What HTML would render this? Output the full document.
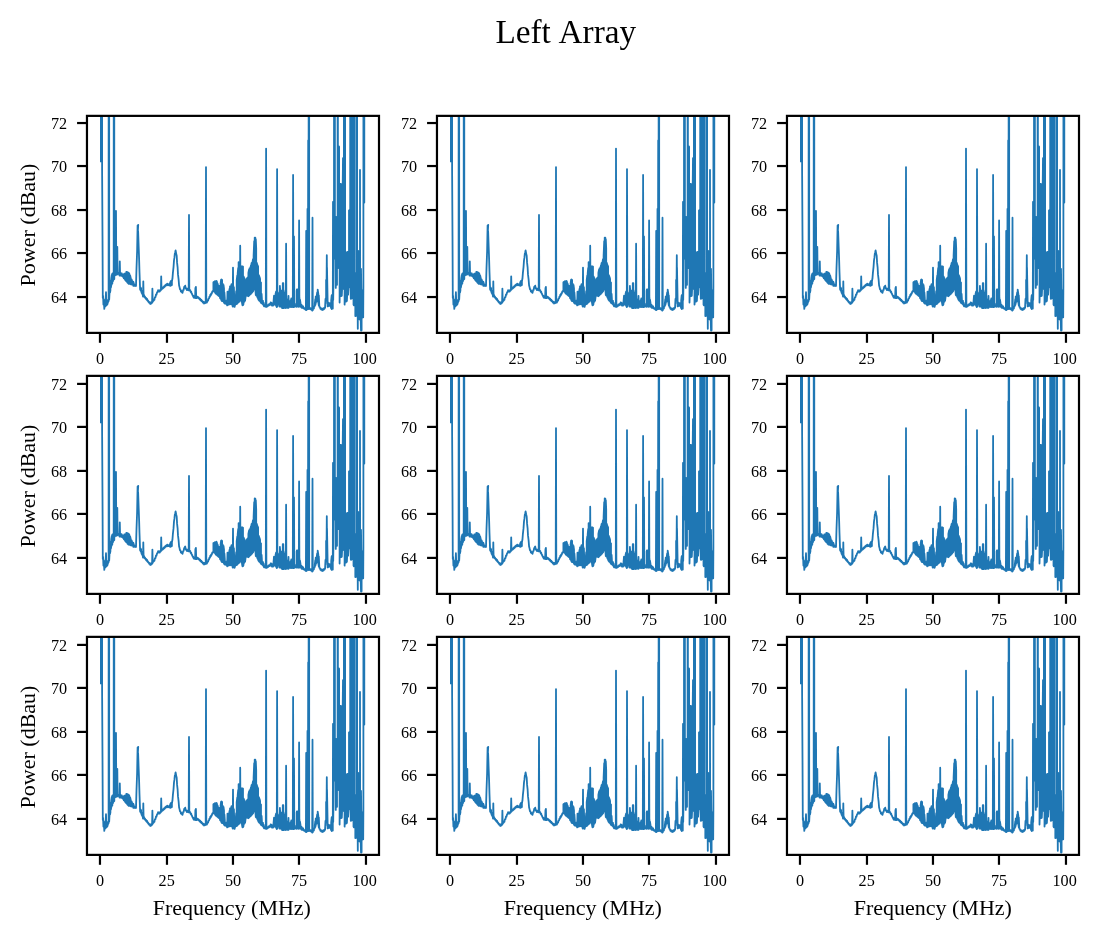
<!DOCTYPE html>
<html lang="en">
<head>
<meta charset="utf-8">
<title>Left Array</title>
<style>
html,body{margin:0;padding:0;background:#fff;}
body{width:1098px;height:940px;overflow:hidden;font-family:'Liberation Serif',serif;}
svg{display:block;}
</style>
</head>
<body>
<svg width="1098" height="940" viewBox="0 0 1098 940">
<rect x="0" y="0" width="1098" height="940" fill="#ffffff"/>
<text x="565.8" y="42.8" font-family="'Liberation Serif', serif" font-size="33.3" text-anchor="middle" word-spacing="1.2" fill="#000">Left Array</text>
<clipPath id="c00"><rect x="86.97" y="115.87" width="292.03" height="217.02"/></clipPath>
<path clip-path="url(#c00)" d="M100.9 162.3L101.0 -1500.0L101.9 -1500.0L102.1 170.0L102.5 236.0L102.8 298.0L103.1 296.0L103.4 304.5L103.8 299.5L104.3 308.9L104.8 302.5L105.3 306.5L106.0 292.2L106.4 305.5L106.9 300.0L107.3 304.6L107.9 302.2L108.6 301.0L109.0 -1500.0L109.2 299.5L109.5 293.2L109.5 284.9L110.0 284.9L110.0 292.5L110.4 290.5L110.4 283.0L110.8 280.4L110.8 287.9L111.3 285.4L111.3 278.3L111.8 274.9L111.8 284.0L112.3 283.6L112.3 273.6L112.8 273.2L112.8 281.6L113.4 279.6L113.4 273.2L113.7 279.6L114.0 -1500.0L114.3 279.1L113.9 273.7L113.9 277.8L114.4 276.5L114.4 273.8L114.8 274.1L114.8 275.3L115.3 274.7L115.3 273.9L115.7 275.0L116.0 210.9L116.3 274.5L115.8 273.7L115.8 274.4L116.3 274.7L116.3 273.5L116.7 273.4L116.7 274.3L117.0 274.6L117.3 246.8L117.6 274.1L117.3 274.0L117.3 273.2L117.9 273.0L117.9 273.7L118.4 273.9L118.4 272.9L118.9 272.9L118.9 273.7L119.5 275.6L119.8 261.3L120.1 275.1L119.4 274.5L119.4 273.0L120.0 272.7L120.0 275.1L120.5 275.6L120.5 273.3L120.9 273.1L120.9 275.2L121.3 275.5L121.3 273.8L121.8 273.4L121.8 275.9L122.4 276.4L122.4 274.5L122.9 274.8L122.9 276.7L123.3 277.1L123.3 274.9L123.8 274.3L123.8 278.2L124.3 278.6L124.3 273.6L124.8 273.6L124.8 278.9L125.2 280.0L125.2 273.9L125.8 273.3L125.8 280.6L126.3 281.2L126.3 271.9L126.8 272.0L126.8 281.7L127.2 282.0L127.2 272.8L127.6 272.4L127.6 282.7L128.0 283.0L128.0 273.2L128.6 272.6L128.6 283.8L129.1 283.4L129.1 273.4L129.6 274.6L129.6 283.8L130.2 283.8L130.2 275.6L130.7 278.0L130.7 284.3L131.3 284.3L131.3 279.3L131.7 279.5L131.7 284.5L132.3 283.8L132.3 280.9L132.8 282.0L132.8 284.3L133.4 285.8L133.4 281.9L133.8 283.5L133.8 285.9L134.4 285.5L134.4 284.5L135.0 284.9L135.0 285.9L135.4 284.6L136.0 286.0L136.5 268.4L137.1 251.5L137.6 225.4L137.9 226.2L138.2 224.9L137.5 237.5L138.1 230.9L138.6 244.7L139.1 258.6L139.5 272.5L140.1 289.3L140.6 290.2L140.6 287.5L141.1 288.5L141.1 290.8L141.7 293.0L141.7 290.9L142.3 292.2L142.3 293.9L142.7 294.9L142.7 292.9L143.0 296.7L143.3 281.3L143.6 296.2L143.2 293.8L143.2 295.9L143.8 296.6L143.8 294.7L144.2 295.5L144.2 296.6L144.7 297.2L144.7 296.3L145.2 297.0L145.2 297.9L145.8 298.6L145.8 297.8L146.3 298.2L146.3 299.2L146.7 299.8L146.7 298.4L147.3 299.3L147.3 300.4L147.8 301.0L147.8 300.4L148.2 300.9L148.2 301.5L148.7 302.0L148.7 301.5L149.3 302.9L149.8 302.3L150.3 304.0L150.8 302.4L151.4 303.5L152.1 302.3L152.4 288.6L152.7 301.8L152.0 301.7L152.4 302.5L153.0 300.6L153.4 300.9L153.9 299.4L154.4 299.9L154.9 297.4L155.5 297.2L156.0 294.4L156.5 294.6L157.1 292.2L157.6 292.2L158.1 290.1L158.7 291.3L159.2 290.4L159.7 291.6L160.1 290.1L160.5 290.6L160.9 289.7L161.2 276.3L161.5 289.2L161.0 288.9L161.5 289.5L162.0 287.9L162.6 288.6L163.2 287.2L163.6 287.7L164.2 286.1L164.6 287.0L165.2 285.3L165.6 285.9L166.2 284.3L166.8 284.4L166.8 284.9L167.2 285.2L167.2 283.7L167.7 283.8L167.7 284.9L168.3 285.2L168.3 284.4L168.8 284.4L168.8 285.2L169.2 285.2L169.2 284.2L169.6 284.4L169.6 285.5L170.1 285.6L170.1 282.9L170.6 281.5L170.6 285.8L171.0 284.9L171.0 281.0L171.5 281.5L171.5 285.0L171.9 285.1L171.9 281.5L172.4 278.5L172.4 279.1L172.9 272.9L173.5 267.4L174.0 260.4L174.4 257.9L174.8 253.8L175.2 252.5L175.6 250.3L176.2 253.6L176.7 255.7L177.1 262.9L177.6 267.3L178.0 274.4L178.6 279.4L179.1 285.6L179.5 286.9L179.9 289.1L180.4 289.3L180.9 291.5L181.3 290.7L181.7 292.0L182.1 291.4L182.5 292.9L183.1 290.2L183.6 290.0L184.2 287.0L184.6 286.6L185.2 285.6L185.8 288.5L186.2 288.2L186.8 290.0L187.3 288.7L187.7 290.1L188.2 288.8L188.7 290.1L189.0 215.0L189.3 289.6L188.8 290.4L189.3 289.2L189.9 290.5L190.3 290.1L190.7 292.2L191.2 291.6L191.7 293.9L192.2 293.9L192.7 295.9L193.2 295.7L193.7 297.7L194.3 296.8L194.8 297.9L195.1 297.7L195.4 287.8L195.8 297.2L195.2 296.9L195.6 297.7L195.9 286.8L196.2 297.2L195.8 298.1L196.3 296.8L196.8 298.0L197.3 296.7L197.9 297.8L198.4 297.2L198.8 298.6L199.4 298.2L199.9 299.6L200.3 298.8L200.8 300.5L201.4 299.9L201.9 301.4L202.4 300.9L203.0 302.7L203.6 301.9L204.0 303.5L204.5 302.1L205.0 303.2L205.5 301.7L205.7 302.6L206.0 167.1L206.3 302.1L205.9 302.8L206.3 301.7L206.9 302.6L207.5 300.3L208.1 300.6L208.5 298.6L209.0 298.6L209.4 296.7L209.9 296.8L210.3 294.7L210.8 295.4L211.2 293.5L211.7 293.7L212.3 291.5L212.9 291.6L213.4 290.8L213.4 282.2L214.0 281.9L214.0 290.6L214.4 291.6L214.4 282.3L214.9 281.2L214.9 291.8L215.3 292.8L215.3 281.3L215.9 281.1L215.9 293.7L216.5 293.5L216.5 280.8L217.0 282.1L217.0 294.5L217.5 294.8L217.5 283.3L218.1 285.6L218.1 295.4L218.6 295.6L218.6 285.9L219.1 286.0L219.1 296.3L219.6 296.6L219.6 287.6L220.0 287.8L220.0 298.0L220.6 298.8L220.6 283.3L221.1 279.6L221.1 299.2L221.5 300.4L221.5 279.5L222.1 279.9L222.1 301.2L222.6 300.4L222.6 283.6L223.0 284.8L223.0 301.1L223.5 301.7L223.5 284.8L224.0 288.6L224.0 302.8L224.4 302.8L224.4 292.5L224.8 298.1L224.8 303.5L225.3 303.0L225.3 300.5L225.8 300.8L225.8 303.8L226.3 303.2L226.3 300.9L226.8 300.2L226.8 303.9L227.2 305.4L227.5 291.6L227.8 304.9L227.3 304.2L227.3 298.6L227.7 295.8L227.7 304.3L228.3 304.7L228.3 294.4L228.7 294.4L228.7 304.3L229.1 304.1L229.1 291.3L229.6 288.7L229.6 304.3L230.0 304.4L230.0 286.4L230.6 286.9L230.6 303.9L231.1 304.1L231.1 286.2L231.5 284.2L231.5 303.6L232.0 304.5L232.0 284.0L232.4 285.7L232.4 305.0L232.7 306.5L233.0 267.6L233.3 306.0L232.9 305.3L232.9 285.5L233.4 286.2L233.4 306.3L233.9 306.4L233.9 287.4L234.3 300.0L234.3 306.8L234.7 306.8L234.7 300.7L235.3 298.5L235.3 304.8L235.8 303.6L235.8 296.3L236.2 291.2L236.2 303.0L236.7 304.0L236.7 280.1L237.3 275.4L237.3 303.5L237.7 303.1L237.7 273.2L238.2 268.0L238.2 302.4L238.6 302.1L238.6 262.2L239.2 262.7L239.2 301.8L239.8 299.4L239.8 264.6L239.9 299.8L240.2 245.7L240.5 299.3L240.2 265.7L240.2 299.7L240.7 299.1L240.7 266.7L241.1 266.5L241.1 300.3L241.5 301.8L241.5 266.5L242.1 266.4L242.1 303.6L242.5 305.4L242.5 266.5L243.0 266.7L243.0 305.1L243.5 304.1L243.5 276.3L244.1 277.9L244.1 302.1L244.6 301.4L244.6 278.5L245.1 280.5L245.1 300.7L245.6 296.6L245.6 280.1L246.1 280.4L246.1 295.5L246.6 295.5L246.6 280.3L247.0 278.2L247.0 295.0L247.4 295.8L247.4 278.4L248.0 277.1L248.0 295.8L248.4 296.2L248.4 272.8L249.0 269.6L249.0 295.7L249.5 294.6L249.5 268.5L250.0 268.4L250.0 294.6L250.5 294.2L250.5 267.4L251.0 265.1L251.0 293.7L251.5 292.5L251.5 263.2L252.0 262.8L252.0 292.6L252.5 291.3L252.5 262.2L253.0 259.1L253.0 291.5L253.6 289.8L253.6 255.9L254.2 241.2L254.2 288.7L254.7 288.9L254.7 237.6L255.3 237.6L255.3 288.8L255.8 295.1L255.8 239.2L256.2 248.3L256.2 295.5L256.7 295.6L256.7 262.7L257.2 264.5L257.2 296.5L257.6 297.8L257.6 265.2L258.1 266.6L258.1 298.6L258.5 299.8L258.5 275.1L259.0 275.3L259.0 300.3L259.5 300.9L259.5 276.8L260.1 279.0L260.1 301.2L260.6 302.2L260.6 282.4L261.0 282.4L261.0 302.9L261.6 303.1L261.6 293.8L262.0 300.5L262.0 303.4L262.5 304.1L262.5 300.9L263.0 301.0L263.0 304.4L263.6 305.2L263.6 302.6L264.0 304.6L264.0 306.3L264.6 306.2L264.6 305.4L265.2 305.8L265.2 306.3L265.8 306.7L266.1 148.6L266.4 306.2L265.6 306.3L265.6 305.8L266.1 306.7L266.5 305.8L267.0 306.8L267.5 305.4L267.9 305.5L267.9 306.0L268.5 305.6L268.5 304.5L269.1 304.4L269.1 305.3L269.6 304.9L269.6 304.2L270.1 303.6L270.1 304.8L270.6 304.2L270.6 302.4L271.1 302.6L271.1 304.4L271.5 304.6L271.5 302.8L271.9 303.4L271.9 305.5L272.4 305.4L272.4 303.4L273.0 303.3L273.0 305.6L273.4 304.7L273.4 303.0L274.0 295.7L274.0 304.0L274.5 304.3L274.5 297.3L275.0 296.9L275.0 304.8L275.6 304.5L275.6 293.7L276.2 291.3L276.2 305.9L276.8 307.0L277.1 169.1L277.4 306.5L276.6 306.5L276.6 292.0L277.1 292.7L277.1 306.2L277.5 304.6L277.5 294.6L277.9 294.1L277.9 304.4L278.5 303.9L278.5 294.2L279.0 292.9L279.0 303.6L279.6 306.7L279.9 285.8L280.2 306.2L279.5 304.3L279.5 293.1L280.1 287.9L280.1 305.0L280.5 306.1L280.5 291.7L281.0 292.2L281.0 306.8L281.4 307.0L281.4 292.4L281.9 290.3L281.9 307.9L282.5 308.0L282.8 283.1L283.1 307.5L282.5 307.7L282.5 289.8L283.0 308.1L283.3 283.1L283.6 307.6L283.0 283.3L283.0 308.0L283.6 308.0L283.6 290.2L284.1 292.8L284.1 307.8L284.6 307.8L284.6 292.9L285.1 294.4L285.1 306.7L285.6 306.1L285.6 296.0L285.8 308.1L286.1 243.7L286.4 307.6L286.0 297.0L286.0 306.6L286.6 307.2L286.6 299.3L287.0 300.6L287.0 307.1L287.4 307.5L287.4 300.6L287.9 299.4L287.9 307.4L288.2 308.0L288.5 295.8L288.8 307.5L288.4 307.1L288.4 297.7L288.8 300.9L288.8 307.5L289.2 306.7L289.2 301.8L289.7 301.8L289.7 306.0L290.2 306.6L290.2 302.2L290.8 300.0L290.8 307.0L291.3 307.0L291.3 298.3L291.8 299.1L291.8 306.6L292.2 306.2L292.2 300.6L292.8 307.2L293.1 175.0L293.4 306.7L292.7 302.6L292.7 306.1L293.2 305.6L293.2 303.6L293.7 307.0L294.0 236.4L294.3 306.5L293.7 304.5L293.7 307.0L294.1 306.5L294.1 305.2L294.6 305.3L294.6 306.8L295.1 306.3L295.1 305.5L295.6 305.5L295.6 306.3L296.2 306.0L296.2 303.7L296.6 306.8L296.9 289.5L297.2 306.3L296.7 290.4L296.7 306.3L297.1 306.7L297.4 289.5L297.7 306.2L297.2 306.5L297.2 290.9L297.7 291.2L297.7 305.9L298.1 306.3L298.1 291.9L298.5 293.8L298.5 306.3L298.8 306.9L299.1 220.4L299.4 306.4L299.1 306.7L299.1 295.5L299.5 298.0L299.5 305.0L300.0 305.6L300.0 299.6L300.6 303.6L300.6 306.5L301.1 307.0L301.1 304.8L301.6 304.9L301.6 307.7L302.0 307.9L302.0 305.7L302.6 306.0L302.6 307.9L303.0 308.0L303.0 306.2L303.5 307.3L303.5 308.2L304.0 308.6L304.0 308.0L304.5 308.1L304.5 308.9L305.0 308.7L305.6 309.9L305.9 310.0L306.2 230.8L306.5 309.5L306.2 309.0L306.6 310.0L307.2 308.2L307.5 208.8L307.8 307.7L307.1 308.1L307.5 309.1L307.9 308.4L308.2 140.4L308.5 307.9L308.0 307.7L308.6 308.7L308.9 -1500.0L309.2 308.2L308.5 309.0L308.9 307.5L309.4 308.8L309.9 309.1L309.9 308.0L310.4 308.1L310.4 308.7L310.9 309.4L310.9 308.4L311.5 308.5L311.5 309.8L312.0 309.4L312.0 308.6L312.2 310.7L312.5 217.7L312.8 310.2L312.4 308.6L312.4 309.7L312.9 309.4L312.9 308.5L313.3 308.1L313.3 308.8L313.9 308.4L313.9 306.8L314.3 306.3L314.3 307.0L314.8 305.6L314.8 303.6L315.3 299.2L315.3 304.9L315.7 303.5L315.7 296.7L316.3 296.5L316.3 302.1L316.7 301.4L316.7 295.9L317.2 292.5L317.2 300.6L317.7 300.5L317.7 289.6L318.3 293.6L318.3 301.9L318.8 305.4L318.8 295.4L319.3 305.8L319.3 306.7L319.9 307.0L320.4 308.8L320.8 307.9L321.3 309.6L321.9 308.9L322.4 310.0L322.9 308.5L323.4 309.6L324.0 307.9L324.5 308.7L325.1 307.5L325.1 306.8L325.5 298.8L325.5 303.8L326.1 297.1L326.1 279.9L326.5 291.2L326.8 255.2L327.1 290.7L326.6 278.6L326.6 291.4L327.0 295.6L327.0 267.4L327.6 299.2L327.6 306.4L328.2 306.1L328.2 302.4L328.6 303.5L328.6 305.7L329.1 305.6L329.1 303.8L329.6 303.2L329.6 305.8L330.2 305.7L330.2 303.7L330.6 303.3L330.6 306.0L331.2 308.2L331.2 300.0L331.7 295.4L331.7 309.0L332.2 308.1L332.2 294.7L332.8 308.5L333.0 201.8L333.2 300.0L333.4 285.7L333.4 203.0L333.7 202.1L333.7 258.7L334.0 258.8L334.0 203.0L334.3 -1500.0L334.3 258.5L334.6 258.5L334.6 -1500.0L334.9 -1500.0L334.9 258.4L335.2 258.6L335.2 217.7L335.5 217.3L335.5 258.5L335.8 287.9L335.8 217.0L336.1 217.1L336.1 284.1L336.4 284.2L336.4 217.6L336.7 217.6L336.7 284.1L337.0 284.8L337.0 216.7L337.3 216.6L337.3 267.9L337.6 268.1L337.6 -1500.0L337.9 -1500.0L337.9 267.8L338.2 268.0L338.2 145.9L338.5 146.0L338.5 267.9L338.8 267.8L338.8 146.4L339.1 146.8L339.1 267.9L339.4 267.3L339.4 185.0L339.6 183.8L339.6 302.6L339.7 294.9L339.7 185.0L340.0 185.0L340.0 295.3L340.3 295.0L340.3 183.8L340.6 184.8L340.6 295.7L340.9 296.1L340.9 184.0L341.2 184.2L341.2 296.1L341.5 295.8L341.5 184.3L341.8 185.0L341.8 295.7L342.1 289.3L342.1 185.1L342.4 185.0L342.4 289.1L342.7 289.0L342.7 185.1L343.0 158.1L343.0 288.2L343.3 288.3L343.3 158.6L343.6 158.5L343.6 288.3L343.9 288.2L343.9 158.6L344.2 -1500.0L344.2 289.2L344.5 289.2L344.5 -1500.0L344.6 -1500.0L344.6 304.6L344.8 301.3L344.8 -1500.0L345.1 252.5L345.1 301.5L345.4 301.3L345.4 252.5L345.7 253.1L345.7 301.3L346.0 301.6L346.0 253.1L346.3 252.6L346.3 301.3L346.6 300.6L346.6 252.4L346.9 253.2L346.9 300.9L347.2 294.7L347.2 252.8L347.5 251.8L347.5 294.5L347.8 294.5L347.8 253.2L348.1 253.3L348.1 294.7L348.4 287.4L348.4 252.5L348.7 251.9L348.7 287.2L349.0 287.2L349.0 210.3L349.3 210.3L349.3 287.1L349.6 287.2L349.6 210.6L349.9 210.1L349.9 287.1L350.2 287.7L350.2 -1500.0L350.5 -1500.0L350.5 287.6L350.8 298.7L350.8 -1500.0L351.1 -1500.0L351.1 298.9L351.4 298.3L351.4 -1500.0L351.7 -1500.0L351.7 298.2L352.0 298.3L352.0 -1500.0L352.3 -1500.0L352.3 298.2L352.6 297.8L352.6 -1500.0L352.9 -1500.0L352.9 297.8L353.2 298.0L353.2 -1500.0L353.5 -1500.0L353.5 304.4L353.8 305.3L353.8 -1500.0L354.1 -1500.0L354.1 305.3L354.4 305.2L354.4 272.9L354.7 274.1L354.7 305.2L355.0 305.3L355.0 273.3L355.3 273.1L355.3 316.1L355.6 315.7L355.6 273.7L355.9 274.0L355.9 315.8L356.2 315.2L356.2 273.7L356.5 -1500.0L356.5 315.2L356.8 315.2L356.8 -1500.0L357.1 251.8L357.1 315.2L357.4 316.1L357.4 251.5L357.7 251.0L357.7 316.1L357.8 328.8L357.8 250.8L358.0 250.9L358.0 319.6L358.3 319.3L358.3 252.2L358.6 252.0L358.6 319.0L358.9 318.8L358.9 251.6L359.2 251.3L359.2 319.1L359.5 319.0L359.5 251.3L359.8 252.2L359.8 319.2L360.0 319.7L360.0 170.0L360.1 269.7L360.1 319.5L360.4 319.5L360.4 269.0L360.7 269.7L360.7 319.1L361.0 330.6L361.0 268.8L361.3 291.2L361.3 330.6L361.6 330.3L361.6 291.8L361.9 290.9L361.9 316.2L362.2 317.2L362.2 290.6L362.5 290.3L362.5 317.4L362.8 317.5L362.8 291.3L363.2 317.2L363.4 285.0L363.6 -1500.0L364.3 202.5L364.7 -1500.0" fill="none" stroke="#1f77b4" stroke-width="1.8" stroke-linejoin="round" stroke-linecap="butt"/>
<line x1="99.97" y1="332.89" x2="99.97" y2="342.79" stroke="#000" stroke-width="2.2"/>
<text x="99.97" y="364.19" font-family="'Liberation Serif', serif" font-size="16.2" text-anchor="middle" fill="#000">0</text>
<line x1="166.97" y1="332.89" x2="166.97" y2="342.79" stroke="#000" stroke-width="2.2"/>
<text x="166.67" y="364.19" font-family="'Liberation Serif', serif" font-size="16.2" text-anchor="middle" fill="#000">25</text>
<line x1="232.97" y1="332.89" x2="232.97" y2="342.79" stroke="#000" stroke-width="2.2"/>
<text x="232.97" y="364.19" font-family="'Liberation Serif', serif" font-size="16.2" text-anchor="middle" fill="#000">50</text>
<line x1="298.97" y1="332.89" x2="298.97" y2="342.79" stroke="#000" stroke-width="2.2"/>
<text x="298.97" y="364.19" font-family="'Liberation Serif', serif" font-size="16.2" text-anchor="middle" fill="#000">75</text>
<line x1="365.97" y1="332.89" x2="365.97" y2="342.79" stroke="#000" stroke-width="2.2"/>
<text x="364.67" y="364.19" font-family="'Liberation Serif', serif" font-size="16.2" text-anchor="middle" fill="#000">100</text>
<line x1="77.07" y1="297.03" x2="86.97" y2="297.03" stroke="#000" stroke-width="2.2"/>
<text x="67.17" y="302.93" font-family="'Liberation Serif', serif" font-size="16.2" text-anchor="end" fill="#000">64</text>
<line x1="77.07" y1="253.03" x2="86.97" y2="253.03" stroke="#000" stroke-width="2.2"/>
<text x="67.17" y="258.93" font-family="'Liberation Serif', serif" font-size="16.2" text-anchor="end" fill="#000">66</text>
<line x1="77.07" y1="210.03" x2="86.97" y2="210.03" stroke="#000" stroke-width="2.2"/>
<text x="67.17" y="215.93" font-family="'Liberation Serif', serif" font-size="16.2" text-anchor="end" fill="#000">68</text>
<line x1="77.07" y1="166.03" x2="86.97" y2="166.03" stroke="#000" stroke-width="2.2"/>
<text x="67.17" y="171.93" font-family="'Liberation Serif', serif" font-size="16.2" text-anchor="end" fill="#000">70</text>
<line x1="77.07" y1="123.03" x2="86.97" y2="123.03" stroke="#000" stroke-width="2.2"/>
<text x="67.17" y="128.93" font-family="'Liberation Serif', serif" font-size="16.2" text-anchor="end" fill="#000">72</text>
<rect x="86.97" y="115.87" width="292.03" height="217.02" fill="none" stroke="#000" stroke-width="2.2" stroke-linejoin="miter"/>
<text transform="translate(35.4 225.00) rotate(-90)" font-family="'Liberation Serif', serif" font-size="22.0" text-anchor="middle" fill="#000">Power (dBau)</text>
<clipPath id="c01"><rect x="436.97" y="115.87" width="292.03" height="217.02"/></clipPath>
<path clip-path="url(#c01)" d="M450.9 162.3L450.9 -1500.0L451.9 -1500.0L452.1 170.0L452.5 236.0L452.8 298.0L453.1 296.0L453.4 304.5L453.8 299.5L454.3 308.9L454.8 302.5L455.3 306.5L455.9 292.2L456.4 305.5L456.9 300.0L457.3 304.6L457.9 302.2L458.6 301.0L458.9 -1500.0L459.2 299.5L459.5 293.2L459.5 284.9L460.0 284.9L460.0 292.5L460.4 290.5L460.4 283.0L460.8 280.4L460.8 287.9L461.3 285.4L461.3 278.3L461.8 274.9L461.8 284.0L462.3 283.6L462.3 273.6L462.8 273.2L462.8 281.6L463.4 279.6L463.4 273.2L463.7 279.6L464.0 -1500.0L464.3 279.1L463.9 273.7L463.9 277.8L464.4 276.5L464.4 273.8L464.8 274.1L464.8 275.3L465.3 274.7L465.3 273.9L465.7 275.0L466.0 210.9L466.3 274.5L465.8 273.7L465.8 274.4L466.3 274.7L466.3 273.5L466.7 273.4L466.7 274.3L467.0 274.6L467.3 246.8L467.6 274.1L467.3 274.0L467.3 273.2L467.9 273.0L467.9 273.7L468.4 273.9L468.4 272.9L468.9 272.9L468.9 273.7L469.5 275.6L469.8 261.3L470.1 275.1L469.4 274.5L469.4 273.0L470.0 272.7L470.0 275.1L470.5 275.6L470.5 273.3L470.9 273.1L470.9 275.2L471.3 275.5L471.3 273.8L471.8 273.4L471.8 275.9L472.4 276.4L472.4 274.5L472.9 274.8L472.9 276.7L473.3 277.1L473.3 274.9L473.8 274.3L473.8 278.2L474.3 278.6L474.3 273.6L474.8 273.6L474.8 278.9L475.2 280.0L475.2 273.9L475.8 273.3L475.8 280.6L476.3 281.2L476.3 271.9L476.8 272.0L476.8 281.7L477.2 282.0L477.2 272.8L477.6 272.4L477.6 282.7L478.0 283.0L478.0 273.2L478.6 272.6L478.6 283.8L479.1 283.4L479.1 273.4L479.6 274.6L479.6 283.8L480.2 283.8L480.2 275.6L480.7 278.0L480.7 284.3L481.3 284.3L481.3 279.3L481.7 279.5L481.7 284.5L482.3 283.8L482.3 280.9L482.8 282.0L482.8 284.3L483.4 285.8L483.4 281.9L483.8 283.5L483.8 285.9L484.4 285.5L484.4 284.5L485.0 284.9L485.0 285.9L485.4 284.6L486.0 286.0L486.5 268.4L487.1 251.5L487.6 225.4L487.9 226.2L488.2 224.9L487.5 237.5L488.1 230.9L488.6 244.7L489.1 258.6L489.5 272.5L490.1 289.3L490.6 290.2L490.6 287.5L491.1 288.5L491.1 290.8L491.7 293.0L491.7 290.9L492.3 292.2L492.3 293.9L492.7 294.9L492.7 292.9L493.0 296.7L493.3 281.3L493.6 296.2L493.2 293.8L493.2 295.9L493.8 296.6L493.8 294.7L494.2 295.5L494.2 296.6L494.7 297.2L494.7 296.3L495.2 297.0L495.2 297.9L495.8 298.6L495.8 297.8L496.3 298.2L496.3 299.2L496.7 299.8L496.7 298.4L497.3 299.3L497.3 300.4L497.8 301.0L497.8 300.4L498.2 300.9L498.2 301.5L498.7 302.0L498.7 301.5L499.3 302.9L499.8 302.3L500.3 304.0L500.8 302.4L501.4 303.5L502.1 302.3L502.4 288.6L502.7 301.8L502.0 301.7L502.4 302.5L503.0 300.6L503.4 300.9L503.9 299.4L504.4 299.9L504.9 297.4L505.5 297.2L506.0 294.4L506.5 294.6L507.1 292.2L507.6 292.2L508.1 290.1L508.7 291.3L509.2 290.4L509.7 291.6L510.1 290.1L510.5 290.6L510.9 289.7L511.2 276.3L511.5 289.2L511.0 288.9L511.5 289.5L512.0 287.9L512.6 288.6L513.2 287.2L513.6 287.7L514.2 286.1L514.6 287.0L515.2 285.3L515.6 285.9L516.2 284.3L516.8 284.4L516.8 284.9L517.2 285.2L517.2 283.7L517.7 283.8L517.7 284.9L518.3 285.2L518.3 284.4L518.8 284.4L518.8 285.2L519.2 285.2L519.2 284.2L519.6 284.4L519.6 285.5L520.1 285.6L520.1 282.9L520.6 281.5L520.6 285.8L521.0 284.9L521.0 281.0L521.5 281.5L521.5 285.0L521.9 285.1L521.9 281.5L522.4 278.5L522.4 279.1L522.9 272.9L523.5 267.4L524.0 260.4L524.4 257.9L524.8 253.8L525.2 252.5L525.6 250.3L526.2 253.6L526.7 255.7L527.1 262.9L527.6 267.3L528.0 274.4L528.6 279.4L529.1 285.6L529.5 286.9L529.9 289.1L530.4 289.3L530.9 291.5L531.3 290.7L531.7 292.0L532.1 291.4L532.5 292.9L533.1 290.2L533.6 290.0L534.2 287.0L534.6 286.6L535.2 285.6L535.8 288.5L536.2 288.2L536.8 290.0L537.3 288.7L537.7 290.1L538.2 288.8L538.7 290.1L539.0 215.0L539.3 289.6L538.8 290.4L539.3 289.2L539.9 290.5L540.3 290.1L540.7 292.2L541.2 291.6L541.7 293.9L542.2 293.9L542.7 295.9L543.2 295.7L543.7 297.7L544.3 296.8L544.8 297.9L545.1 297.7L545.5 287.8L545.8 297.2L545.2 296.9L545.6 297.7L545.9 286.8L546.2 297.2L545.8 298.1L546.3 296.8L546.8 298.0L547.3 296.7L547.9 297.8L548.4 297.2L548.8 298.6L549.4 298.2L549.9 299.6L550.3 298.8L550.8 300.5L551.4 299.9L551.9 301.4L552.4 300.9L553.0 302.7L553.6 301.9L554.0 303.5L554.5 302.1L555.0 303.2L555.5 301.7L555.7 302.6L556.0 167.1L556.3 302.1L555.9 302.8L556.3 301.7L556.9 302.6L557.5 300.3L558.1 300.6L558.5 298.6L559.0 298.6L559.4 296.7L559.9 296.8L560.3 294.7L560.8 295.4L561.2 293.5L561.7 293.7L562.3 291.5L562.9 291.6L563.4 290.8L563.4 282.2L564.0 281.9L564.0 290.6L564.4 291.6L564.4 282.3L564.9 281.2L564.9 291.8L565.3 292.8L565.3 281.3L565.9 281.1L565.9 293.7L566.5 293.5L566.5 280.8L567.0 282.1L567.0 294.5L567.5 294.8L567.5 283.3L568.1 285.6L568.1 295.4L568.6 295.6L568.6 285.9L569.1 286.0L569.1 296.3L569.6 296.6L569.6 287.6L570.0 287.8L570.0 298.0L570.6 298.8L570.6 283.3L571.1 279.6L571.1 299.2L571.5 300.4L571.5 279.5L572.1 279.9L572.1 301.2L572.6 300.4L572.6 283.6L573.0 284.8L573.0 301.1L573.5 301.7L573.5 284.8L574.0 288.6L574.0 302.8L574.4 302.8L574.4 292.5L574.8 298.1L574.8 303.5L575.3 303.0L575.3 300.5L575.8 300.8L575.8 303.8L576.3 303.2L576.3 300.9L576.8 300.2L576.8 303.9L577.2 305.4L577.5 291.6L577.8 304.9L577.3 304.2L577.3 298.6L577.7 295.8L577.7 304.3L578.3 304.7L578.3 294.4L578.7 294.4L578.7 304.3L579.1 304.1L579.1 291.3L579.6 288.7L579.6 304.3L580.0 304.4L580.0 286.4L580.6 286.9L580.6 303.9L581.1 304.1L581.1 286.2L581.5 284.2L581.5 303.6L582.0 304.5L582.0 284.0L582.4 285.7L582.4 305.0L582.7 306.5L583.0 267.6L583.3 306.0L582.9 305.3L582.9 285.5L583.4 286.2L583.4 306.3L583.9 306.4L583.9 287.4L584.3 300.0L584.3 306.8L584.7 306.8L584.7 300.7L585.3 298.5L585.3 304.8L585.8 303.6L585.8 296.3L586.2 291.2L586.2 303.0L586.7 304.0L586.7 280.1L587.3 275.4L587.3 303.5L587.7 303.1L587.7 273.2L588.2 268.0L588.2 302.4L588.6 302.1L588.6 262.2L589.2 262.7L589.2 301.8L589.8 299.4L589.8 264.6L589.9 299.8L590.2 245.7L590.5 299.3L590.2 265.7L590.2 299.7L590.7 299.1L590.7 266.7L591.1 266.5L591.1 300.3L591.5 301.8L591.5 266.5L592.1 266.4L592.1 303.6L592.5 305.4L592.5 266.5L593.0 266.7L593.0 305.1L593.5 304.1L593.5 276.3L594.1 277.9L594.1 302.1L594.6 301.4L594.6 278.5L595.1 280.5L595.1 300.7L595.6 296.6L595.6 280.1L596.1 280.4L596.1 295.5L596.6 295.5L596.6 280.3L597.0 278.2L597.0 295.0L597.4 295.8L597.4 278.4L598.0 277.1L598.0 295.8L598.4 296.2L598.4 272.8L599.0 269.6L599.0 295.7L599.5 294.6L599.5 268.5L600.0 268.4L600.0 294.6L600.5 294.2L600.5 267.4L601.0 265.1L601.0 293.7L601.5 292.5L601.5 263.2L602.0 262.8L602.0 292.6L602.5 291.3L602.5 262.2L603.0 259.1L603.0 291.5L603.6 289.8L603.6 255.9L604.2 241.2L604.2 288.7L604.7 288.9L604.7 237.6L605.3 237.6L605.3 288.8L605.8 295.1L605.8 239.2L606.2 248.3L606.2 295.5L606.7 295.6L606.7 262.7L607.2 264.5L607.2 296.5L607.6 297.8L607.6 265.2L608.1 266.6L608.1 298.6L608.5 299.8L608.5 275.1L609.0 275.3L609.0 300.3L609.5 300.9L609.5 276.8L610.1 279.0L610.1 301.2L610.6 302.2L610.6 282.4L611.0 282.4L611.0 302.9L611.6 303.1L611.6 293.8L612.0 300.5L612.0 303.4L612.5 304.1L612.5 300.9L613.0 301.0L613.0 304.4L613.6 305.2L613.6 302.6L614.0 304.6L614.0 306.3L614.6 306.2L614.6 305.4L615.2 305.8L615.2 306.3L615.8 306.7L616.0 148.6L616.4 306.2L615.6 306.3L615.6 305.8L616.1 306.7L616.5 305.8L617.0 306.8L617.5 305.4L617.9 305.5L617.9 306.0L618.5 305.6L618.5 304.5L619.1 304.4L619.1 305.3L619.6 304.9L619.6 304.2L620.1 303.6L620.1 304.8L620.6 304.2L620.6 302.4L621.1 302.6L621.1 304.4L621.5 304.6L621.5 302.8L621.9 303.4L621.9 305.5L622.4 305.4L622.4 303.4L623.0 303.3L623.0 305.6L623.4 304.7L623.4 303.0L624.0 295.7L624.0 304.0L624.5 304.3L624.5 297.3L625.0 296.9L625.0 304.8L625.6 304.5L625.6 293.7L626.2 291.3L626.2 305.9L626.8 307.0L627.0 169.1L627.4 306.5L626.6 306.5L626.6 292.0L627.1 292.7L627.1 306.2L627.5 304.6L627.5 294.6L627.9 294.1L627.9 304.4L628.5 303.9L628.5 294.2L629.0 292.9L629.0 303.6L629.6 306.7L629.9 285.8L630.2 306.2L629.5 304.3L629.5 293.1L630.1 287.9L630.1 305.0L630.5 306.1L630.5 291.7L631.0 292.2L631.0 306.8L631.4 307.0L631.4 292.4L631.9 290.3L631.9 307.9L632.5 308.0L632.8 283.1L633.1 307.5L632.5 307.7L632.5 289.8L633.0 308.1L633.3 283.1L633.6 307.6L633.0 283.3L633.0 308.0L633.6 308.0L633.6 290.2L634.1 292.8L634.1 307.8L634.6 307.8L634.6 292.9L635.1 294.4L635.1 306.7L635.6 306.1L635.6 296.0L635.8 308.1L636.1 243.7L636.4 307.6L636.0 297.0L636.0 306.6L636.6 307.2L636.6 299.3L637.0 300.6L637.0 307.1L637.4 307.5L637.4 300.6L637.9 299.4L637.9 307.4L638.2 308.0L638.5 295.8L638.8 307.5L638.4 307.1L638.4 297.7L638.8 300.9L638.8 307.5L639.2 306.7L639.2 301.8L639.7 301.8L639.7 306.0L640.2 306.6L640.2 302.2L640.8 300.0L640.8 307.0L641.3 307.0L641.3 298.3L641.8 299.1L641.8 306.6L642.2 306.2L642.2 300.6L642.8 307.2L643.1 175.0L643.4 306.7L642.7 302.6L642.7 306.1L643.2 305.6L643.2 303.6L643.7 307.0L644.0 236.4L644.3 306.5L643.7 304.5L643.7 307.0L644.1 306.5L644.1 305.2L644.6 305.3L644.6 306.8L645.1 306.3L645.1 305.5L645.6 305.5L645.6 306.3L646.2 306.0L646.2 303.7L646.6 306.8L646.9 289.5L647.2 306.3L646.7 290.4L646.7 306.3L647.1 306.7L647.4 289.5L647.7 306.2L647.2 306.5L647.2 290.9L647.7 291.2L647.7 305.9L648.1 306.3L648.1 291.9L648.5 293.8L648.5 306.3L648.8 306.9L649.1 220.4L649.4 306.4L649.1 306.7L649.1 295.5L649.5 298.0L649.5 305.0L650.0 305.6L650.0 299.6L650.6 303.6L650.6 306.5L651.1 307.0L651.1 304.8L651.6 304.9L651.6 307.7L652.0 307.9L652.0 305.7L652.6 306.0L652.6 307.9L653.0 308.0L653.0 306.2L653.5 307.3L653.5 308.2L654.0 308.6L654.0 308.0L654.5 308.1L654.5 308.9L655.0 308.7L655.6 309.9L655.9 310.0L656.2 230.8L656.5 309.5L656.2 309.0L656.6 310.0L657.2 308.2L657.5 208.8L657.8 307.7L657.1 308.1L657.5 309.1L657.9 308.4L658.2 140.4L658.5 307.9L658.0 307.7L658.6 308.7L658.9 -1500.0L659.2 308.2L658.5 309.0L658.9 307.5L659.4 308.8L659.9 309.1L659.9 308.0L660.4 308.1L660.4 308.7L660.9 309.4L660.9 308.4L661.5 308.5L661.5 309.8L662.0 309.4L662.0 308.6L662.2 310.7L662.5 217.7L662.8 310.2L662.4 308.6L662.4 309.7L662.9 309.4L662.9 308.5L663.3 308.1L663.3 308.8L663.9 308.4L663.9 306.8L664.3 306.3L664.3 307.0L664.8 305.6L664.8 303.6L665.3 299.2L665.3 304.9L665.7 303.5L665.7 296.7L666.3 296.5L666.3 302.1L666.7 301.4L666.7 295.9L667.2 292.5L667.2 300.6L667.7 300.5L667.7 289.6L668.3 293.6L668.3 301.9L668.8 305.4L668.8 295.4L669.3 305.8L669.3 306.7L669.9 307.0L670.4 308.8L670.8 307.9L671.3 309.6L671.9 308.9L672.4 310.0L672.9 308.5L673.4 309.6L674.0 307.9L674.5 308.7L675.1 307.5L675.1 306.8L675.5 298.8L675.5 303.8L676.1 297.1L676.1 279.9L676.5 291.2L676.8 255.2L677.1 290.7L676.6 278.6L676.6 291.4L677.0 295.6L677.0 267.4L677.6 299.2L677.6 306.4L678.2 306.1L678.2 302.4L678.6 303.5L678.6 305.7L679.1 305.6L679.1 303.8L679.6 303.2L679.6 305.8L680.2 305.7L680.2 303.7L680.6 303.3L680.6 306.0L681.2 308.2L681.2 300.0L681.7 295.4L681.7 309.0L682.2 308.1L682.2 294.7L682.8 308.5L683.0 201.8L683.2 300.0L683.4 285.7L683.4 203.0L683.7 202.1L683.7 258.7L684.0 258.8L684.0 203.0L684.3 -1500.0L684.3 258.5L684.6 258.5L684.6 -1500.0L684.9 -1500.0L684.9 258.4L685.2 258.6L685.2 217.7L685.5 217.3L685.5 258.5L685.8 287.9L685.8 217.0L686.1 217.1L686.1 284.1L686.4 284.2L686.4 217.6L686.7 217.6L686.7 284.1L687.0 284.8L687.0 216.7L687.3 216.6L687.3 267.9L687.6 268.1L687.6 -1500.0L687.9 -1500.0L687.9 267.8L688.2 268.0L688.2 145.9L688.5 146.0L688.5 267.9L688.8 267.8L688.8 146.4L689.1 146.8L689.1 267.9L689.4 267.3L689.4 185.0L689.5 183.8L689.5 302.6L689.7 294.9L689.7 185.0L690.0 185.0L690.0 295.3L690.3 295.0L690.3 183.8L690.6 184.8L690.6 295.7L690.9 296.1L690.9 184.0L691.2 184.2L691.2 296.1L691.5 295.8L691.5 184.3L691.8 185.0L691.8 295.7L692.1 289.3L692.1 185.1L692.4 185.0L692.4 289.1L692.7 289.0L692.7 185.1L693.0 158.1L693.0 288.2L693.3 288.3L693.3 158.6L693.6 158.5L693.6 288.3L693.9 288.2L693.9 158.6L694.2 -1500.0L694.2 289.2L694.5 289.2L694.5 -1500.0L694.5 -1500.0L694.5 304.6L694.8 301.3L694.8 -1500.0L695.1 252.5L695.1 301.5L695.4 301.3L695.4 252.5L695.7 253.1L695.7 301.3L696.0 301.6L696.0 253.1L696.3 252.6L696.3 301.3L696.6 300.6L696.6 252.4L696.9 253.2L696.9 300.9L697.2 294.7L697.2 252.8L697.5 251.8L697.5 294.5L697.8 294.5L697.8 253.2L698.1 253.3L698.1 294.7L698.4 287.4L698.4 252.5L698.7 251.9L698.7 287.2L699.0 287.2L699.0 210.3L699.3 210.3L699.3 287.1L699.6 287.2L699.6 210.6L699.9 210.1L699.9 287.1L700.2 287.7L700.2 -1500.0L700.5 -1500.0L700.5 287.6L700.8 298.7L700.8 -1500.0L701.1 -1500.0L701.1 298.9L701.4 298.3L701.4 -1500.0L701.7 -1500.0L701.7 298.2L702.0 298.3L702.0 -1500.0L702.3 -1500.0L702.3 298.2L702.6 297.8L702.6 -1500.0L702.9 -1500.0L702.9 297.8L703.2 298.0L703.2 -1500.0L703.5 -1500.0L703.5 304.4L703.8 305.3L703.8 -1500.0L704.1 -1500.0L704.1 305.3L704.4 305.2L704.4 272.9L704.7 274.1L704.7 305.2L705.0 305.3L705.0 273.3L705.3 273.1L705.3 316.1L705.6 315.7L705.6 273.7L705.9 274.0L705.9 315.8L706.2 315.2L706.2 273.7L706.5 -1500.0L706.5 315.2L706.8 315.2L706.8 -1500.0L707.1 251.8L707.1 315.2L707.4 316.1L707.4 251.5L707.7 251.0L707.7 316.1L707.8 328.8L707.8 250.8L708.0 250.9L708.0 319.6L708.3 319.3L708.3 252.2L708.6 252.0L708.6 319.0L708.9 318.8L708.9 251.6L709.2 251.3L709.2 319.1L709.5 319.0L709.5 251.3L709.8 252.2L709.8 319.2L710.0 319.7L710.0 170.0L710.1 269.7L710.1 319.5L710.4 319.5L710.4 269.0L710.7 269.7L710.7 319.1L711.0 330.6L711.0 268.8L711.3 291.2L711.3 330.6L711.6 330.3L711.6 291.8L711.9 290.9L711.9 316.2L712.2 317.2L712.2 290.6L712.5 290.3L712.5 317.4L712.8 317.5L712.8 291.3L713.2 317.2L713.4 285.0L713.6 -1500.0L714.3 202.5L714.7 -1500.0" fill="none" stroke="#1f77b4" stroke-width="1.8" stroke-linejoin="round" stroke-linecap="butt"/>
<line x1="449.97" y1="332.89" x2="449.97" y2="342.79" stroke="#000" stroke-width="2.2"/>
<text x="449.97" y="364.19" font-family="'Liberation Serif', serif" font-size="16.2" text-anchor="middle" fill="#000">0</text>
<line x1="516.97" y1="332.89" x2="516.97" y2="342.79" stroke="#000" stroke-width="2.2"/>
<text x="516.67" y="364.19" font-family="'Liberation Serif', serif" font-size="16.2" text-anchor="middle" fill="#000">25</text>
<line x1="582.97" y1="332.89" x2="582.97" y2="342.79" stroke="#000" stroke-width="2.2"/>
<text x="582.97" y="364.19" font-family="'Liberation Serif', serif" font-size="16.2" text-anchor="middle" fill="#000">50</text>
<line x1="648.97" y1="332.89" x2="648.97" y2="342.79" stroke="#000" stroke-width="2.2"/>
<text x="648.97" y="364.19" font-family="'Liberation Serif', serif" font-size="16.2" text-anchor="middle" fill="#000">75</text>
<line x1="715.97" y1="332.89" x2="715.97" y2="342.79" stroke="#000" stroke-width="2.2"/>
<text x="714.67" y="364.19" font-family="'Liberation Serif', serif" font-size="16.2" text-anchor="middle" fill="#000">100</text>
<line x1="427.07" y1="297.03" x2="436.97" y2="297.03" stroke="#000" stroke-width="2.2"/>
<text x="417.17" y="302.93" font-family="'Liberation Serif', serif" font-size="16.2" text-anchor="end" fill="#000">64</text>
<line x1="427.07" y1="253.03" x2="436.97" y2="253.03" stroke="#000" stroke-width="2.2"/>
<text x="417.17" y="258.93" font-family="'Liberation Serif', serif" font-size="16.2" text-anchor="end" fill="#000">66</text>
<line x1="427.07" y1="210.03" x2="436.97" y2="210.03" stroke="#000" stroke-width="2.2"/>
<text x="417.17" y="215.93" font-family="'Liberation Serif', serif" font-size="16.2" text-anchor="end" fill="#000">68</text>
<line x1="427.07" y1="166.03" x2="436.97" y2="166.03" stroke="#000" stroke-width="2.2"/>
<text x="417.17" y="171.93" font-family="'Liberation Serif', serif" font-size="16.2" text-anchor="end" fill="#000">70</text>
<line x1="427.07" y1="123.03" x2="436.97" y2="123.03" stroke="#000" stroke-width="2.2"/>
<text x="417.17" y="128.93" font-family="'Liberation Serif', serif" font-size="16.2" text-anchor="end" fill="#000">72</text>
<rect x="436.97" y="115.87" width="292.03" height="217.02" fill="none" stroke="#000" stroke-width="2.2" stroke-linejoin="miter"/>
<clipPath id="c02"><rect x="786.97" y="115.87" width="292.03" height="217.02"/></clipPath>
<path clip-path="url(#c02)" d="M800.9 162.3L801.0 -1500.0L801.9 -1500.0L802.1 170.0L802.5 236.0L802.8 298.0L803.1 296.0L803.4 304.5L803.8 299.5L804.3 308.9L804.8 302.5L805.3 306.5L806.0 292.2L806.4 305.5L806.9 300.0L807.3 304.6L807.9 302.2L808.6 301.0L809.0 -1500.0L809.2 299.5L809.5 293.2L809.5 284.9L810.0 284.9L810.0 292.5L810.4 290.5L810.4 283.0L810.8 280.4L810.8 287.9L811.3 285.4L811.3 278.3L811.8 274.9L811.8 284.0L812.3 283.6L812.3 273.6L812.8 273.2L812.8 281.6L813.4 279.6L813.4 273.2L813.7 279.6L814.0 -1500.0L814.3 279.1L813.9 273.7L813.9 277.8L814.4 276.5L814.4 273.8L814.8 274.1L814.8 275.3L815.3 274.7L815.3 273.9L815.7 275.0L816.0 210.9L816.3 274.5L815.8 273.7L815.8 274.4L816.3 274.7L816.3 273.5L816.7 273.4L816.7 274.3L817.0 274.6L817.3 246.8L817.6 274.1L817.3 274.0L817.3 273.2L817.9 273.0L817.9 273.7L818.4 273.9L818.4 272.9L818.9 272.9L818.9 273.7L819.5 275.6L819.8 261.3L820.1 275.1L819.4 274.5L819.4 273.0L820.0 272.7L820.0 275.1L820.5 275.6L820.5 273.3L820.9 273.1L820.9 275.2L821.3 275.5L821.3 273.8L821.8 273.4L821.8 275.9L822.4 276.4L822.4 274.5L822.9 274.8L822.9 276.7L823.3 277.1L823.3 274.9L823.8 274.3L823.8 278.2L824.3 278.6L824.3 273.6L824.8 273.6L824.8 278.9L825.2 280.0L825.2 273.9L825.8 273.3L825.8 280.6L826.3 281.2L826.3 271.9L826.8 272.0L826.8 281.7L827.2 282.0L827.2 272.8L827.6 272.4L827.6 282.7L828.0 283.0L828.0 273.2L828.6 272.6L828.6 283.8L829.1 283.4L829.1 273.4L829.6 274.6L829.6 283.8L830.2 283.8L830.2 275.6L830.7 278.0L830.7 284.3L831.3 284.3L831.3 279.3L831.7 279.5L831.7 284.5L832.3 283.8L832.3 280.9L832.8 282.0L832.8 284.3L833.4 285.8L833.4 281.9L833.8 283.5L833.8 285.9L834.4 285.5L834.4 284.5L835.0 284.9L835.0 285.9L835.4 284.6L836.0 286.0L836.5 268.4L837.1 251.5L837.6 225.4L837.9 226.2L838.2 224.9L837.5 237.5L838.1 230.9L838.6 244.7L839.1 258.6L839.5 272.5L840.1 289.3L840.6 290.2L840.6 287.5L841.1 288.5L841.1 290.8L841.7 293.0L841.7 290.9L842.3 292.2L842.3 293.9L842.7 294.9L842.7 292.9L843.0 296.7L843.3 281.3L843.6 296.2L843.2 293.8L843.2 295.9L843.8 296.6L843.8 294.7L844.2 295.5L844.2 296.6L844.7 297.2L844.7 296.3L845.2 297.0L845.2 297.9L845.8 298.6L845.8 297.8L846.3 298.2L846.3 299.2L846.7 299.8L846.7 298.4L847.3 299.3L847.3 300.4L847.8 301.0L847.8 300.4L848.2 300.9L848.2 301.5L848.7 302.0L848.7 301.5L849.3 302.9L849.8 302.3L850.3 304.0L850.8 302.4L851.4 303.5L852.1 302.3L852.4 288.6L852.7 301.8L852.0 301.7L852.4 302.5L853.0 300.6L853.4 300.9L853.9 299.4L854.4 299.9L854.9 297.4L855.5 297.2L856.0 294.4L856.5 294.6L857.1 292.2L857.6 292.2L858.1 290.1L858.7 291.3L859.2 290.4L859.7 291.6L860.1 290.1L860.5 290.6L860.9 289.7L861.2 276.3L861.5 289.2L861.0 288.9L861.5 289.5L862.0 287.9L862.6 288.6L863.2 287.2L863.6 287.7L864.2 286.1L864.6 287.0L865.2 285.3L865.6 285.9L866.2 284.3L866.8 284.4L866.8 284.9L867.2 285.2L867.2 283.7L867.7 283.8L867.7 284.9L868.3 285.2L868.3 284.4L868.8 284.4L868.8 285.2L869.2 285.2L869.2 284.2L869.6 284.4L869.6 285.5L870.1 285.6L870.1 282.9L870.6 281.5L870.6 285.8L871.0 284.9L871.0 281.0L871.5 281.5L871.5 285.0L871.9 285.1L871.9 281.5L872.4 278.5L872.4 279.1L872.9 272.9L873.5 267.4L874.0 260.4L874.4 257.9L874.8 253.8L875.2 252.5L875.6 250.3L876.2 253.6L876.7 255.7L877.1 262.9L877.6 267.3L878.0 274.4L878.6 279.4L879.1 285.6L879.5 286.9L879.9 289.1L880.4 289.3L880.9 291.5L881.3 290.7L881.7 292.0L882.1 291.4L882.5 292.9L883.1 290.2L883.6 290.0L884.2 287.0L884.6 286.6L885.2 285.6L885.8 288.5L886.2 288.2L886.8 290.0L887.3 288.7L887.7 290.1L888.2 288.8L888.7 290.1L889.0 215.0L889.3 289.6L888.8 290.4L889.3 289.2L889.9 290.5L890.3 290.1L890.7 292.2L891.2 291.6L891.7 293.9L892.2 293.9L892.7 295.9L893.2 295.7L893.7 297.7L894.3 296.8L894.8 297.9L895.1 297.7L895.5 287.8L895.8 297.2L895.2 296.9L895.6 297.7L895.9 286.8L896.2 297.2L895.8 298.1L896.3 296.8L896.8 298.0L897.3 296.7L897.9 297.8L898.4 297.2L898.8 298.6L899.4 298.2L899.9 299.6L900.3 298.8L900.8 300.5L901.4 299.9L901.9 301.4L902.4 300.9L903.0 302.7L903.6 301.9L904.0 303.5L904.5 302.1L905.0 303.2L905.5 301.7L905.7 302.6L906.0 167.1L906.3 302.1L905.9 302.8L906.3 301.7L906.9 302.6L907.5 300.3L908.1 300.6L908.5 298.6L909.0 298.6L909.4 296.7L909.9 296.8L910.3 294.7L910.8 295.4L911.2 293.5L911.7 293.7L912.3 291.5L912.9 291.6L913.4 290.8L913.4 282.2L914.0 281.9L914.0 290.6L914.4 291.6L914.4 282.3L914.9 281.2L914.9 291.8L915.3 292.8L915.3 281.3L915.9 281.1L915.9 293.7L916.5 293.5L916.5 280.8L917.0 282.1L917.0 294.5L917.5 294.8L917.5 283.3L918.1 285.6L918.1 295.4L918.6 295.6L918.6 285.9L919.1 286.0L919.1 296.3L919.6 296.6L919.6 287.6L920.0 287.8L920.0 298.0L920.6 298.8L920.6 283.3L921.1 279.6L921.1 299.2L921.5 300.4L921.5 279.5L922.1 279.9L922.1 301.2L922.6 300.4L922.6 283.6L923.0 284.8L923.0 301.1L923.5 301.7L923.5 284.8L924.0 288.6L924.0 302.8L924.4 302.8L924.4 292.5L924.8 298.1L924.8 303.5L925.3 303.0L925.3 300.5L925.8 300.8L925.8 303.8L926.3 303.2L926.3 300.9L926.8 300.2L926.8 303.9L927.2 305.4L927.5 291.6L927.8 304.9L927.3 304.2L927.3 298.6L927.7 295.8L927.7 304.3L928.3 304.7L928.3 294.4L928.7 294.4L928.7 304.3L929.1 304.1L929.1 291.3L929.6 288.7L929.6 304.3L930.0 304.4L930.0 286.4L930.6 286.9L930.6 303.9L931.1 304.1L931.1 286.2L931.5 284.2L931.5 303.6L932.0 304.5L932.0 284.0L932.4 285.7L932.4 305.0L932.7 306.5L933.0 267.6L933.3 306.0L932.9 305.3L932.9 285.5L933.4 286.2L933.4 306.3L933.9 306.4L933.9 287.4L934.3 300.0L934.3 306.8L934.7 306.8L934.7 300.7L935.3 298.5L935.3 304.8L935.8 303.6L935.8 296.3L936.2 291.2L936.2 303.0L936.7 304.0L936.7 280.1L937.3 275.4L937.3 303.5L937.7 303.1L937.7 273.2L938.2 268.0L938.2 302.4L938.6 302.1L938.6 262.2L939.2 262.7L939.2 301.8L939.8 299.4L939.8 264.6L939.9 299.8L940.2 245.7L940.5 299.3L940.2 265.7L940.2 299.7L940.7 299.1L940.7 266.7L941.1 266.5L941.1 300.3L941.5 301.8L941.5 266.5L942.1 266.4L942.1 303.6L942.5 305.4L942.5 266.5L943.0 266.7L943.0 305.1L943.5 304.1L943.5 276.3L944.1 277.9L944.1 302.1L944.6 301.4L944.6 278.5L945.1 280.5L945.1 300.7L945.6 296.6L945.6 280.1L946.1 280.4L946.1 295.5L946.6 295.5L946.6 280.3L947.0 278.2L947.0 295.0L947.4 295.8L947.4 278.4L948.0 277.1L948.0 295.8L948.4 296.2L948.4 272.8L949.0 269.6L949.0 295.7L949.5 294.6L949.5 268.5L950.0 268.4L950.0 294.6L950.5 294.2L950.5 267.4L951.0 265.1L951.0 293.7L951.5 292.5L951.5 263.2L952.0 262.8L952.0 292.6L952.5 291.3L952.5 262.2L953.0 259.1L953.0 291.5L953.6 289.8L953.6 255.9L954.2 241.2L954.2 288.7L954.7 288.9L954.7 237.6L955.3 237.6L955.3 288.8L955.8 295.1L955.8 239.2L956.2 248.3L956.2 295.5L956.7 295.6L956.7 262.7L957.2 264.5L957.2 296.5L957.6 297.8L957.6 265.2L958.1 266.6L958.1 298.6L958.5 299.8L958.5 275.1L959.0 275.3L959.0 300.3L959.5 300.9L959.5 276.8L960.1 279.0L960.1 301.2L960.6 302.2L960.6 282.4L961.0 282.4L961.0 302.9L961.6 303.1L961.6 293.8L962.0 300.5L962.0 303.4L962.5 304.1L962.5 300.9L963.0 301.0L963.0 304.4L963.6 305.2L963.6 302.6L964.0 304.6L964.0 306.3L964.6 306.2L964.6 305.4L965.2 305.8L965.2 306.3L965.8 306.7L966.0 148.6L966.4 306.2L965.6 306.3L965.6 305.8L966.1 306.7L966.5 305.8L967.0 306.8L967.5 305.4L967.9 305.5L967.9 306.0L968.5 305.6L968.5 304.5L969.1 304.4L969.1 305.3L969.6 304.9L969.6 304.2L970.1 303.6L970.1 304.8L970.6 304.2L970.6 302.4L971.1 302.6L971.1 304.4L971.5 304.6L971.5 302.8L971.9 303.4L971.9 305.5L972.4 305.4L972.4 303.4L973.0 303.3L973.0 305.6L973.4 304.7L973.4 303.0L974.0 295.7L974.0 304.0L974.5 304.3L974.5 297.3L975.0 296.9L975.0 304.8L975.6 304.5L975.6 293.7L976.2 291.3L976.2 305.9L976.8 307.0L977.0 169.1L977.4 306.5L976.6 306.5L976.6 292.0L977.1 292.7L977.1 306.2L977.5 304.6L977.5 294.6L977.9 294.1L977.9 304.4L978.5 303.9L978.5 294.2L979.0 292.9L979.0 303.6L979.6 306.7L979.9 285.8L980.2 306.2L979.5 304.3L979.5 293.1L980.1 287.9L980.1 305.0L980.5 306.1L980.5 291.7L981.0 292.2L981.0 306.8L981.4 307.0L981.4 292.4L981.9 290.3L981.9 307.9L982.5 308.0L982.8 283.1L983.1 307.5L982.5 307.7L982.5 289.8L983.0 308.1L983.3 283.1L983.6 307.6L983.0 283.3L983.0 308.0L983.6 308.0L983.6 290.2L984.1 292.8L984.1 307.8L984.6 307.8L984.6 292.9L985.1 294.4L985.1 306.7L985.6 306.1L985.6 296.0L985.8 308.1L986.1 243.7L986.4 307.6L986.0 297.0L986.0 306.6L986.6 307.2L986.6 299.3L987.0 300.6L987.0 307.1L987.4 307.5L987.4 300.6L987.9 299.4L987.9 307.4L988.2 308.0L988.5 295.8L988.8 307.5L988.4 307.1L988.4 297.7L988.8 300.9L988.8 307.5L989.2 306.7L989.2 301.8L989.7 301.8L989.7 306.0L990.2 306.6L990.2 302.2L990.8 300.0L990.8 307.0L991.3 307.0L991.3 298.3L991.8 299.1L991.8 306.6L992.2 306.2L992.2 300.6L992.8 307.2L993.1 175.0L993.4 306.7L992.7 302.6L992.7 306.1L993.2 305.6L993.2 303.6L993.7 307.0L994.0 236.4L994.3 306.5L993.7 304.5L993.7 307.0L994.1 306.5L994.1 305.2L994.6 305.3L994.6 306.8L995.1 306.3L995.1 305.5L995.6 305.5L995.6 306.3L996.2 306.0L996.2 303.7L996.6 306.8L996.9 289.5L997.2 306.3L996.7 290.4L996.7 306.3L997.1 306.7L997.4 289.5L997.7 306.2L997.2 306.5L997.2 290.9L997.7 291.2L997.7 305.9L998.1 306.3L998.1 291.9L998.5 293.8L998.5 306.3L998.8 306.9L999.1 220.4L999.4 306.4L999.1 306.7L999.1 295.5L999.5 298.0L999.5 305.0L1000.0 305.6L1000.0 299.6L1000.6 303.6L1000.6 306.5L1001.1 307.0L1001.1 304.8L1001.6 304.9L1001.6 307.7L1002.0 307.9L1002.0 305.7L1002.6 306.0L1002.6 307.9L1003.0 308.0L1003.0 306.2L1003.5 307.3L1003.5 308.2L1004.0 308.6L1004.0 308.0L1004.5 308.1L1004.5 308.9L1005.0 308.7L1005.6 309.9L1005.9 310.0L1006.2 230.8L1006.5 309.5L1006.2 309.0L1006.6 310.0L1007.2 308.2L1007.5 208.8L1007.8 307.7L1007.1 308.1L1007.5 309.1L1007.9 308.4L1008.2 140.4L1008.5 307.9L1008.0 307.7L1008.6 308.7L1008.9 -1500.0L1009.2 308.2L1008.5 309.0L1008.9 307.5L1009.4 308.8L1009.9 309.1L1009.9 308.0L1010.4 308.1L1010.4 308.7L1010.9 309.4L1010.9 308.4L1011.5 308.5L1011.5 309.8L1012.0 309.4L1012.0 308.6L1012.2 310.7L1012.5 217.7L1012.8 310.2L1012.4 308.6L1012.4 309.7L1012.9 309.4L1012.9 308.5L1013.3 308.1L1013.3 308.8L1013.9 308.4L1013.9 306.8L1014.3 306.3L1014.3 307.0L1014.8 305.6L1014.8 303.6L1015.3 299.2L1015.3 304.9L1015.7 303.5L1015.7 296.7L1016.3 296.5L1016.3 302.1L1016.7 301.4L1016.7 295.9L1017.2 292.5L1017.2 300.6L1017.7 300.5L1017.7 289.6L1018.3 293.6L1018.3 301.9L1018.8 305.4L1018.8 295.4L1019.3 305.8L1019.3 306.7L1019.9 307.0L1020.4 308.8L1020.8 307.9L1021.3 309.6L1021.9 308.9L1022.4 310.0L1022.9 308.5L1023.4 309.6L1024.0 307.9L1024.5 308.7L1025.1 307.5L1025.1 306.8L1025.5 298.8L1025.5 303.8L1026.1 297.1L1026.1 279.9L1026.5 291.2L1026.8 255.2L1027.1 290.7L1026.6 278.6L1026.6 291.4L1027.0 295.6L1027.0 267.4L1027.6 299.2L1027.6 306.4L1028.2 306.1L1028.2 302.4L1028.6 303.5L1028.6 305.7L1029.1 305.6L1029.1 303.8L1029.6 303.2L1029.6 305.8L1030.2 305.7L1030.2 303.7L1030.6 303.3L1030.6 306.0L1031.2 308.2L1031.2 300.0L1031.7 295.4L1031.7 309.0L1032.2 308.1L1032.2 294.7L1032.8 308.5L1033.0 201.8L1033.2 300.0L1033.4 285.7L1033.4 203.0L1033.7 202.1L1033.7 258.7L1034.0 258.8L1034.0 203.0L1034.3 -1500.0L1034.3 258.5L1034.6 258.5L1034.6 -1500.0L1034.9 -1500.0L1034.9 258.4L1035.2 258.6L1035.2 217.7L1035.5 217.3L1035.5 258.5L1035.8 287.9L1035.8 217.0L1036.1 217.1L1036.1 284.1L1036.4 284.2L1036.4 217.6L1036.7 217.6L1036.7 284.1L1037.0 284.8L1037.0 216.7L1037.3 216.6L1037.3 267.9L1037.6 268.1L1037.6 -1500.0L1037.9 -1500.0L1037.9 267.8L1038.2 268.0L1038.2 145.9L1038.5 146.0L1038.5 267.9L1038.8 267.8L1038.8 146.4L1039.1 146.8L1039.1 267.9L1039.4 267.3L1039.4 185.0L1039.5 183.8L1039.5 302.6L1039.7 294.9L1039.7 185.0L1040.0 185.0L1040.0 295.3L1040.3 295.0L1040.3 183.8L1040.6 184.8L1040.6 295.7L1040.9 296.1L1040.9 184.0L1041.2 184.2L1041.2 296.1L1041.5 295.8L1041.5 184.3L1041.8 185.0L1041.8 295.7L1042.1 289.3L1042.1 185.1L1042.4 185.0L1042.4 289.1L1042.7 289.0L1042.7 185.1L1043.0 158.1L1043.0 288.2L1043.3 288.3L1043.3 158.6L1043.6 158.5L1043.6 288.3L1043.9 288.2L1043.9 158.6L1044.2 -1500.0L1044.2 289.2L1044.5 289.2L1044.5 -1500.0L1044.5 -1500.0L1044.5 304.6L1044.8 301.3L1044.8 -1500.0L1045.1 252.5L1045.1 301.5L1045.4 301.3L1045.4 252.5L1045.7 253.1L1045.7 301.3L1046.0 301.6L1046.0 253.1L1046.3 252.6L1046.3 301.3L1046.6 300.6L1046.6 252.4L1046.9 253.2L1046.9 300.9L1047.2 294.7L1047.2 252.8L1047.5 251.8L1047.5 294.5L1047.8 294.5L1047.8 253.2L1048.1 253.3L1048.1 294.7L1048.4 287.4L1048.4 252.5L1048.7 251.9L1048.7 287.2L1049.0 287.2L1049.0 210.3L1049.3 210.3L1049.3 287.1L1049.6 287.2L1049.6 210.6L1049.9 210.1L1049.9 287.1L1050.2 287.7L1050.2 -1500.0L1050.5 -1500.0L1050.5 287.6L1050.8 298.7L1050.8 -1500.0L1051.1 -1500.0L1051.1 298.9L1051.4 298.3L1051.4 -1500.0L1051.7 -1500.0L1051.7 298.2L1052.0 298.3L1052.0 -1500.0L1052.3 -1500.0L1052.3 298.2L1052.6 297.8L1052.6 -1500.0L1052.9 -1500.0L1052.9 297.8L1053.2 298.0L1053.2 -1500.0L1053.5 -1500.0L1053.5 304.4L1053.8 305.3L1053.8 -1500.0L1054.1 -1500.0L1054.1 305.3L1054.4 305.2L1054.4 272.9L1054.7 274.1L1054.7 305.2L1055.0 305.3L1055.0 273.3L1055.3 273.1L1055.3 316.1L1055.6 315.7L1055.6 273.7L1055.9 274.0L1055.9 315.8L1056.2 315.2L1056.2 273.7L1056.5 -1500.0L1056.5 315.2L1056.8 315.2L1056.8 -1500.0L1057.1 251.8L1057.1 315.2L1057.4 316.1L1057.4 251.5L1057.7 251.0L1057.7 316.1L1057.8 328.8L1057.8 250.8L1058.0 250.9L1058.0 319.6L1058.3 319.3L1058.3 252.2L1058.6 252.0L1058.6 319.0L1058.9 318.8L1058.9 251.6L1059.2 251.3L1059.2 319.1L1059.5 319.0L1059.5 251.3L1059.8 252.2L1059.8 319.2L1060.0 319.7L1060.0 170.0L1060.1 269.7L1060.1 319.5L1060.4 319.5L1060.4 269.0L1060.7 269.7L1060.7 319.1L1061.0 330.6L1061.0 268.8L1061.3 291.2L1061.3 330.6L1061.6 330.3L1061.6 291.8L1061.9 290.9L1061.9 316.2L1062.2 317.2L1062.2 290.6L1062.5 290.3L1062.5 317.4L1062.8 317.5L1062.8 291.3L1063.2 317.2L1063.4 285.0L1063.7 -1500.0L1064.3 202.5L1064.7 -1500.0" fill="none" stroke="#1f77b4" stroke-width="1.8" stroke-linejoin="round" stroke-linecap="butt"/>
<line x1="799.97" y1="332.89" x2="799.97" y2="342.79" stroke="#000" stroke-width="2.2"/>
<text x="799.97" y="364.19" font-family="'Liberation Serif', serif" font-size="16.2" text-anchor="middle" fill="#000">0</text>
<line x1="866.97" y1="332.89" x2="866.97" y2="342.79" stroke="#000" stroke-width="2.2"/>
<text x="866.67" y="364.19" font-family="'Liberation Serif', serif" font-size="16.2" text-anchor="middle" fill="#000">25</text>
<line x1="932.97" y1="332.89" x2="932.97" y2="342.79" stroke="#000" stroke-width="2.2"/>
<text x="932.97" y="364.19" font-family="'Liberation Serif', serif" font-size="16.2" text-anchor="middle" fill="#000">50</text>
<line x1="998.97" y1="332.89" x2="998.97" y2="342.79" stroke="#000" stroke-width="2.2"/>
<text x="998.97" y="364.19" font-family="'Liberation Serif', serif" font-size="16.2" text-anchor="middle" fill="#000">75</text>
<line x1="1065.97" y1="332.89" x2="1065.97" y2="342.79" stroke="#000" stroke-width="2.2"/>
<text x="1064.67" y="364.19" font-family="'Liberation Serif', serif" font-size="16.2" text-anchor="middle" fill="#000">100</text>
<line x1="777.07" y1="297.03" x2="786.97" y2="297.03" stroke="#000" stroke-width="2.2"/>
<text x="767.17" y="302.93" font-family="'Liberation Serif', serif" font-size="16.2" text-anchor="end" fill="#000">64</text>
<line x1="777.07" y1="253.03" x2="786.97" y2="253.03" stroke="#000" stroke-width="2.2"/>
<text x="767.17" y="258.93" font-family="'Liberation Serif', serif" font-size="16.2" text-anchor="end" fill="#000">66</text>
<line x1="777.07" y1="210.03" x2="786.97" y2="210.03" stroke="#000" stroke-width="2.2"/>
<text x="767.17" y="215.93" font-family="'Liberation Serif', serif" font-size="16.2" text-anchor="end" fill="#000">68</text>
<line x1="777.07" y1="166.03" x2="786.97" y2="166.03" stroke="#000" stroke-width="2.2"/>
<text x="767.17" y="171.93" font-family="'Liberation Serif', serif" font-size="16.2" text-anchor="end" fill="#000">70</text>
<line x1="777.07" y1="123.03" x2="786.97" y2="123.03" stroke="#000" stroke-width="2.2"/>
<text x="767.17" y="128.93" font-family="'Liberation Serif', serif" font-size="16.2" text-anchor="end" fill="#000">72</text>
<rect x="786.97" y="115.87" width="292.03" height="217.02" fill="none" stroke="#000" stroke-width="2.2" stroke-linejoin="miter"/>
<clipPath id="c10"><rect x="86.97" y="375.87" width="292.03" height="218.02"/></clipPath>
<path clip-path="url(#c10)" d="M100.9 423.3L101.0 -1239.0L101.9 -1239.0L102.1 431.0L102.5 497.0L102.8 559.0L103.1 557.0L103.4 565.5L103.8 560.5L104.3 569.9L104.8 563.5L105.3 567.5L106.0 553.2L106.4 566.5L106.9 561.0L107.3 565.6L107.9 563.2L108.6 562.0L109.0 -1239.0L109.2 560.5L109.5 554.2L109.5 545.8L110.0 545.8L110.0 553.4L110.4 551.4L110.4 544.0L110.8 541.4L110.8 548.8L111.3 546.4L111.3 539.2L111.8 535.9L111.8 545.0L112.3 544.5L112.3 534.6L112.8 534.1L112.8 542.6L113.4 540.6L113.4 534.1L113.7 540.6L114.0 -1239.0L114.3 540.1L113.9 534.7L113.9 538.7L114.4 537.5L114.4 534.8L114.8 535.1L114.8 536.3L115.3 535.7L115.3 534.8L115.7 535.9L116.0 471.9L116.3 535.4L115.8 534.7L115.8 535.3L116.3 535.7L116.3 534.5L116.7 534.4L116.7 535.3L117.0 535.5L117.3 507.8L117.6 535.0L117.3 535.0L117.3 534.2L117.9 534.0L117.9 534.7L118.4 534.8L118.4 533.9L118.9 533.9L118.9 534.6L119.5 536.6L119.8 522.3L120.1 536.1L119.4 535.5L119.4 534.0L120.0 533.7L120.0 536.0L120.5 536.5L120.5 534.2L120.9 534.0L120.9 536.1L121.3 536.5L121.3 534.8L121.8 534.4L121.8 536.9L122.4 537.3L122.4 535.5L122.9 535.7L122.9 537.7L123.3 538.1L123.3 535.8L123.8 535.3L123.8 539.1L124.3 539.5L124.3 534.5L124.8 534.5L124.8 539.8L125.2 540.9L125.2 534.8L125.8 534.3L125.8 541.5L126.3 542.2L126.3 532.9L126.8 533.0L126.8 542.6L127.2 542.9L127.2 533.7L127.6 533.4L127.6 543.7L128.0 544.0L128.0 534.2L128.6 533.6L128.6 544.7L129.1 544.3L129.1 534.4L129.6 535.6L129.6 544.8L130.2 544.7L130.2 536.6L130.7 539.0L130.7 545.3L131.3 545.2L131.3 540.2L131.7 540.5L131.7 545.5L132.3 544.7L132.3 541.8L132.8 543.0L132.8 545.3L133.4 546.8L133.4 542.9L133.8 544.5L133.8 546.8L134.4 546.5L134.4 545.5L135.0 545.9L135.0 546.9L135.4 545.6L136.0 547.0L136.5 529.4L137.1 512.5L137.6 486.4L137.9 487.2L138.2 485.9L137.5 498.5L138.1 491.9L138.6 505.7L139.1 519.6L139.5 533.5L140.1 550.2L140.6 551.2L140.6 548.5L141.1 549.4L141.1 551.7L141.7 554.0L141.7 551.8L142.3 553.2L142.3 554.8L142.7 555.8L142.7 553.9L143.0 557.7L143.3 542.3L143.6 557.2L143.2 554.8L143.2 556.8L143.8 557.6L143.8 555.7L144.2 556.4L144.2 557.5L144.7 558.2L144.7 557.2L145.2 558.0L145.2 558.8L145.8 559.6L145.8 558.8L146.3 559.2L146.3 560.2L146.7 560.8L146.7 559.4L147.3 560.3L147.3 561.4L147.8 562.0L147.8 561.3L148.2 561.9L148.2 562.4L148.7 562.9L148.7 562.4L149.3 563.9L149.8 563.2L150.3 565.0L150.8 563.4L151.4 564.5L152.1 563.3L152.4 549.6L152.7 562.8L152.0 562.7L152.4 563.5L153.0 561.5L153.4 561.8L153.9 560.3L154.4 560.9L154.9 558.4L155.5 558.1L156.0 555.4L156.5 555.6L157.1 553.2L157.6 553.1L158.1 551.1L158.7 552.3L159.2 551.3L159.7 552.6L160.1 551.1L160.5 551.6L160.9 550.7L161.2 537.3L161.5 550.2L161.0 549.9L161.5 550.5L162.0 548.9L162.6 549.5L163.2 548.2L163.6 548.7L164.2 547.1L164.6 548.0L165.2 546.3L165.6 546.9L166.2 545.3L166.8 545.4L166.8 545.9L167.2 546.2L167.2 544.6L167.7 544.8L167.7 545.9L168.3 546.1L168.3 545.4L168.8 545.4L168.8 546.1L169.2 546.2L169.2 545.2L169.6 545.4L169.6 546.5L170.1 546.6L170.1 543.8L170.6 542.5L170.6 546.8L171.0 545.9L171.0 542.0L171.5 542.4L171.5 546.0L171.9 546.0L171.9 542.4L172.4 539.5L172.4 540.1L172.9 533.8L173.5 528.4L174.0 521.4L174.4 518.9L174.8 514.8L175.2 513.5L175.6 511.3L176.2 514.5L176.7 516.6L177.1 523.9L177.6 528.3L178.0 535.4L178.6 540.4L179.1 546.6L179.5 547.8L179.9 550.1L180.4 550.3L180.9 552.5L181.3 551.7L181.7 553.0L182.1 552.4L182.5 553.8L183.1 551.2L183.6 550.9L184.2 548.0L184.6 547.5L185.2 546.5L185.8 549.5L186.2 549.2L186.8 550.9L187.3 549.7L187.7 551.1L188.2 549.7L188.7 551.0L189.0 476.0L189.3 550.5L188.8 551.4L189.3 550.2L189.9 551.4L190.3 551.1L190.7 553.2L191.2 552.6L191.7 554.9L192.2 554.8L192.7 556.9L193.2 556.6L193.7 558.6L194.3 557.8L194.8 558.8L195.1 558.7L195.4 548.8L195.8 558.2L195.2 557.8L195.6 558.7L195.9 547.8L196.2 558.2L195.8 559.1L196.3 557.8L196.8 559.0L197.3 557.7L197.9 558.8L198.4 558.2L198.8 559.6L199.4 559.2L199.9 560.6L200.3 559.8L200.8 561.5L201.4 560.9L201.9 562.4L202.4 561.9L203.0 563.7L203.6 562.9L204.0 564.5L204.5 563.0L205.0 564.2L205.5 562.7L205.7 563.5L206.0 428.1L206.3 563.0L205.9 563.8L206.3 562.6L206.9 563.5L207.5 561.3L208.1 561.6L208.5 559.5L209.0 559.6L209.4 557.6L209.9 557.7L210.3 555.7L210.8 556.3L211.2 554.5L211.7 554.7L212.3 552.4L212.9 552.5L213.4 551.8L213.4 543.1L214.0 542.9L214.0 551.5L214.4 552.6L214.4 543.3L214.9 542.2L214.9 552.7L215.3 553.8L215.3 542.3L215.9 542.1L215.9 554.7L216.5 554.5L216.5 541.7L217.0 543.0L217.0 555.4L217.5 555.7L217.5 544.3L218.1 546.6L218.1 556.4L218.6 556.6L218.6 546.9L219.1 547.0L219.1 557.3L219.6 557.6L219.6 548.6L220.0 548.7L220.0 558.9L220.6 559.8L220.6 544.3L221.1 540.6L221.1 560.2L221.5 561.4L221.5 540.4L222.1 540.9L222.1 562.2L222.6 561.4L222.6 544.5L223.0 545.8L223.0 562.1L223.5 562.7L223.5 545.8L224.0 549.6L224.0 563.8L224.4 563.8L224.4 553.5L224.8 559.1L224.8 564.5L225.3 563.9L225.3 561.4L225.8 561.8L225.8 564.8L226.3 564.2L226.3 561.9L226.8 561.2L226.8 564.9L227.2 566.3L227.5 552.6L227.8 565.8L227.3 565.2L227.3 559.5L227.7 556.7L227.7 565.3L228.3 565.6L228.3 555.3L228.7 555.3L228.7 565.3L229.1 565.1L229.1 552.3L229.6 549.7L229.6 565.2L230.0 565.4L230.0 547.4L230.6 547.8L230.6 564.9L231.1 565.1L231.1 547.1L231.5 545.2L231.5 564.5L232.0 565.4L232.0 545.0L232.4 546.7L232.4 566.0L232.7 567.5L233.0 528.6L233.3 567.0L232.9 566.3L232.9 546.4L233.4 547.1L233.4 567.3L233.9 567.4L233.9 548.3L234.3 561.0L234.3 567.8L234.7 567.7L234.7 561.7L235.3 559.4L235.3 565.8L235.8 564.6L235.8 557.3L236.2 552.2L236.2 564.0L236.7 565.0L236.7 541.0L237.3 536.3L237.3 564.5L237.7 564.1L237.7 534.2L238.2 529.0L238.2 563.4L238.6 563.1L238.6 523.2L239.2 523.7L239.2 562.8L239.8 560.4L239.8 525.6L239.9 560.8L240.2 506.7L240.5 560.3L240.2 526.6L240.2 560.6L240.7 560.1L240.7 527.7L241.1 527.5L241.1 561.3L241.5 562.7L241.5 527.4L242.1 527.4L242.1 564.5L242.5 566.4L242.5 527.4L243.0 527.7L243.0 566.1L243.5 565.1L243.5 537.3L244.1 538.9L244.1 563.1L244.6 562.3L244.6 539.5L245.1 541.5L245.1 561.6L245.6 557.6L245.6 541.1L246.1 541.3L246.1 556.5L246.6 556.4L246.6 541.3L247.0 539.1L247.0 555.9L247.4 556.8L247.4 539.4L248.0 538.0L248.0 556.8L248.4 557.2L248.4 533.8L249.0 530.6L249.0 556.6L249.5 555.6L249.5 529.4L250.0 529.4L250.0 555.5L250.5 555.1L250.5 528.4L251.0 526.1L251.0 554.6L251.5 553.5L251.5 524.2L252.0 523.7L252.0 553.6L252.5 552.3L252.5 523.1L253.0 520.1L253.0 552.4L253.6 550.7L253.6 516.9L254.2 502.1L254.2 549.7L254.7 549.8L254.7 498.5L255.3 498.6L255.3 549.8L255.8 556.1L255.8 500.1L256.2 509.3L256.2 556.4L256.7 556.5L256.7 523.7L257.2 525.5L257.2 557.5L257.6 558.8L257.6 526.2L258.1 527.6L258.1 559.6L258.5 560.7L258.5 536.1L259.0 536.2L259.0 561.3L259.5 561.9L259.5 537.8L260.1 540.0L260.1 562.1L260.6 563.2L260.6 543.4L261.0 543.3L261.0 563.9L261.6 564.1L261.6 554.8L262.0 561.5L262.0 564.4L262.5 565.1L262.5 561.8L263.0 562.0L263.0 565.4L263.6 566.2L263.6 563.5L264.0 565.6L264.0 567.3L264.6 567.1L264.6 566.4L265.2 566.7L265.2 567.3L265.8 567.7L266.1 409.6L266.4 567.2L265.6 567.3L265.6 566.7L266.1 567.7L266.5 566.8L267.0 567.8L267.5 566.4L267.9 566.5L267.9 567.0L268.5 566.5L268.5 565.5L269.1 565.4L269.1 566.2L269.6 565.9L269.6 565.2L270.1 564.5L270.1 565.8L270.6 565.2L270.6 563.4L271.1 563.6L271.1 565.4L271.5 565.5L271.5 563.7L271.9 564.4L271.9 566.5L272.4 566.4L272.4 564.4L273.0 564.2L273.0 566.6L273.4 565.7L273.4 563.9L274.0 556.6L274.0 565.0L274.5 565.3L274.5 558.2L275.0 557.9L275.0 565.8L275.6 565.4L275.6 554.7L276.2 552.3L276.2 566.9L276.8 568.0L277.1 430.1L277.4 567.5L276.6 567.5L276.6 552.9L277.1 553.7L277.1 567.1L277.5 565.6L277.5 555.6L277.9 555.1L277.9 565.4L278.5 564.8L278.5 555.2L279.0 553.9L279.0 564.6L279.6 567.7L279.9 546.8L280.2 567.2L279.5 565.3L279.5 554.0L280.1 548.8L280.1 565.9L280.5 567.0L280.5 552.6L281.0 553.1L281.0 567.8L281.4 567.9L281.4 553.4L281.9 551.3L281.9 568.9L282.5 569.0L282.8 544.1L283.1 568.5L282.5 568.7L282.5 550.8L283.0 569.0L283.3 544.1L283.6 568.5L283.0 544.3L283.0 568.9L283.6 569.0L283.6 551.2L284.1 553.8L284.1 568.8L284.6 568.8L284.6 553.9L285.1 555.3L285.1 567.7L285.6 567.1L285.6 557.0L285.8 569.1L286.1 504.7L286.4 568.6L286.0 557.9L286.0 567.6L286.6 568.2L286.6 560.3L287.0 561.5L287.0 568.1L287.4 568.5L287.4 561.6L287.9 560.4L287.9 568.4L288.2 568.9L288.5 556.8L288.8 568.4L288.4 568.1L288.4 558.6L288.8 561.9L288.8 568.5L289.2 567.7L289.2 562.7L289.7 562.7L289.7 567.0L290.2 567.6L290.2 563.1L290.8 561.0L290.8 568.0L291.3 568.0L291.3 559.3L291.8 560.0L291.8 567.5L292.2 567.2L292.2 561.6L292.8 568.2L293.1 436.0L293.4 567.7L292.7 563.5L292.7 567.1L293.2 566.5L293.2 564.5L293.7 568.0L294.0 497.4L294.3 567.5L293.7 565.5L293.7 567.9L294.1 567.5L294.1 566.1L294.6 566.3L294.6 567.8L295.1 567.3L295.1 566.5L295.6 566.4L295.6 567.2L296.2 567.0L296.2 564.7L296.6 567.7L296.9 550.5L297.2 567.2L296.7 551.3L296.7 567.3L297.1 567.7L297.4 550.5L297.7 567.2L297.2 567.5L297.2 551.8L297.7 552.2L297.7 566.8L298.1 567.3L298.1 552.9L298.5 554.8L298.5 567.3L298.8 567.8L299.1 481.4L299.4 567.3L299.1 567.7L299.1 556.4L299.5 559.0L299.5 565.9L300.0 566.6L300.0 560.6L300.6 564.6L300.6 567.4L301.1 568.0L301.1 565.8L301.6 565.9L301.6 568.7L302.0 568.9L302.0 566.7L302.6 566.9L302.6 568.9L303.0 568.9L303.0 567.2L303.5 568.2L303.5 569.2L304.0 569.6L304.0 568.9L304.5 569.1L304.5 569.8L305.0 569.6L305.6 570.9L305.9 570.9L306.2 491.8L306.5 570.4L306.2 570.0L306.6 571.0L307.2 569.2L307.5 469.8L307.8 568.7L307.1 569.1L307.5 570.0L307.9 569.4L308.2 401.4L308.5 568.9L308.0 568.7L308.6 569.6L308.9 -1239.0L309.2 569.1L308.5 570.0L308.9 568.5L309.4 569.7L309.9 570.1L309.9 569.0L310.4 569.1L310.4 569.7L310.9 570.3L310.9 569.3L311.5 569.5L311.5 570.8L312.0 570.4L312.0 569.5L312.2 571.6L312.5 478.7L312.8 571.1L312.4 569.6L312.4 570.7L312.9 570.4L312.9 569.4L313.3 569.1L313.3 569.8L313.9 569.3L313.9 567.7L314.3 567.3L314.3 568.0L314.8 566.6L314.8 564.5L315.3 560.2L315.3 565.8L315.7 564.5L315.7 557.7L316.3 557.4L316.3 563.1L316.7 562.3L316.7 556.8L317.2 553.5L317.2 561.5L317.7 561.4L317.7 550.6L318.3 554.5L318.3 562.9L318.8 566.3L318.8 556.4L319.3 566.8L319.3 567.7L319.9 568.0L320.4 569.8L320.8 568.9L321.3 570.6L321.9 569.9L322.4 571.0L322.9 569.5L323.4 570.6L324.0 568.9L324.5 569.6L325.1 568.4L325.1 567.8L325.5 559.8L325.5 564.8L326.1 558.1L326.1 540.8L326.5 552.2L326.8 516.2L327.1 551.7L326.6 539.6L326.6 552.3L327.0 556.5L327.0 528.3L327.6 560.2L327.6 567.4L328.2 567.1L328.2 563.4L328.6 564.5L328.6 566.7L329.1 566.6L329.1 564.7L329.6 564.2L329.6 566.7L330.2 566.7L330.2 564.6L330.6 564.3L330.6 567.0L331.2 569.2L331.2 560.9L331.7 556.4L331.7 569.9L332.2 569.1L332.2 555.6L332.8 569.5L333.0 462.8L333.2 561.0L333.4 546.6L333.4 464.0L333.7 463.1L333.7 519.6L334.0 519.8L334.0 463.9L334.3 -1239.0L334.3 519.4L334.6 519.5L334.6 -1239.0L334.9 -1239.0L334.9 519.4L335.2 519.6L335.2 478.7L335.5 478.2L335.5 519.5L335.8 548.9L335.8 478.0L336.1 478.1L336.1 545.1L336.4 545.2L336.4 478.5L336.7 478.5L336.7 545.1L337.0 545.8L337.0 477.7L337.3 477.5L337.3 528.9L337.6 529.1L337.6 -1239.0L337.9 -1239.0L337.9 528.7L338.2 529.0L338.2 406.8L338.5 407.0L338.5 528.8L338.8 528.8L338.8 407.4L339.1 407.8L339.1 528.9L339.4 528.3L339.4 446.0L339.6 444.8L339.6 563.6L339.7 555.8L339.7 445.9L340.0 446.0L340.0 556.2L340.3 556.0L340.3 444.8L340.6 445.8L340.6 556.7L340.9 557.0L340.9 444.9L341.2 445.1L341.2 557.1L341.5 556.8L341.5 445.3L341.8 446.0L341.8 556.7L342.1 550.3L342.1 446.1L342.4 445.9L342.4 550.0L342.7 550.0L342.7 446.1L343.0 419.1L343.0 549.2L343.3 549.3L343.3 419.6L343.6 419.4L343.6 549.3L343.9 549.2L343.9 419.6L344.2 -1239.0L344.2 550.2L344.5 550.2L344.5 -1239.0L344.6 -1239.0L344.6 565.6L344.8 562.2L344.8 -1239.0L345.1 513.5L345.1 562.5L345.4 562.3L345.4 513.5L345.7 514.1L345.7 562.3L346.0 562.5L346.0 514.0L346.3 513.6L346.3 562.3L346.6 561.6L346.6 513.3L346.9 514.2L346.9 561.8L347.2 555.7L347.2 513.7L347.5 512.8L347.5 555.4L347.8 555.5L347.8 514.2L348.1 514.2L348.1 555.7L348.4 548.4L348.4 513.5L348.7 512.8L348.7 548.2L349.0 548.1L349.0 471.3L349.3 471.3L349.3 548.0L349.6 548.2L349.6 471.6L349.9 471.1L349.9 548.1L350.2 548.6L350.2 -1239.0L350.5 -1239.0L350.5 548.6L350.8 559.6L350.8 -1239.0L351.1 -1239.0L351.1 559.9L351.4 559.2L351.4 -1239.0L351.7 -1239.0L351.7 559.2L352.0 559.3L352.0 -1239.0L352.3 -1239.0L352.3 559.2L352.6 558.8L352.6 -1239.0L352.9 -1239.0L352.9 558.7L353.2 559.0L353.2 -1239.0L353.5 -1239.0L353.5 565.4L353.8 566.3L353.8 -1239.0L354.1 -1239.0L354.1 566.2L354.4 566.2L354.4 533.8L354.7 535.1L354.7 566.2L355.0 566.3L355.0 534.2L355.3 534.1L355.3 577.1L355.6 576.7L355.6 534.7L355.9 535.0L355.9 576.8L356.2 576.2L356.2 534.7L356.5 -1239.0L356.5 576.2L356.8 576.1L356.8 -1239.0L357.1 512.8L357.1 576.2L357.4 577.1L357.4 512.5L357.7 511.9L357.7 577.0L357.8 589.8L357.8 511.8L358.0 511.8L358.0 580.5L358.3 580.2L358.3 513.1L358.6 513.0L358.6 580.0L358.9 579.8L358.9 512.6L359.2 512.2L359.2 580.0L359.5 579.9L359.5 512.2L359.8 513.2L359.8 580.1L360.0 580.7L360.0 431.0L360.1 530.6L360.1 580.4L360.4 580.4L360.4 529.9L360.7 530.6L360.7 580.0L361.0 591.5L361.0 529.8L361.3 552.2L361.3 591.6L361.6 591.3L361.6 552.7L361.9 551.9L361.9 577.2L362.2 578.1L362.2 551.6L362.5 551.3L362.5 578.4L362.8 578.5L362.8 552.3L363.2 578.2L363.4 546.0L363.6 -1239.0L364.3 463.5L364.7 -1239.0" fill="none" stroke="#1f77b4" stroke-width="1.8" stroke-linejoin="round" stroke-linecap="butt"/>
<line x1="99.97" y1="593.89" x2="99.97" y2="603.79" stroke="#000" stroke-width="2.2"/>
<text x="99.97" y="625.19" font-family="'Liberation Serif', serif" font-size="16.2" text-anchor="middle" fill="#000">0</text>
<line x1="166.97" y1="593.89" x2="166.97" y2="603.79" stroke="#000" stroke-width="2.2"/>
<text x="166.67" y="625.19" font-family="'Liberation Serif', serif" font-size="16.2" text-anchor="middle" fill="#000">25</text>
<line x1="232.97" y1="593.89" x2="232.97" y2="603.79" stroke="#000" stroke-width="2.2"/>
<text x="232.97" y="625.19" font-family="'Liberation Serif', serif" font-size="16.2" text-anchor="middle" fill="#000">50</text>
<line x1="298.97" y1="593.89" x2="298.97" y2="603.79" stroke="#000" stroke-width="2.2"/>
<text x="298.97" y="625.19" font-family="'Liberation Serif', serif" font-size="16.2" text-anchor="middle" fill="#000">75</text>
<line x1="365.97" y1="593.89" x2="365.97" y2="603.79" stroke="#000" stroke-width="2.2"/>
<text x="364.67" y="625.19" font-family="'Liberation Serif', serif" font-size="16.2" text-anchor="middle" fill="#000">100</text>
<line x1="77.07" y1="557.90" x2="86.97" y2="557.90" stroke="#000" stroke-width="2.2"/>
<text x="67.17" y="563.80" font-family="'Liberation Serif', serif" font-size="16.2" text-anchor="end" fill="#000">64</text>
<line x1="77.07" y1="513.90" x2="86.97" y2="513.90" stroke="#000" stroke-width="2.2"/>
<text x="67.17" y="519.80" font-family="'Liberation Serif', serif" font-size="16.2" text-anchor="end" fill="#000">66</text>
<line x1="77.07" y1="470.90" x2="86.97" y2="470.90" stroke="#000" stroke-width="2.2"/>
<text x="67.17" y="476.80" font-family="'Liberation Serif', serif" font-size="16.2" text-anchor="end" fill="#000">68</text>
<line x1="77.07" y1="426.90" x2="86.97" y2="426.90" stroke="#000" stroke-width="2.2"/>
<text x="67.17" y="432.80" font-family="'Liberation Serif', serif" font-size="16.2" text-anchor="end" fill="#000">70</text>
<line x1="77.07" y1="383.90" x2="86.97" y2="383.90" stroke="#000" stroke-width="2.2"/>
<text x="67.17" y="389.80" font-family="'Liberation Serif', serif" font-size="16.2" text-anchor="end" fill="#000">72</text>
<rect x="86.97" y="375.87" width="292.03" height="218.02" fill="none" stroke="#000" stroke-width="2.2" stroke-linejoin="miter"/>
<text transform="translate(35.4 486.00) rotate(-90)" font-family="'Liberation Serif', serif" font-size="22.0" text-anchor="middle" fill="#000">Power (dBau)</text>
<clipPath id="c11"><rect x="436.97" y="375.87" width="292.03" height="218.02"/></clipPath>
<path clip-path="url(#c11)" d="M450.9 423.3L450.9 -1239.0L451.9 -1239.0L452.1 431.0L452.5 497.0L452.8 559.0L453.1 557.0L453.4 565.5L453.8 560.5L454.3 569.9L454.8 563.5L455.3 567.5L455.9 553.2L456.4 566.5L456.9 561.0L457.3 565.6L457.9 563.2L458.6 562.0L458.9 -1239.0L459.2 560.5L459.5 554.2L459.5 545.8L460.0 545.8L460.0 553.4L460.4 551.4L460.4 544.0L460.8 541.4L460.8 548.8L461.3 546.4L461.3 539.2L461.8 535.9L461.8 545.0L462.3 544.5L462.3 534.6L462.8 534.1L462.8 542.6L463.4 540.6L463.4 534.1L463.7 540.6L464.0 -1239.0L464.3 540.1L463.9 534.7L463.9 538.7L464.4 537.5L464.4 534.8L464.8 535.1L464.8 536.3L465.3 535.7L465.3 534.8L465.7 535.9L466.0 471.9L466.3 535.4L465.8 534.7L465.8 535.3L466.3 535.7L466.3 534.5L466.7 534.4L466.7 535.3L467.0 535.5L467.3 507.8L467.6 535.0L467.3 535.0L467.3 534.2L467.9 534.0L467.9 534.7L468.4 534.8L468.4 533.9L468.9 533.9L468.9 534.6L469.5 536.6L469.8 522.3L470.1 536.1L469.4 535.5L469.4 534.0L470.0 533.7L470.0 536.0L470.5 536.5L470.5 534.2L470.9 534.0L470.9 536.1L471.3 536.5L471.3 534.8L471.8 534.4L471.8 536.9L472.4 537.3L472.4 535.5L472.9 535.7L472.9 537.7L473.3 538.1L473.3 535.8L473.8 535.3L473.8 539.1L474.3 539.5L474.3 534.5L474.8 534.5L474.8 539.8L475.2 540.9L475.2 534.8L475.8 534.3L475.8 541.5L476.3 542.2L476.3 532.9L476.8 533.0L476.8 542.6L477.2 542.9L477.2 533.7L477.6 533.4L477.6 543.7L478.0 544.0L478.0 534.2L478.6 533.6L478.6 544.7L479.1 544.3L479.1 534.4L479.6 535.6L479.6 544.8L480.2 544.7L480.2 536.6L480.7 539.0L480.7 545.3L481.3 545.2L481.3 540.2L481.7 540.5L481.7 545.5L482.3 544.7L482.3 541.8L482.8 543.0L482.8 545.3L483.4 546.8L483.4 542.9L483.8 544.5L483.8 546.8L484.4 546.5L484.4 545.5L485.0 545.9L485.0 546.9L485.4 545.6L486.0 547.0L486.5 529.4L487.1 512.5L487.6 486.4L487.9 487.2L488.2 485.9L487.5 498.5L488.1 491.9L488.6 505.7L489.1 519.6L489.5 533.5L490.1 550.2L490.6 551.2L490.6 548.5L491.1 549.4L491.1 551.7L491.7 554.0L491.7 551.8L492.3 553.2L492.3 554.8L492.7 555.8L492.7 553.9L493.0 557.7L493.3 542.3L493.6 557.2L493.2 554.8L493.2 556.8L493.8 557.6L493.8 555.7L494.2 556.4L494.2 557.5L494.7 558.2L494.7 557.2L495.2 558.0L495.2 558.8L495.8 559.6L495.8 558.8L496.3 559.2L496.3 560.2L496.7 560.8L496.7 559.4L497.3 560.3L497.3 561.4L497.8 562.0L497.8 561.3L498.2 561.9L498.2 562.4L498.7 562.9L498.7 562.4L499.3 563.9L499.8 563.2L500.3 565.0L500.8 563.4L501.4 564.5L502.1 563.3L502.4 549.6L502.7 562.8L502.0 562.7L502.4 563.5L503.0 561.5L503.4 561.8L503.9 560.3L504.4 560.9L504.9 558.4L505.5 558.1L506.0 555.4L506.5 555.6L507.1 553.2L507.6 553.1L508.1 551.1L508.7 552.3L509.2 551.3L509.7 552.6L510.1 551.1L510.5 551.6L510.9 550.7L511.2 537.3L511.5 550.2L511.0 549.9L511.5 550.5L512.0 548.9L512.6 549.5L513.2 548.2L513.6 548.7L514.2 547.1L514.6 548.0L515.2 546.3L515.6 546.9L516.2 545.3L516.8 545.4L516.8 545.9L517.2 546.2L517.2 544.6L517.7 544.8L517.7 545.9L518.3 546.1L518.3 545.4L518.8 545.4L518.8 546.1L519.2 546.2L519.2 545.2L519.6 545.4L519.6 546.5L520.1 546.6L520.1 543.8L520.6 542.5L520.6 546.8L521.0 545.9L521.0 542.0L521.5 542.4L521.5 546.0L521.9 546.0L521.9 542.4L522.4 539.5L522.4 540.1L522.9 533.8L523.5 528.4L524.0 521.4L524.4 518.9L524.8 514.8L525.2 513.5L525.6 511.3L526.2 514.5L526.7 516.6L527.1 523.9L527.6 528.3L528.0 535.4L528.6 540.4L529.1 546.6L529.5 547.8L529.9 550.1L530.4 550.3L530.9 552.5L531.3 551.7L531.7 553.0L532.1 552.4L532.5 553.8L533.1 551.2L533.6 550.9L534.2 548.0L534.6 547.5L535.2 546.5L535.8 549.5L536.2 549.2L536.8 550.9L537.3 549.7L537.7 551.1L538.2 549.7L538.7 551.0L539.0 476.0L539.3 550.5L538.8 551.4L539.3 550.2L539.9 551.4L540.3 551.1L540.7 553.2L541.2 552.6L541.7 554.9L542.2 554.8L542.7 556.9L543.2 556.6L543.7 558.6L544.3 557.8L544.8 558.8L545.1 558.7L545.5 548.8L545.8 558.2L545.2 557.8L545.6 558.7L545.9 547.8L546.2 558.2L545.8 559.1L546.3 557.8L546.8 559.0L547.3 557.7L547.9 558.8L548.4 558.2L548.8 559.6L549.4 559.2L549.9 560.6L550.3 559.8L550.8 561.5L551.4 560.9L551.9 562.4L552.4 561.9L553.0 563.7L553.6 562.9L554.0 564.5L554.5 563.0L555.0 564.2L555.5 562.7L555.7 563.5L556.0 428.1L556.3 563.0L555.9 563.8L556.3 562.6L556.9 563.5L557.5 561.3L558.1 561.6L558.5 559.5L559.0 559.6L559.4 557.6L559.9 557.7L560.3 555.7L560.8 556.3L561.2 554.5L561.7 554.7L562.3 552.4L562.9 552.5L563.4 551.8L563.4 543.1L564.0 542.9L564.0 551.5L564.4 552.6L564.4 543.3L564.9 542.2L564.9 552.7L565.3 553.8L565.3 542.3L565.9 542.1L565.9 554.7L566.5 554.5L566.5 541.7L567.0 543.0L567.0 555.4L567.5 555.7L567.5 544.3L568.1 546.6L568.1 556.4L568.6 556.6L568.6 546.9L569.1 547.0L569.1 557.3L569.6 557.6L569.6 548.6L570.0 548.7L570.0 558.9L570.6 559.8L570.6 544.3L571.1 540.6L571.1 560.2L571.5 561.4L571.5 540.4L572.1 540.9L572.1 562.2L572.6 561.4L572.6 544.5L573.0 545.8L573.0 562.1L573.5 562.7L573.5 545.8L574.0 549.6L574.0 563.8L574.4 563.8L574.4 553.5L574.8 559.1L574.8 564.5L575.3 563.9L575.3 561.4L575.8 561.8L575.8 564.8L576.3 564.2L576.3 561.9L576.8 561.2L576.8 564.9L577.2 566.3L577.5 552.6L577.8 565.8L577.3 565.2L577.3 559.5L577.7 556.7L577.7 565.3L578.3 565.6L578.3 555.3L578.7 555.3L578.7 565.3L579.1 565.1L579.1 552.3L579.6 549.7L579.6 565.2L580.0 565.4L580.0 547.4L580.6 547.8L580.6 564.9L581.1 565.1L581.1 547.1L581.5 545.2L581.5 564.5L582.0 565.4L582.0 545.0L582.4 546.7L582.4 566.0L582.7 567.5L583.0 528.6L583.3 567.0L582.9 566.3L582.9 546.4L583.4 547.1L583.4 567.3L583.9 567.4L583.9 548.3L584.3 561.0L584.3 567.8L584.7 567.7L584.7 561.7L585.3 559.4L585.3 565.8L585.8 564.6L585.8 557.3L586.2 552.2L586.2 564.0L586.7 565.0L586.7 541.0L587.3 536.3L587.3 564.5L587.7 564.1L587.7 534.2L588.2 529.0L588.2 563.4L588.6 563.1L588.6 523.2L589.2 523.7L589.2 562.8L589.8 560.4L589.8 525.6L589.9 560.8L590.2 506.7L590.5 560.3L590.2 526.6L590.2 560.6L590.7 560.1L590.7 527.7L591.1 527.5L591.1 561.3L591.5 562.7L591.5 527.4L592.1 527.4L592.1 564.5L592.5 566.4L592.5 527.4L593.0 527.7L593.0 566.1L593.5 565.1L593.5 537.3L594.1 538.9L594.1 563.1L594.6 562.3L594.6 539.5L595.1 541.5L595.1 561.6L595.6 557.6L595.6 541.1L596.1 541.3L596.1 556.5L596.6 556.4L596.6 541.3L597.0 539.1L597.0 555.9L597.4 556.8L597.4 539.4L598.0 538.0L598.0 556.8L598.4 557.2L598.4 533.8L599.0 530.6L599.0 556.6L599.5 555.6L599.5 529.4L600.0 529.4L600.0 555.5L600.5 555.1L600.5 528.4L601.0 526.1L601.0 554.6L601.5 553.5L601.5 524.2L602.0 523.7L602.0 553.6L602.5 552.3L602.5 523.1L603.0 520.1L603.0 552.4L603.6 550.7L603.6 516.9L604.2 502.1L604.2 549.7L604.7 549.8L604.7 498.5L605.3 498.6L605.3 549.8L605.8 556.1L605.8 500.1L606.2 509.3L606.2 556.4L606.7 556.5L606.7 523.7L607.2 525.5L607.2 557.5L607.6 558.8L607.6 526.2L608.1 527.6L608.1 559.6L608.5 560.7L608.5 536.1L609.0 536.2L609.0 561.3L609.5 561.9L609.5 537.8L610.1 540.0L610.1 562.1L610.6 563.2L610.6 543.4L611.0 543.3L611.0 563.9L611.6 564.1L611.6 554.8L612.0 561.5L612.0 564.4L612.5 565.1L612.5 561.8L613.0 562.0L613.0 565.4L613.6 566.2L613.6 563.5L614.0 565.6L614.0 567.3L614.6 567.1L614.6 566.4L615.2 566.7L615.2 567.3L615.8 567.7L616.0 409.6L616.4 567.2L615.6 567.3L615.6 566.7L616.1 567.7L616.5 566.8L617.0 567.8L617.5 566.4L617.9 566.5L617.9 567.0L618.5 566.5L618.5 565.5L619.1 565.4L619.1 566.2L619.6 565.9L619.6 565.2L620.1 564.5L620.1 565.8L620.6 565.2L620.6 563.4L621.1 563.6L621.1 565.4L621.5 565.5L621.5 563.7L621.9 564.4L621.9 566.5L622.4 566.4L622.4 564.4L623.0 564.2L623.0 566.6L623.4 565.7L623.4 563.9L624.0 556.6L624.0 565.0L624.5 565.3L624.5 558.2L625.0 557.9L625.0 565.8L625.6 565.4L625.6 554.7L626.2 552.3L626.2 566.9L626.8 568.0L627.0 430.1L627.4 567.5L626.6 567.5L626.6 552.9L627.1 553.7L627.1 567.1L627.5 565.6L627.5 555.6L627.9 555.1L627.9 565.4L628.5 564.8L628.5 555.2L629.0 553.9L629.0 564.6L629.6 567.7L629.9 546.8L630.2 567.2L629.5 565.3L629.5 554.0L630.1 548.8L630.1 565.9L630.5 567.0L630.5 552.6L631.0 553.1L631.0 567.8L631.4 567.9L631.4 553.4L631.9 551.3L631.9 568.9L632.5 569.0L632.8 544.1L633.1 568.5L632.5 568.7L632.5 550.8L633.0 569.0L633.3 544.1L633.6 568.5L633.0 544.3L633.0 568.9L633.6 569.0L633.6 551.2L634.1 553.8L634.1 568.8L634.6 568.8L634.6 553.9L635.1 555.3L635.1 567.7L635.6 567.1L635.6 557.0L635.8 569.1L636.1 504.7L636.4 568.6L636.0 557.9L636.0 567.6L636.6 568.2L636.6 560.3L637.0 561.5L637.0 568.1L637.4 568.5L637.4 561.6L637.9 560.4L637.9 568.4L638.2 568.9L638.5 556.8L638.8 568.4L638.4 568.1L638.4 558.6L638.8 561.9L638.8 568.5L639.2 567.7L639.2 562.7L639.7 562.7L639.7 567.0L640.2 567.6L640.2 563.1L640.8 561.0L640.8 568.0L641.3 568.0L641.3 559.3L641.8 560.0L641.8 567.5L642.2 567.2L642.2 561.6L642.8 568.2L643.1 436.0L643.4 567.7L642.7 563.5L642.7 567.1L643.2 566.5L643.2 564.5L643.7 568.0L644.0 497.4L644.3 567.5L643.7 565.5L643.7 567.9L644.1 567.5L644.1 566.1L644.6 566.3L644.6 567.8L645.1 567.3L645.1 566.5L645.6 566.4L645.6 567.2L646.2 567.0L646.2 564.7L646.6 567.7L646.9 550.5L647.2 567.2L646.7 551.3L646.7 567.3L647.1 567.7L647.4 550.5L647.7 567.2L647.2 567.5L647.2 551.8L647.7 552.2L647.7 566.8L648.1 567.3L648.1 552.9L648.5 554.8L648.5 567.3L648.8 567.8L649.1 481.4L649.4 567.3L649.1 567.7L649.1 556.4L649.5 559.0L649.5 565.9L650.0 566.6L650.0 560.6L650.6 564.6L650.6 567.4L651.1 568.0L651.1 565.8L651.6 565.9L651.6 568.7L652.0 568.9L652.0 566.7L652.6 566.9L652.6 568.9L653.0 568.9L653.0 567.2L653.5 568.2L653.5 569.2L654.0 569.6L654.0 568.9L654.5 569.1L654.5 569.8L655.0 569.6L655.6 570.9L655.9 570.9L656.2 491.8L656.5 570.4L656.2 570.0L656.6 571.0L657.2 569.2L657.5 469.8L657.8 568.7L657.1 569.1L657.5 570.0L657.9 569.4L658.2 401.4L658.5 568.9L658.0 568.7L658.6 569.6L658.9 -1239.0L659.2 569.1L658.5 570.0L658.9 568.5L659.4 569.7L659.9 570.1L659.9 569.0L660.4 569.1L660.4 569.7L660.9 570.3L660.9 569.3L661.5 569.5L661.5 570.8L662.0 570.4L662.0 569.5L662.2 571.6L662.5 478.7L662.8 571.1L662.4 569.6L662.4 570.7L662.9 570.4L662.9 569.4L663.3 569.1L663.3 569.8L663.9 569.3L663.9 567.7L664.3 567.3L664.3 568.0L664.8 566.6L664.8 564.5L665.3 560.2L665.3 565.8L665.7 564.5L665.7 557.7L666.3 557.4L666.3 563.1L666.7 562.3L666.7 556.8L667.2 553.5L667.2 561.5L667.7 561.4L667.7 550.6L668.3 554.5L668.3 562.9L668.8 566.3L668.8 556.4L669.3 566.8L669.3 567.7L669.9 568.0L670.4 569.8L670.8 568.9L671.3 570.6L671.9 569.9L672.4 571.0L672.9 569.5L673.4 570.6L674.0 568.9L674.5 569.6L675.1 568.4L675.1 567.8L675.5 559.8L675.5 564.8L676.1 558.1L676.1 540.8L676.5 552.2L676.8 516.2L677.1 551.7L676.6 539.6L676.6 552.3L677.0 556.5L677.0 528.3L677.6 560.2L677.6 567.4L678.2 567.1L678.2 563.4L678.6 564.5L678.6 566.7L679.1 566.6L679.1 564.7L679.6 564.2L679.6 566.7L680.2 566.7L680.2 564.6L680.6 564.3L680.6 567.0L681.2 569.2L681.2 560.9L681.7 556.4L681.7 569.9L682.2 569.1L682.2 555.6L682.8 569.5L683.0 462.8L683.2 561.0L683.4 546.6L683.4 464.0L683.7 463.1L683.7 519.6L684.0 519.8L684.0 463.9L684.3 -1239.0L684.3 519.4L684.6 519.5L684.6 -1239.0L684.9 -1239.0L684.9 519.4L685.2 519.6L685.2 478.7L685.5 478.2L685.5 519.5L685.8 548.9L685.8 478.0L686.1 478.1L686.1 545.1L686.4 545.2L686.4 478.5L686.7 478.5L686.7 545.1L687.0 545.8L687.0 477.7L687.3 477.5L687.3 528.9L687.6 529.1L687.6 -1239.0L687.9 -1239.0L687.9 528.7L688.2 529.0L688.2 406.8L688.5 407.0L688.5 528.8L688.8 528.8L688.8 407.4L689.1 407.8L689.1 528.9L689.4 528.3L689.4 446.0L689.5 444.8L689.5 563.6L689.7 555.8L689.7 445.9L690.0 446.0L690.0 556.2L690.3 556.0L690.3 444.8L690.6 445.8L690.6 556.7L690.9 557.0L690.9 444.9L691.2 445.1L691.2 557.1L691.5 556.8L691.5 445.3L691.8 446.0L691.8 556.7L692.1 550.3L692.1 446.1L692.4 445.9L692.4 550.0L692.7 550.0L692.7 446.1L693.0 419.1L693.0 549.2L693.3 549.3L693.3 419.6L693.6 419.4L693.6 549.3L693.9 549.2L693.9 419.6L694.2 -1239.0L694.2 550.2L694.5 550.2L694.5 -1239.0L694.5 -1239.0L694.5 565.6L694.8 562.2L694.8 -1239.0L695.1 513.5L695.1 562.5L695.4 562.3L695.4 513.5L695.7 514.1L695.7 562.3L696.0 562.5L696.0 514.0L696.3 513.6L696.3 562.3L696.6 561.6L696.6 513.3L696.9 514.2L696.9 561.8L697.2 555.7L697.2 513.7L697.5 512.8L697.5 555.4L697.8 555.5L697.8 514.2L698.1 514.2L698.1 555.7L698.4 548.4L698.4 513.5L698.7 512.8L698.7 548.2L699.0 548.1L699.0 471.3L699.3 471.3L699.3 548.0L699.6 548.2L699.6 471.6L699.9 471.1L699.9 548.1L700.2 548.6L700.2 -1239.0L700.5 -1239.0L700.5 548.6L700.8 559.6L700.8 -1239.0L701.1 -1239.0L701.1 559.9L701.4 559.2L701.4 -1239.0L701.7 -1239.0L701.7 559.2L702.0 559.3L702.0 -1239.0L702.3 -1239.0L702.3 559.2L702.6 558.8L702.6 -1239.0L702.9 -1239.0L702.9 558.7L703.2 559.0L703.2 -1239.0L703.5 -1239.0L703.5 565.4L703.8 566.3L703.8 -1239.0L704.1 -1239.0L704.1 566.2L704.4 566.2L704.4 533.8L704.7 535.1L704.7 566.2L705.0 566.3L705.0 534.2L705.3 534.1L705.3 577.1L705.6 576.7L705.6 534.7L705.9 535.0L705.9 576.8L706.2 576.2L706.2 534.7L706.5 -1239.0L706.5 576.2L706.8 576.1L706.8 -1239.0L707.1 512.8L707.1 576.2L707.4 577.1L707.4 512.5L707.7 511.9L707.7 577.0L707.8 589.8L707.8 511.8L708.0 511.8L708.0 580.5L708.3 580.2L708.3 513.1L708.6 513.0L708.6 580.0L708.9 579.8L708.9 512.6L709.2 512.2L709.2 580.0L709.5 579.9L709.5 512.2L709.8 513.2L709.8 580.1L710.0 580.7L710.0 431.0L710.1 530.6L710.1 580.4L710.4 580.4L710.4 529.9L710.7 530.6L710.7 580.0L711.0 591.5L711.0 529.8L711.3 552.2L711.3 591.6L711.6 591.3L711.6 552.7L711.9 551.9L711.9 577.2L712.2 578.1L712.2 551.6L712.5 551.3L712.5 578.4L712.8 578.5L712.8 552.3L713.2 578.2L713.4 546.0L713.6 -1239.0L714.3 463.5L714.7 -1239.0" fill="none" stroke="#1f77b4" stroke-width="1.8" stroke-linejoin="round" stroke-linecap="butt"/>
<line x1="449.97" y1="593.89" x2="449.97" y2="603.79" stroke="#000" stroke-width="2.2"/>
<text x="449.97" y="625.19" font-family="'Liberation Serif', serif" font-size="16.2" text-anchor="middle" fill="#000">0</text>
<line x1="516.97" y1="593.89" x2="516.97" y2="603.79" stroke="#000" stroke-width="2.2"/>
<text x="516.67" y="625.19" font-family="'Liberation Serif', serif" font-size="16.2" text-anchor="middle" fill="#000">25</text>
<line x1="582.97" y1="593.89" x2="582.97" y2="603.79" stroke="#000" stroke-width="2.2"/>
<text x="582.97" y="625.19" font-family="'Liberation Serif', serif" font-size="16.2" text-anchor="middle" fill="#000">50</text>
<line x1="648.97" y1="593.89" x2="648.97" y2="603.79" stroke="#000" stroke-width="2.2"/>
<text x="648.97" y="625.19" font-family="'Liberation Serif', serif" font-size="16.2" text-anchor="middle" fill="#000">75</text>
<line x1="715.97" y1="593.89" x2="715.97" y2="603.79" stroke="#000" stroke-width="2.2"/>
<text x="714.67" y="625.19" font-family="'Liberation Serif', serif" font-size="16.2" text-anchor="middle" fill="#000">100</text>
<line x1="427.07" y1="557.90" x2="436.97" y2="557.90" stroke="#000" stroke-width="2.2"/>
<text x="417.17" y="563.80" font-family="'Liberation Serif', serif" font-size="16.2" text-anchor="end" fill="#000">64</text>
<line x1="427.07" y1="513.90" x2="436.97" y2="513.90" stroke="#000" stroke-width="2.2"/>
<text x="417.17" y="519.80" font-family="'Liberation Serif', serif" font-size="16.2" text-anchor="end" fill="#000">66</text>
<line x1="427.07" y1="470.90" x2="436.97" y2="470.90" stroke="#000" stroke-width="2.2"/>
<text x="417.17" y="476.80" font-family="'Liberation Serif', serif" font-size="16.2" text-anchor="end" fill="#000">68</text>
<line x1="427.07" y1="426.90" x2="436.97" y2="426.90" stroke="#000" stroke-width="2.2"/>
<text x="417.17" y="432.80" font-family="'Liberation Serif', serif" font-size="16.2" text-anchor="end" fill="#000">70</text>
<line x1="427.07" y1="383.90" x2="436.97" y2="383.90" stroke="#000" stroke-width="2.2"/>
<text x="417.17" y="389.80" font-family="'Liberation Serif', serif" font-size="16.2" text-anchor="end" fill="#000">72</text>
<rect x="436.97" y="375.87" width="292.03" height="218.02" fill="none" stroke="#000" stroke-width="2.2" stroke-linejoin="miter"/>
<clipPath id="c12"><rect x="786.97" y="375.87" width="292.03" height="218.02"/></clipPath>
<path clip-path="url(#c12)" d="M800.9 423.3L801.0 -1239.0L801.9 -1239.0L802.1 431.0L802.5 497.0L802.8 559.0L803.1 557.0L803.4 565.5L803.8 560.5L804.3 569.9L804.8 563.5L805.3 567.5L806.0 553.2L806.4 566.5L806.9 561.0L807.3 565.6L807.9 563.2L808.6 562.0L809.0 -1239.0L809.2 560.5L809.5 554.2L809.5 545.8L810.0 545.8L810.0 553.4L810.4 551.4L810.4 544.0L810.8 541.4L810.8 548.8L811.3 546.4L811.3 539.2L811.8 535.9L811.8 545.0L812.3 544.5L812.3 534.6L812.8 534.1L812.8 542.6L813.4 540.6L813.4 534.1L813.7 540.6L814.0 -1239.0L814.3 540.1L813.9 534.7L813.9 538.7L814.4 537.5L814.4 534.8L814.8 535.1L814.8 536.3L815.3 535.7L815.3 534.8L815.7 535.9L816.0 471.9L816.3 535.4L815.8 534.7L815.8 535.3L816.3 535.7L816.3 534.5L816.7 534.4L816.7 535.3L817.0 535.5L817.3 507.8L817.6 535.0L817.3 535.0L817.3 534.2L817.9 534.0L817.9 534.7L818.4 534.8L818.4 533.9L818.9 533.9L818.9 534.6L819.5 536.6L819.8 522.3L820.1 536.1L819.4 535.5L819.4 534.0L820.0 533.7L820.0 536.0L820.5 536.5L820.5 534.2L820.9 534.0L820.9 536.1L821.3 536.5L821.3 534.8L821.8 534.4L821.8 536.9L822.4 537.3L822.4 535.5L822.9 535.7L822.9 537.7L823.3 538.1L823.3 535.8L823.8 535.3L823.8 539.1L824.3 539.5L824.3 534.5L824.8 534.5L824.8 539.8L825.2 540.9L825.2 534.8L825.8 534.3L825.8 541.5L826.3 542.2L826.3 532.9L826.8 533.0L826.8 542.6L827.2 542.9L827.2 533.7L827.6 533.4L827.6 543.7L828.0 544.0L828.0 534.2L828.6 533.6L828.6 544.7L829.1 544.3L829.1 534.4L829.6 535.6L829.6 544.8L830.2 544.7L830.2 536.6L830.7 539.0L830.7 545.3L831.3 545.2L831.3 540.2L831.7 540.5L831.7 545.5L832.3 544.7L832.3 541.8L832.8 543.0L832.8 545.3L833.4 546.8L833.4 542.9L833.8 544.5L833.8 546.8L834.4 546.5L834.4 545.5L835.0 545.9L835.0 546.9L835.4 545.6L836.0 547.0L836.5 529.4L837.1 512.5L837.6 486.4L837.9 487.2L838.2 485.9L837.5 498.5L838.1 491.9L838.6 505.7L839.1 519.6L839.5 533.5L840.1 550.2L840.6 551.2L840.6 548.5L841.1 549.4L841.1 551.7L841.7 554.0L841.7 551.8L842.3 553.2L842.3 554.8L842.7 555.8L842.7 553.9L843.0 557.7L843.3 542.3L843.6 557.2L843.2 554.8L843.2 556.8L843.8 557.6L843.8 555.7L844.2 556.4L844.2 557.5L844.7 558.2L844.7 557.2L845.2 558.0L845.2 558.8L845.8 559.6L845.8 558.8L846.3 559.2L846.3 560.2L846.7 560.8L846.7 559.4L847.3 560.3L847.3 561.4L847.8 562.0L847.8 561.3L848.2 561.9L848.2 562.4L848.7 562.9L848.7 562.4L849.3 563.9L849.8 563.2L850.3 565.0L850.8 563.4L851.4 564.5L852.1 563.3L852.4 549.6L852.7 562.8L852.0 562.7L852.4 563.5L853.0 561.5L853.4 561.8L853.9 560.3L854.4 560.9L854.9 558.4L855.5 558.1L856.0 555.4L856.5 555.6L857.1 553.2L857.6 553.1L858.1 551.1L858.7 552.3L859.2 551.3L859.7 552.6L860.1 551.1L860.5 551.6L860.9 550.7L861.2 537.3L861.5 550.2L861.0 549.9L861.5 550.5L862.0 548.9L862.6 549.5L863.2 548.2L863.6 548.7L864.2 547.1L864.6 548.0L865.2 546.3L865.6 546.9L866.2 545.3L866.8 545.4L866.8 545.9L867.2 546.2L867.2 544.6L867.7 544.8L867.7 545.9L868.3 546.1L868.3 545.4L868.8 545.4L868.8 546.1L869.2 546.2L869.2 545.2L869.6 545.4L869.6 546.5L870.1 546.6L870.1 543.8L870.6 542.5L870.6 546.8L871.0 545.9L871.0 542.0L871.5 542.4L871.5 546.0L871.9 546.0L871.9 542.4L872.4 539.5L872.4 540.1L872.9 533.8L873.5 528.4L874.0 521.4L874.4 518.9L874.8 514.8L875.2 513.5L875.6 511.3L876.2 514.5L876.7 516.6L877.1 523.9L877.6 528.3L878.0 535.4L878.6 540.4L879.1 546.6L879.5 547.8L879.9 550.1L880.4 550.3L880.9 552.5L881.3 551.7L881.7 553.0L882.1 552.4L882.5 553.8L883.1 551.2L883.6 550.9L884.2 548.0L884.6 547.5L885.2 546.5L885.8 549.5L886.2 549.2L886.8 550.9L887.3 549.7L887.7 551.1L888.2 549.7L888.7 551.0L889.0 476.0L889.3 550.5L888.8 551.4L889.3 550.2L889.9 551.4L890.3 551.1L890.7 553.2L891.2 552.6L891.7 554.9L892.2 554.8L892.7 556.9L893.2 556.6L893.7 558.6L894.3 557.8L894.8 558.8L895.1 558.7L895.5 548.8L895.8 558.2L895.2 557.8L895.6 558.7L895.9 547.8L896.2 558.2L895.8 559.1L896.3 557.8L896.8 559.0L897.3 557.7L897.9 558.8L898.4 558.2L898.8 559.6L899.4 559.2L899.9 560.6L900.3 559.8L900.8 561.5L901.4 560.9L901.9 562.4L902.4 561.9L903.0 563.7L903.6 562.9L904.0 564.5L904.5 563.0L905.0 564.2L905.5 562.7L905.7 563.5L906.0 428.1L906.3 563.0L905.9 563.8L906.3 562.6L906.9 563.5L907.5 561.3L908.1 561.6L908.5 559.5L909.0 559.6L909.4 557.6L909.9 557.7L910.3 555.7L910.8 556.3L911.2 554.5L911.7 554.7L912.3 552.4L912.9 552.5L913.4 551.8L913.4 543.1L914.0 542.9L914.0 551.5L914.4 552.6L914.4 543.3L914.9 542.2L914.9 552.7L915.3 553.8L915.3 542.3L915.9 542.1L915.9 554.7L916.5 554.5L916.5 541.7L917.0 543.0L917.0 555.4L917.5 555.7L917.5 544.3L918.1 546.6L918.1 556.4L918.6 556.6L918.6 546.9L919.1 547.0L919.1 557.3L919.6 557.6L919.6 548.6L920.0 548.7L920.0 558.9L920.6 559.8L920.6 544.3L921.1 540.6L921.1 560.2L921.5 561.4L921.5 540.4L922.1 540.9L922.1 562.2L922.6 561.4L922.6 544.5L923.0 545.8L923.0 562.1L923.5 562.7L923.5 545.8L924.0 549.6L924.0 563.8L924.4 563.8L924.4 553.5L924.8 559.1L924.8 564.5L925.3 563.9L925.3 561.4L925.8 561.8L925.8 564.8L926.3 564.2L926.3 561.9L926.8 561.2L926.8 564.9L927.2 566.3L927.5 552.6L927.8 565.8L927.3 565.2L927.3 559.5L927.7 556.7L927.7 565.3L928.3 565.6L928.3 555.3L928.7 555.3L928.7 565.3L929.1 565.1L929.1 552.3L929.6 549.7L929.6 565.2L930.0 565.4L930.0 547.4L930.6 547.8L930.6 564.9L931.1 565.1L931.1 547.1L931.5 545.2L931.5 564.5L932.0 565.4L932.0 545.0L932.4 546.7L932.4 566.0L932.7 567.5L933.0 528.6L933.3 567.0L932.9 566.3L932.9 546.4L933.4 547.1L933.4 567.3L933.9 567.4L933.9 548.3L934.3 561.0L934.3 567.8L934.7 567.7L934.7 561.7L935.3 559.4L935.3 565.8L935.8 564.6L935.8 557.3L936.2 552.2L936.2 564.0L936.7 565.0L936.7 541.0L937.3 536.3L937.3 564.5L937.7 564.1L937.7 534.2L938.2 529.0L938.2 563.4L938.6 563.1L938.6 523.2L939.2 523.7L939.2 562.8L939.8 560.4L939.8 525.6L939.9 560.8L940.2 506.7L940.5 560.3L940.2 526.6L940.2 560.6L940.7 560.1L940.7 527.7L941.1 527.5L941.1 561.3L941.5 562.7L941.5 527.4L942.1 527.4L942.1 564.5L942.5 566.4L942.5 527.4L943.0 527.7L943.0 566.1L943.5 565.1L943.5 537.3L944.1 538.9L944.1 563.1L944.6 562.3L944.6 539.5L945.1 541.5L945.1 561.6L945.6 557.6L945.6 541.1L946.1 541.3L946.1 556.5L946.6 556.4L946.6 541.3L947.0 539.1L947.0 555.9L947.4 556.8L947.4 539.4L948.0 538.0L948.0 556.8L948.4 557.2L948.4 533.8L949.0 530.6L949.0 556.6L949.5 555.6L949.5 529.4L950.0 529.4L950.0 555.5L950.5 555.1L950.5 528.4L951.0 526.1L951.0 554.6L951.5 553.5L951.5 524.2L952.0 523.7L952.0 553.6L952.5 552.3L952.5 523.1L953.0 520.1L953.0 552.4L953.6 550.7L953.6 516.9L954.2 502.1L954.2 549.7L954.7 549.8L954.7 498.5L955.3 498.6L955.3 549.8L955.8 556.1L955.8 500.1L956.2 509.3L956.2 556.4L956.7 556.5L956.7 523.7L957.2 525.5L957.2 557.5L957.6 558.8L957.6 526.2L958.1 527.6L958.1 559.6L958.5 560.7L958.5 536.1L959.0 536.2L959.0 561.3L959.5 561.9L959.5 537.8L960.1 540.0L960.1 562.1L960.6 563.2L960.6 543.4L961.0 543.3L961.0 563.9L961.6 564.1L961.6 554.8L962.0 561.5L962.0 564.4L962.5 565.1L962.5 561.8L963.0 562.0L963.0 565.4L963.6 566.2L963.6 563.5L964.0 565.6L964.0 567.3L964.6 567.1L964.6 566.4L965.2 566.7L965.2 567.3L965.8 567.7L966.0 409.6L966.4 567.2L965.6 567.3L965.6 566.7L966.1 567.7L966.5 566.8L967.0 567.8L967.5 566.4L967.9 566.5L967.9 567.0L968.5 566.5L968.5 565.5L969.1 565.4L969.1 566.2L969.6 565.9L969.6 565.2L970.1 564.5L970.1 565.8L970.6 565.2L970.6 563.4L971.1 563.6L971.1 565.4L971.5 565.5L971.5 563.7L971.9 564.4L971.9 566.5L972.4 566.4L972.4 564.4L973.0 564.2L973.0 566.6L973.4 565.7L973.4 563.9L974.0 556.6L974.0 565.0L974.5 565.3L974.5 558.2L975.0 557.9L975.0 565.8L975.6 565.4L975.6 554.7L976.2 552.3L976.2 566.9L976.8 568.0L977.0 430.1L977.4 567.5L976.6 567.5L976.6 552.9L977.1 553.7L977.1 567.1L977.5 565.6L977.5 555.6L977.9 555.1L977.9 565.4L978.5 564.8L978.5 555.2L979.0 553.9L979.0 564.6L979.6 567.7L979.9 546.8L980.2 567.2L979.5 565.3L979.5 554.0L980.1 548.8L980.1 565.9L980.5 567.0L980.5 552.6L981.0 553.1L981.0 567.8L981.4 567.9L981.4 553.4L981.9 551.3L981.9 568.9L982.5 569.0L982.8 544.1L983.1 568.5L982.5 568.7L982.5 550.8L983.0 569.0L983.3 544.1L983.6 568.5L983.0 544.3L983.0 568.9L983.6 569.0L983.6 551.2L984.1 553.8L984.1 568.8L984.6 568.8L984.6 553.9L985.1 555.3L985.1 567.7L985.6 567.1L985.6 557.0L985.8 569.1L986.1 504.7L986.4 568.6L986.0 557.9L986.0 567.6L986.6 568.2L986.6 560.3L987.0 561.5L987.0 568.1L987.4 568.5L987.4 561.6L987.9 560.4L987.9 568.4L988.2 568.9L988.5 556.8L988.8 568.4L988.4 568.1L988.4 558.6L988.8 561.9L988.8 568.5L989.2 567.7L989.2 562.7L989.7 562.7L989.7 567.0L990.2 567.6L990.2 563.1L990.8 561.0L990.8 568.0L991.3 568.0L991.3 559.3L991.8 560.0L991.8 567.5L992.2 567.2L992.2 561.6L992.8 568.2L993.1 436.0L993.4 567.7L992.7 563.5L992.7 567.1L993.2 566.5L993.2 564.5L993.7 568.0L994.0 497.4L994.3 567.5L993.7 565.5L993.7 567.9L994.1 567.5L994.1 566.1L994.6 566.3L994.6 567.8L995.1 567.3L995.1 566.5L995.6 566.4L995.6 567.2L996.2 567.0L996.2 564.7L996.6 567.7L996.9 550.5L997.2 567.2L996.7 551.3L996.7 567.3L997.1 567.7L997.4 550.5L997.7 567.2L997.2 567.5L997.2 551.8L997.7 552.2L997.7 566.8L998.1 567.3L998.1 552.9L998.5 554.8L998.5 567.3L998.8 567.8L999.1 481.4L999.4 567.3L999.1 567.7L999.1 556.4L999.5 559.0L999.5 565.9L1000.0 566.6L1000.0 560.6L1000.6 564.6L1000.6 567.4L1001.1 568.0L1001.1 565.8L1001.6 565.9L1001.6 568.7L1002.0 568.9L1002.0 566.7L1002.6 566.9L1002.6 568.9L1003.0 568.9L1003.0 567.2L1003.5 568.2L1003.5 569.2L1004.0 569.6L1004.0 568.9L1004.5 569.1L1004.5 569.8L1005.0 569.6L1005.6 570.9L1005.9 570.9L1006.2 491.8L1006.5 570.4L1006.2 570.0L1006.6 571.0L1007.2 569.2L1007.5 469.8L1007.8 568.7L1007.1 569.1L1007.5 570.0L1007.9 569.4L1008.2 401.4L1008.5 568.9L1008.0 568.7L1008.6 569.6L1008.9 -1239.0L1009.2 569.1L1008.5 570.0L1008.9 568.5L1009.4 569.7L1009.9 570.1L1009.9 569.0L1010.4 569.1L1010.4 569.7L1010.9 570.3L1010.9 569.3L1011.5 569.5L1011.5 570.8L1012.0 570.4L1012.0 569.5L1012.2 571.6L1012.5 478.7L1012.8 571.1L1012.4 569.6L1012.4 570.7L1012.9 570.4L1012.9 569.4L1013.3 569.1L1013.3 569.8L1013.9 569.3L1013.9 567.7L1014.3 567.3L1014.3 568.0L1014.8 566.6L1014.8 564.5L1015.3 560.2L1015.3 565.8L1015.7 564.5L1015.7 557.7L1016.3 557.4L1016.3 563.1L1016.7 562.3L1016.7 556.8L1017.2 553.5L1017.2 561.5L1017.7 561.4L1017.7 550.6L1018.3 554.5L1018.3 562.9L1018.8 566.3L1018.8 556.4L1019.3 566.8L1019.3 567.7L1019.9 568.0L1020.4 569.8L1020.8 568.9L1021.3 570.6L1021.9 569.9L1022.4 571.0L1022.9 569.5L1023.4 570.6L1024.0 568.9L1024.5 569.6L1025.1 568.4L1025.1 567.8L1025.5 559.8L1025.5 564.8L1026.1 558.1L1026.1 540.8L1026.5 552.2L1026.8 516.2L1027.1 551.7L1026.6 539.6L1026.6 552.3L1027.0 556.5L1027.0 528.3L1027.6 560.2L1027.6 567.4L1028.2 567.1L1028.2 563.4L1028.6 564.5L1028.6 566.7L1029.1 566.6L1029.1 564.7L1029.6 564.2L1029.6 566.7L1030.2 566.7L1030.2 564.6L1030.6 564.3L1030.6 567.0L1031.2 569.2L1031.2 560.9L1031.7 556.4L1031.7 569.9L1032.2 569.1L1032.2 555.6L1032.8 569.5L1033.0 462.8L1033.2 561.0L1033.4 546.6L1033.4 464.0L1033.7 463.1L1033.7 519.6L1034.0 519.8L1034.0 463.9L1034.3 -1239.0L1034.3 519.4L1034.6 519.5L1034.6 -1239.0L1034.9 -1239.0L1034.9 519.4L1035.2 519.6L1035.2 478.7L1035.5 478.2L1035.5 519.5L1035.8 548.9L1035.8 478.0L1036.1 478.1L1036.1 545.1L1036.4 545.2L1036.4 478.5L1036.7 478.5L1036.7 545.1L1037.0 545.8L1037.0 477.7L1037.3 477.5L1037.3 528.9L1037.6 529.1L1037.6 -1239.0L1037.9 -1239.0L1037.9 528.7L1038.2 529.0L1038.2 406.8L1038.5 407.0L1038.5 528.8L1038.8 528.8L1038.8 407.4L1039.1 407.8L1039.1 528.9L1039.4 528.3L1039.4 446.0L1039.5 444.8L1039.5 563.6L1039.7 555.8L1039.7 445.9L1040.0 446.0L1040.0 556.2L1040.3 556.0L1040.3 444.8L1040.6 445.8L1040.6 556.7L1040.9 557.0L1040.9 444.9L1041.2 445.1L1041.2 557.1L1041.5 556.8L1041.5 445.3L1041.8 446.0L1041.8 556.7L1042.1 550.3L1042.1 446.1L1042.4 445.9L1042.4 550.0L1042.7 550.0L1042.7 446.1L1043.0 419.1L1043.0 549.2L1043.3 549.3L1043.3 419.6L1043.6 419.4L1043.6 549.3L1043.9 549.2L1043.9 419.6L1044.2 -1239.0L1044.2 550.2L1044.5 550.2L1044.5 -1239.0L1044.5 -1239.0L1044.5 565.6L1044.8 562.2L1044.8 -1239.0L1045.1 513.5L1045.1 562.5L1045.4 562.3L1045.4 513.5L1045.7 514.1L1045.7 562.3L1046.0 562.5L1046.0 514.0L1046.3 513.6L1046.3 562.3L1046.6 561.6L1046.6 513.3L1046.9 514.2L1046.9 561.8L1047.2 555.7L1047.2 513.7L1047.5 512.8L1047.5 555.4L1047.8 555.5L1047.8 514.2L1048.1 514.2L1048.1 555.7L1048.4 548.4L1048.4 513.5L1048.7 512.8L1048.7 548.2L1049.0 548.1L1049.0 471.3L1049.3 471.3L1049.3 548.0L1049.6 548.2L1049.6 471.6L1049.9 471.1L1049.9 548.1L1050.2 548.6L1050.2 -1239.0L1050.5 -1239.0L1050.5 548.6L1050.8 559.6L1050.8 -1239.0L1051.1 -1239.0L1051.1 559.9L1051.4 559.2L1051.4 -1239.0L1051.7 -1239.0L1051.7 559.2L1052.0 559.3L1052.0 -1239.0L1052.3 -1239.0L1052.3 559.2L1052.6 558.8L1052.6 -1239.0L1052.9 -1239.0L1052.9 558.7L1053.2 559.0L1053.2 -1239.0L1053.5 -1239.0L1053.5 565.4L1053.8 566.3L1053.8 -1239.0L1054.1 -1239.0L1054.1 566.2L1054.4 566.2L1054.4 533.8L1054.7 535.1L1054.7 566.2L1055.0 566.3L1055.0 534.2L1055.3 534.1L1055.3 577.1L1055.6 576.7L1055.6 534.7L1055.9 535.0L1055.9 576.8L1056.2 576.2L1056.2 534.7L1056.5 -1239.0L1056.5 576.2L1056.8 576.1L1056.8 -1239.0L1057.1 512.8L1057.1 576.2L1057.4 577.1L1057.4 512.5L1057.7 511.9L1057.7 577.0L1057.8 589.8L1057.8 511.8L1058.0 511.8L1058.0 580.5L1058.3 580.2L1058.3 513.1L1058.6 513.0L1058.6 580.0L1058.9 579.8L1058.9 512.6L1059.2 512.2L1059.2 580.0L1059.5 579.9L1059.5 512.2L1059.8 513.2L1059.8 580.1L1060.0 580.7L1060.0 431.0L1060.1 530.6L1060.1 580.4L1060.4 580.4L1060.4 529.9L1060.7 530.6L1060.7 580.0L1061.0 591.5L1061.0 529.8L1061.3 552.2L1061.3 591.6L1061.6 591.3L1061.6 552.7L1061.9 551.9L1061.9 577.2L1062.2 578.1L1062.2 551.6L1062.5 551.3L1062.5 578.4L1062.8 578.5L1062.8 552.3L1063.2 578.2L1063.4 546.0L1063.7 -1239.0L1064.3 463.5L1064.7 -1239.0" fill="none" stroke="#1f77b4" stroke-width="1.8" stroke-linejoin="round" stroke-linecap="butt"/>
<line x1="799.97" y1="593.89" x2="799.97" y2="603.79" stroke="#000" stroke-width="2.2"/>
<text x="799.97" y="625.19" font-family="'Liberation Serif', serif" font-size="16.2" text-anchor="middle" fill="#000">0</text>
<line x1="866.97" y1="593.89" x2="866.97" y2="603.79" stroke="#000" stroke-width="2.2"/>
<text x="866.67" y="625.19" font-family="'Liberation Serif', serif" font-size="16.2" text-anchor="middle" fill="#000">25</text>
<line x1="932.97" y1="593.89" x2="932.97" y2="603.79" stroke="#000" stroke-width="2.2"/>
<text x="932.97" y="625.19" font-family="'Liberation Serif', serif" font-size="16.2" text-anchor="middle" fill="#000">50</text>
<line x1="998.97" y1="593.89" x2="998.97" y2="603.79" stroke="#000" stroke-width="2.2"/>
<text x="998.97" y="625.19" font-family="'Liberation Serif', serif" font-size="16.2" text-anchor="middle" fill="#000">75</text>
<line x1="1065.97" y1="593.89" x2="1065.97" y2="603.79" stroke="#000" stroke-width="2.2"/>
<text x="1064.67" y="625.19" font-family="'Liberation Serif', serif" font-size="16.2" text-anchor="middle" fill="#000">100</text>
<line x1="777.07" y1="557.90" x2="786.97" y2="557.90" stroke="#000" stroke-width="2.2"/>
<text x="767.17" y="563.80" font-family="'Liberation Serif', serif" font-size="16.2" text-anchor="end" fill="#000">64</text>
<line x1="777.07" y1="513.90" x2="786.97" y2="513.90" stroke="#000" stroke-width="2.2"/>
<text x="767.17" y="519.80" font-family="'Liberation Serif', serif" font-size="16.2" text-anchor="end" fill="#000">66</text>
<line x1="777.07" y1="470.90" x2="786.97" y2="470.90" stroke="#000" stroke-width="2.2"/>
<text x="767.17" y="476.80" font-family="'Liberation Serif', serif" font-size="16.2" text-anchor="end" fill="#000">68</text>
<line x1="777.07" y1="426.90" x2="786.97" y2="426.90" stroke="#000" stroke-width="2.2"/>
<text x="767.17" y="432.80" font-family="'Liberation Serif', serif" font-size="16.2" text-anchor="end" fill="#000">70</text>
<line x1="777.07" y1="383.90" x2="786.97" y2="383.90" stroke="#000" stroke-width="2.2"/>
<text x="767.17" y="389.80" font-family="'Liberation Serif', serif" font-size="16.2" text-anchor="end" fill="#000">72</text>
<rect x="786.97" y="375.87" width="292.03" height="218.02" fill="none" stroke="#000" stroke-width="2.2" stroke-linejoin="miter"/>
<clipPath id="c20"><rect x="86.97" y="636.87" width="292.03" height="218.02"/></clipPath>
<path clip-path="url(#c20)" d="M100.9 684.3L101.0 -978.0L101.9 -978.0L102.1 692.0L102.5 758.0L102.8 820.0L103.1 818.0L103.4 826.5L103.8 821.5L104.3 830.9L104.8 824.5L105.3 828.5L106.0 814.2L106.4 827.5L106.9 822.0L107.3 826.6L107.9 824.2L108.6 823.0L109.0 -978.0L109.2 821.5L109.5 815.2L109.5 806.9L110.0 806.9L110.0 814.5L110.4 812.5L110.4 805.0L110.8 802.4L110.8 809.9L111.3 807.4L111.3 800.3L111.8 796.9L111.8 806.0L112.3 805.6L112.3 795.6L112.8 795.2L112.8 803.6L113.4 801.6L113.4 795.2L113.7 801.6L114.0 -978.0L114.3 801.1L113.9 795.7L113.9 799.8L114.4 798.5L114.4 795.8L114.8 796.1L114.8 797.3L115.3 796.7L115.3 795.9L115.7 797.0L116.0 732.9L116.3 796.5L115.8 795.7L115.8 796.4L116.3 796.7L116.3 795.5L116.7 795.4L116.7 796.3L117.0 796.6L117.3 768.8L117.6 796.1L117.3 796.0L117.3 795.2L117.9 795.0L117.9 795.7L118.4 795.9L118.4 794.9L118.9 794.9L118.9 795.7L119.5 797.6L119.8 783.3L120.1 797.1L119.4 796.5L119.4 795.0L120.0 794.7L120.0 797.1L120.5 797.6L120.5 795.3L120.9 795.1L120.9 797.2L121.3 797.5L121.3 795.8L121.8 795.4L121.8 797.9L122.4 798.4L122.4 796.5L122.9 796.8L122.9 798.7L123.3 799.1L123.3 796.9L123.8 796.3L123.8 800.2L124.3 800.6L124.3 795.6L124.8 795.6L124.8 800.9L125.2 802.0L125.2 795.9L125.8 795.3L125.8 802.6L126.3 803.2L126.3 793.9L126.8 794.0L126.8 803.7L127.2 804.0L127.2 794.8L127.6 794.4L127.6 804.7L128.0 805.0L128.0 795.2L128.6 794.6L128.6 805.8L129.1 805.4L129.1 795.4L129.6 796.6L129.6 805.8L130.2 805.8L130.2 797.6L130.7 800.0L130.7 806.3L131.3 806.3L131.3 801.3L131.7 801.5L131.7 806.5L132.3 805.8L132.3 802.9L132.8 804.0L132.8 806.3L133.4 807.8L133.4 803.9L133.8 805.5L133.8 807.9L134.4 807.5L134.4 806.5L135.0 806.9L135.0 807.9L135.4 806.6L136.0 808.0L136.5 790.4L137.1 773.5L137.6 747.4L137.9 748.2L138.2 746.9L137.5 759.5L138.1 752.9L138.6 766.7L139.1 780.6L139.5 794.5L140.1 811.3L140.6 812.2L140.6 809.5L141.1 810.5L141.1 812.8L141.7 815.0L141.7 812.9L142.3 814.2L142.3 815.9L142.7 816.9L142.7 814.9L143.0 818.7L143.3 803.3L143.6 818.2L143.2 815.8L143.2 817.9L143.8 818.6L143.8 816.7L144.2 817.5L144.2 818.6L144.7 819.2L144.7 818.3L145.2 819.0L145.2 819.9L145.8 820.6L145.8 819.8L146.3 820.2L146.3 821.2L146.7 821.8L146.7 820.4L147.3 821.3L147.3 822.4L147.8 823.0L147.8 822.4L148.2 822.9L148.2 823.5L148.7 824.0L148.7 823.5L149.3 824.9L149.8 824.3L150.3 826.0L150.8 824.4L151.4 825.5L152.1 824.3L152.4 810.6L152.7 823.8L152.0 823.7L152.4 824.5L153.0 822.6L153.4 822.9L153.9 821.4L154.4 821.9L154.9 819.4L155.5 819.2L156.0 816.4L156.5 816.6L157.1 814.2L157.6 814.2L158.1 812.1L158.7 813.3L159.2 812.4L159.7 813.6L160.1 812.1L160.5 812.6L160.9 811.7L161.2 798.3L161.5 811.2L161.0 810.9L161.5 811.5L162.0 809.9L162.6 810.6L163.2 809.2L163.6 809.7L164.2 808.1L164.6 809.0L165.2 807.3L165.6 807.9L166.2 806.3L166.8 806.4L166.8 806.9L167.2 807.2L167.2 805.7L167.7 805.8L167.7 806.9L168.3 807.2L168.3 806.4L168.8 806.4L168.8 807.2L169.2 807.2L169.2 806.2L169.6 806.4L169.6 807.5L170.1 807.6L170.1 804.9L170.6 803.5L170.6 807.8L171.0 806.9L171.0 803.0L171.5 803.5L171.5 807.0L171.9 807.1L171.9 803.5L172.4 800.5L172.4 801.1L172.9 794.9L173.5 789.4L174.0 782.4L174.4 779.9L174.8 775.8L175.2 774.5L175.6 772.3L176.2 775.6L176.7 777.7L177.1 784.9L177.6 789.3L178.0 796.4L178.6 801.4L179.1 807.6L179.5 808.9L179.9 811.1L180.4 811.3L180.9 813.5L181.3 812.7L181.7 814.0L182.1 813.4L182.5 814.9L183.1 812.2L183.6 812.0L184.2 809.0L184.6 808.6L185.2 807.6L185.8 810.5L186.2 810.2L186.8 812.0L187.3 810.7L187.7 812.1L188.2 810.8L188.7 812.0L189.0 737.0L189.3 811.5L188.8 812.4L189.3 811.2L189.9 812.5L190.3 812.1L190.7 814.2L191.2 813.6L191.7 815.9L192.2 815.9L192.7 817.9L193.2 817.7L193.7 819.7L194.3 818.8L194.8 819.9L195.1 819.7L195.4 809.8L195.8 819.2L195.2 818.9L195.6 819.7L195.9 808.8L196.2 819.2L195.8 820.1L196.3 818.8L196.8 820.0L197.3 818.7L197.9 819.8L198.4 819.2L198.8 820.6L199.4 820.2L199.9 821.6L200.3 820.8L200.8 822.5L201.4 821.9L201.9 823.4L202.4 822.9L203.0 824.7L203.6 823.9L204.0 825.5L204.5 824.1L205.0 825.2L205.5 823.7L205.7 824.6L206.0 689.1L206.3 824.1L205.9 824.8L206.3 823.7L206.9 824.6L207.5 822.3L208.1 822.6L208.5 820.6L209.0 820.6L209.4 818.7L209.9 818.8L210.3 816.7L210.8 817.4L211.2 815.5L211.7 815.7L212.3 813.5L212.9 813.6L213.4 812.8L213.4 804.2L214.0 803.9L214.0 812.6L214.4 813.6L214.4 804.3L214.9 803.2L214.9 813.8L215.3 814.8L215.3 803.3L215.9 803.1L215.9 815.7L216.5 815.5L216.5 802.8L217.0 804.1L217.0 816.5L217.5 816.8L217.5 805.3L218.1 807.6L218.1 817.4L218.6 817.6L218.6 807.9L219.1 808.0L219.1 818.3L219.6 818.6L219.6 809.6L220.0 809.8L220.0 820.0L220.6 820.8L220.6 805.3L221.1 801.6L221.1 821.2L221.5 822.4L221.5 801.5L222.1 801.9L222.1 823.2L222.6 822.4L222.6 805.6L223.0 806.8L223.0 823.1L223.5 823.7L223.5 806.8L224.0 810.6L224.0 824.8L224.4 824.8L224.4 814.5L224.8 820.1L224.8 825.5L225.3 825.0L225.3 822.5L225.8 822.8L225.8 825.8L226.3 825.2L226.3 822.9L226.8 822.2L226.8 825.9L227.2 827.4L227.5 813.6L227.8 826.9L227.3 826.2L227.3 820.6L227.7 817.8L227.7 826.3L228.3 826.7L228.3 816.4L228.7 816.4L228.7 826.3L229.1 826.1L229.1 813.3L229.6 810.7L229.6 826.3L230.0 826.4L230.0 808.4L230.6 808.9L230.6 825.9L231.1 826.1L231.1 808.2L231.5 806.2L231.5 825.6L232.0 826.5L232.0 806.0L232.4 807.7L232.4 827.0L232.7 828.5L233.0 789.6L233.3 828.0L232.9 827.3L232.9 807.5L233.4 808.2L233.4 828.3L233.9 828.4L233.9 809.4L234.3 822.0L234.3 828.8L234.7 828.8L234.7 822.7L235.3 820.5L235.3 826.8L235.8 825.6L235.8 818.3L236.2 813.2L236.2 825.0L236.7 826.0L236.7 802.1L237.3 797.4L237.3 825.5L237.7 825.1L237.7 795.2L238.2 790.0L238.2 824.4L238.6 824.1L238.6 784.2L239.2 784.7L239.2 823.8L239.8 821.4L239.8 786.6L239.9 821.8L240.2 767.7L240.5 821.3L240.2 787.7L240.2 821.7L240.7 821.1L240.7 788.7L241.1 788.5L241.1 822.3L241.5 823.8L241.5 788.5L242.1 788.4L242.1 825.6L242.5 827.4L242.5 788.5L243.0 788.7L243.0 827.1L243.5 826.1L243.5 798.3L244.1 799.9L244.1 824.1L244.6 823.4L244.6 800.5L245.1 802.5L245.1 822.7L245.6 818.6L245.6 802.1L246.1 802.4L246.1 817.5L246.6 817.5L246.6 802.3L247.0 800.2L247.0 817.0L247.4 817.8L247.4 800.4L248.0 799.1L248.0 817.8L248.4 818.2L248.4 794.8L249.0 791.6L249.0 817.7L249.5 816.6L249.5 790.5L250.0 790.4L250.0 816.6L250.5 816.2L250.5 789.4L251.0 787.1L251.0 815.7L251.5 814.5L251.5 785.2L252.0 784.8L252.0 814.6L252.5 813.3L252.5 784.2L253.0 781.1L253.0 813.5L253.6 811.8L253.6 777.9L254.2 763.2L254.2 810.7L254.7 810.9L254.7 759.6L255.3 759.6L255.3 810.8L255.8 817.1L255.8 761.2L256.2 770.3L256.2 817.5L256.7 817.6L256.7 784.7L257.2 786.5L257.2 818.5L257.6 819.8L257.6 787.2L258.1 788.6L258.1 820.6L258.5 821.8L258.5 797.1L259.0 797.3L259.0 822.3L259.5 822.9L259.5 798.8L260.1 801.0L260.1 823.2L260.6 824.2L260.6 804.4L261.0 804.4L261.0 824.9L261.6 825.1L261.6 815.8L262.0 822.5L262.0 825.4L262.5 826.1L262.5 822.9L263.0 823.0L263.0 826.4L263.6 827.2L263.6 824.6L264.0 826.6L264.0 828.3L264.6 828.2L264.6 827.4L265.2 827.8L265.2 828.3L265.8 828.7L266.1 670.6L266.4 828.2L265.6 828.3L265.6 827.8L266.1 828.7L266.5 827.8L267.0 828.8L267.5 827.4L267.9 827.5L267.9 828.0L268.5 827.6L268.5 826.5L269.1 826.4L269.1 827.3L269.6 826.9L269.6 826.2L270.1 825.6L270.1 826.8L270.6 826.2L270.6 824.4L271.1 824.6L271.1 826.4L271.5 826.6L271.5 824.8L271.9 825.4L271.9 827.5L272.4 827.4L272.4 825.4L273.0 825.3L273.0 827.6L273.4 826.7L273.4 825.0L274.0 817.7L274.0 826.0L274.5 826.3L274.5 819.3L275.0 818.9L275.0 826.8L275.6 826.5L275.6 815.7L276.2 813.3L276.2 827.9L276.8 829.0L277.1 691.1L277.4 828.5L276.6 828.5L276.6 814.0L277.1 814.7L277.1 828.2L277.5 826.6L277.5 816.6L277.9 816.1L277.9 826.4L278.5 825.9L278.5 816.2L279.0 814.9L279.0 825.6L279.6 828.7L279.9 807.8L280.2 828.2L279.5 826.3L279.5 815.1L280.1 809.9L280.1 827.0L280.5 828.1L280.5 813.7L281.0 814.2L281.0 828.8L281.4 829.0L281.4 814.4L281.9 812.3L281.9 829.9L282.5 830.0L282.8 805.1L283.1 829.5L282.5 829.7L282.5 811.8L283.0 830.1L283.3 805.1L283.6 829.6L283.0 805.3L283.0 830.0L283.6 830.0L283.6 812.2L284.1 814.8L284.1 829.8L284.6 829.8L284.6 814.9L285.1 816.4L285.1 828.7L285.6 828.1L285.6 818.0L285.8 830.1L286.1 765.7L286.4 829.6L286.0 819.0L286.0 828.6L286.6 829.2L286.6 821.3L287.0 822.6L287.0 829.1L287.4 829.5L287.4 822.6L287.9 821.4L287.9 829.4L288.2 830.0L288.5 817.8L288.8 829.5L288.4 829.1L288.4 819.7L288.8 822.9L288.8 829.5L289.2 828.7L289.2 823.8L289.7 823.8L289.7 828.0L290.2 828.6L290.2 824.2L290.8 822.0L290.8 829.0L291.3 829.0L291.3 820.3L291.8 821.1L291.8 828.6L292.2 828.2L292.2 822.6L292.8 829.2L293.1 697.0L293.4 828.7L292.7 824.6L292.7 828.1L293.2 827.6L293.2 825.6L293.7 829.0L294.0 758.4L294.3 828.5L293.7 826.5L293.7 829.0L294.1 828.5L294.1 827.2L294.6 827.3L294.6 828.8L295.1 828.3L295.1 827.5L295.6 827.5L295.6 828.3L296.2 828.0L296.2 825.7L296.6 828.8L296.9 811.5L297.2 828.3L296.7 812.4L296.7 828.3L297.1 828.7L297.4 811.5L297.7 828.2L297.2 828.5L297.2 812.9L297.7 813.2L297.7 827.9L298.1 828.3L298.1 813.9L298.5 815.8L298.5 828.3L298.8 828.9L299.1 742.4L299.4 828.4L299.1 828.7L299.1 817.5L299.5 820.0L299.5 827.0L300.0 827.6L300.0 821.6L300.6 825.6L300.6 828.5L301.1 829.0L301.1 826.8L301.6 826.9L301.6 829.7L302.0 829.9L302.0 827.7L302.6 828.0L302.6 829.9L303.0 830.0L303.0 828.2L303.5 829.3L303.5 830.2L304.0 830.6L304.0 830.0L304.5 830.1L304.5 830.9L305.0 830.7L305.6 831.9L305.9 832.0L306.2 752.8L306.5 831.5L306.2 831.0L306.6 832.0L307.2 830.2L307.5 730.8L307.8 829.7L307.1 830.1L307.5 831.1L307.9 830.4L308.2 662.4L308.5 829.9L308.0 829.7L308.6 830.7L308.9 -978.0L309.2 830.2L308.5 831.0L308.9 829.5L309.4 830.8L309.9 831.1L309.9 830.0L310.4 830.1L310.4 830.7L310.9 831.4L310.9 830.4L311.5 830.5L311.5 831.8L312.0 831.4L312.0 830.6L312.2 832.7L312.5 739.7L312.8 832.2L312.4 830.6L312.4 831.7L312.9 831.4L312.9 830.5L313.3 830.1L313.3 830.8L313.9 830.4L313.9 828.8L314.3 828.3L314.3 829.0L314.8 827.6L314.8 825.6L315.3 821.2L315.3 826.9L315.7 825.5L315.7 818.7L316.3 818.5L316.3 824.1L316.7 823.4L316.7 817.9L317.2 814.5L317.2 822.6L317.7 822.5L317.7 811.6L318.3 815.6L318.3 823.9L318.8 827.4L318.8 817.4L319.3 827.8L319.3 828.7L319.9 829.0L320.4 830.8L320.8 829.9L321.3 831.6L321.9 830.9L322.4 832.0L322.9 830.5L323.4 831.6L324.0 829.9L324.5 830.7L325.1 829.5L325.1 828.8L325.5 820.8L325.5 825.8L326.1 819.1L326.1 801.9L326.5 813.2L326.8 777.2L327.1 812.7L326.6 800.6L326.6 813.4L327.0 817.6L327.0 789.4L327.6 821.2L327.6 828.4L328.2 828.1L328.2 824.4L328.6 825.5L328.6 827.7L329.1 827.6L329.1 825.8L329.6 825.2L329.6 827.8L330.2 827.7L330.2 825.7L330.6 825.3L330.6 828.0L331.2 830.2L331.2 822.0L331.7 817.4L331.7 831.0L332.2 830.1L332.2 816.7L332.8 830.5L333.0 723.8L333.2 822.0L333.4 807.7L333.4 725.0L333.7 724.1L333.7 780.7L334.0 780.8L334.0 725.0L334.3 -978.0L334.3 780.5L334.6 780.5L334.6 -978.0L334.9 -978.0L334.9 780.4L335.2 780.6L335.2 739.7L335.5 739.3L335.5 780.5L335.8 809.9L335.8 739.0L336.1 739.1L336.1 806.1L336.4 806.2L336.4 739.6L336.7 739.6L336.7 806.1L337.0 806.8L337.0 738.7L337.3 738.6L337.3 789.9L337.6 790.1L337.6 -978.0L337.9 -978.0L337.9 789.8L338.2 790.0L338.2 667.9L338.5 668.0L338.5 789.9L338.8 789.8L338.8 668.4L339.1 668.8L339.1 789.9L339.4 789.3L339.4 707.0L339.6 705.8L339.6 824.6L339.7 816.9L339.7 707.0L340.0 707.0L340.0 817.3L340.3 817.0L340.3 705.8L340.6 706.8L340.6 817.7L340.9 818.1L340.9 706.0L341.2 706.2L341.2 818.1L341.5 817.8L341.5 706.3L341.8 707.0L341.8 817.7L342.1 811.3L342.1 707.1L342.4 707.0L342.4 811.1L342.7 811.0L342.7 707.1L343.0 680.1L343.0 810.2L343.3 810.3L343.3 680.6L343.6 680.5L343.6 810.3L343.9 810.2L343.9 680.6L344.2 -978.0L344.2 811.2L344.5 811.2L344.5 -978.0L344.6 -978.0L344.6 826.6L344.8 823.3L344.8 -978.0L345.1 774.5L345.1 823.5L345.4 823.3L345.4 774.5L345.7 775.1L345.7 823.3L346.0 823.6L346.0 775.1L346.3 774.6L346.3 823.3L346.6 822.6L346.6 774.4L346.9 775.2L346.9 822.9L347.2 816.7L347.2 774.8L347.5 773.8L347.5 816.5L347.8 816.5L347.8 775.2L348.1 775.3L348.1 816.7L348.4 809.4L348.4 774.5L348.7 773.9L348.7 809.2L349.0 809.2L349.0 732.3L349.3 732.3L349.3 809.1L349.6 809.2L349.6 732.6L349.9 732.1L349.9 809.1L350.2 809.7L350.2 -978.0L350.5 -978.0L350.5 809.6L350.8 820.7L350.8 -978.0L351.1 -978.0L351.1 820.9L351.4 820.3L351.4 -978.0L351.7 -978.0L351.7 820.2L352.0 820.3L352.0 -978.0L352.3 -978.0L352.3 820.2L352.6 819.8L352.6 -978.0L352.9 -978.0L352.9 819.8L353.2 820.0L353.2 -978.0L353.5 -978.0L353.5 826.4L353.8 827.3L353.8 -978.0L354.1 -978.0L354.1 827.3L354.4 827.2L354.4 794.9L354.7 796.1L354.7 827.2L355.0 827.3L355.0 795.3L355.3 795.1L355.3 838.1L355.6 837.7L355.6 795.7L355.9 796.0L355.9 837.8L356.2 837.2L356.2 795.7L356.5 -978.0L356.5 837.2L356.8 837.2L356.8 -978.0L357.1 773.8L357.1 837.2L357.4 838.1L357.4 773.5L357.7 773.0L357.7 838.1L357.8 850.8L357.8 772.8L358.0 772.9L358.0 841.6L358.3 841.3L358.3 774.2L358.6 774.0L358.6 841.0L358.9 840.8L358.9 773.6L359.2 773.3L359.2 841.1L359.5 841.0L359.5 773.3L359.8 774.2L359.8 841.2L360.0 841.7L360.0 692.0L360.1 791.7L360.1 841.5L360.4 841.5L360.4 791.0L360.7 791.7L360.7 841.1L361.0 852.6L361.0 790.8L361.3 813.2L361.3 852.6L361.6 852.3L361.6 813.8L361.9 812.9L361.9 838.2L362.2 839.2L362.2 812.6L362.5 812.3L362.5 839.4L362.8 839.5L362.8 813.3L363.2 839.2L363.4 807.0L363.6 -978.0L364.3 724.5L364.7 -978.0" fill="none" stroke="#1f77b4" stroke-width="1.8" stroke-linejoin="round" stroke-linecap="butt"/>
<line x1="99.97" y1="854.89" x2="99.97" y2="864.79" stroke="#000" stroke-width="2.2"/>
<text x="99.97" y="886.19" font-family="'Liberation Serif', serif" font-size="16.2" text-anchor="middle" fill="#000">0</text>
<line x1="166.97" y1="854.89" x2="166.97" y2="864.79" stroke="#000" stroke-width="2.2"/>
<text x="166.67" y="886.19" font-family="'Liberation Serif', serif" font-size="16.2" text-anchor="middle" fill="#000">25</text>
<line x1="232.97" y1="854.89" x2="232.97" y2="864.79" stroke="#000" stroke-width="2.2"/>
<text x="232.97" y="886.19" font-family="'Liberation Serif', serif" font-size="16.2" text-anchor="middle" fill="#000">50</text>
<line x1="298.97" y1="854.89" x2="298.97" y2="864.79" stroke="#000" stroke-width="2.2"/>
<text x="298.97" y="886.19" font-family="'Liberation Serif', serif" font-size="16.2" text-anchor="middle" fill="#000">75</text>
<line x1="365.97" y1="854.89" x2="365.97" y2="864.79" stroke="#000" stroke-width="2.2"/>
<text x="364.67" y="886.19" font-family="'Liberation Serif', serif" font-size="16.2" text-anchor="middle" fill="#000">100</text>
<line x1="77.07" y1="818.90" x2="86.97" y2="818.90" stroke="#000" stroke-width="2.2"/>
<text x="67.17" y="824.80" font-family="'Liberation Serif', serif" font-size="16.2" text-anchor="end" fill="#000">64</text>
<line x1="77.07" y1="774.90" x2="86.97" y2="774.90" stroke="#000" stroke-width="2.2"/>
<text x="67.17" y="780.80" font-family="'Liberation Serif', serif" font-size="16.2" text-anchor="end" fill="#000">66</text>
<line x1="77.07" y1="731.90" x2="86.97" y2="731.90" stroke="#000" stroke-width="2.2"/>
<text x="67.17" y="737.80" font-family="'Liberation Serif', serif" font-size="16.2" text-anchor="end" fill="#000">68</text>
<line x1="77.07" y1="687.90" x2="86.97" y2="687.90" stroke="#000" stroke-width="2.2"/>
<text x="67.17" y="693.80" font-family="'Liberation Serif', serif" font-size="16.2" text-anchor="end" fill="#000">70</text>
<line x1="77.07" y1="644.90" x2="86.97" y2="644.90" stroke="#000" stroke-width="2.2"/>
<text x="67.17" y="650.80" font-family="'Liberation Serif', serif" font-size="16.2" text-anchor="end" fill="#000">72</text>
<rect x="86.97" y="636.87" width="292.03" height="218.02" fill="none" stroke="#000" stroke-width="2.2" stroke-linejoin="miter"/>
<text transform="translate(35.4 747.00) rotate(-90)" font-family="'Liberation Serif', serif" font-size="22.0" text-anchor="middle" fill="#000">Power (dBau)</text>
<text x="231.85" y="914.7" font-family="'Liberation Serif', serif" font-size="22.0" text-anchor="middle" fill="#000">Frequency (MHz)</text>
<clipPath id="c21"><rect x="436.97" y="636.87" width="292.03" height="218.02"/></clipPath>
<path clip-path="url(#c21)" d="M450.9 684.3L450.9 -978.0L451.9 -978.0L452.1 692.0L452.5 758.0L452.8 820.0L453.1 818.0L453.4 826.5L453.8 821.5L454.3 830.9L454.8 824.5L455.3 828.5L455.9 814.2L456.4 827.5L456.9 822.0L457.3 826.6L457.9 824.2L458.6 823.0L458.9 -978.0L459.2 821.5L459.5 815.2L459.5 806.9L460.0 806.9L460.0 814.5L460.4 812.5L460.4 805.0L460.8 802.4L460.8 809.9L461.3 807.4L461.3 800.3L461.8 796.9L461.8 806.0L462.3 805.6L462.3 795.6L462.8 795.2L462.8 803.6L463.4 801.6L463.4 795.2L463.7 801.6L464.0 -978.0L464.3 801.1L463.9 795.7L463.9 799.8L464.4 798.5L464.4 795.8L464.8 796.1L464.8 797.3L465.3 796.7L465.3 795.9L465.7 797.0L466.0 732.9L466.3 796.5L465.8 795.7L465.8 796.4L466.3 796.7L466.3 795.5L466.7 795.4L466.7 796.3L467.0 796.6L467.3 768.8L467.6 796.1L467.3 796.0L467.3 795.2L467.9 795.0L467.9 795.7L468.4 795.9L468.4 794.9L468.9 794.9L468.9 795.7L469.5 797.6L469.8 783.3L470.1 797.1L469.4 796.5L469.4 795.0L470.0 794.7L470.0 797.1L470.5 797.6L470.5 795.3L470.9 795.1L470.9 797.2L471.3 797.5L471.3 795.8L471.8 795.4L471.8 797.9L472.4 798.4L472.4 796.5L472.9 796.8L472.9 798.7L473.3 799.1L473.3 796.9L473.8 796.3L473.8 800.2L474.3 800.6L474.3 795.6L474.8 795.6L474.8 800.9L475.2 802.0L475.2 795.9L475.8 795.3L475.8 802.6L476.3 803.2L476.3 793.9L476.8 794.0L476.8 803.7L477.2 804.0L477.2 794.8L477.6 794.4L477.6 804.7L478.0 805.0L478.0 795.2L478.6 794.6L478.6 805.8L479.1 805.4L479.1 795.4L479.6 796.6L479.6 805.8L480.2 805.8L480.2 797.6L480.7 800.0L480.7 806.3L481.3 806.3L481.3 801.3L481.7 801.5L481.7 806.5L482.3 805.8L482.3 802.9L482.8 804.0L482.8 806.3L483.4 807.8L483.4 803.9L483.8 805.5L483.8 807.9L484.4 807.5L484.4 806.5L485.0 806.9L485.0 807.9L485.4 806.6L486.0 808.0L486.5 790.4L487.1 773.5L487.6 747.4L487.9 748.2L488.2 746.9L487.5 759.5L488.1 752.9L488.6 766.7L489.1 780.6L489.5 794.5L490.1 811.3L490.6 812.2L490.6 809.5L491.1 810.5L491.1 812.8L491.7 815.0L491.7 812.9L492.3 814.2L492.3 815.9L492.7 816.9L492.7 814.9L493.0 818.7L493.3 803.3L493.6 818.2L493.2 815.8L493.2 817.9L493.8 818.6L493.8 816.7L494.2 817.5L494.2 818.6L494.7 819.2L494.7 818.3L495.2 819.0L495.2 819.9L495.8 820.6L495.8 819.8L496.3 820.2L496.3 821.2L496.7 821.8L496.7 820.4L497.3 821.3L497.3 822.4L497.8 823.0L497.8 822.4L498.2 822.9L498.2 823.5L498.7 824.0L498.7 823.5L499.3 824.9L499.8 824.3L500.3 826.0L500.8 824.4L501.4 825.5L502.1 824.3L502.4 810.6L502.7 823.8L502.0 823.7L502.4 824.5L503.0 822.6L503.4 822.9L503.9 821.4L504.4 821.9L504.9 819.4L505.5 819.2L506.0 816.4L506.5 816.6L507.1 814.2L507.6 814.2L508.1 812.1L508.7 813.3L509.2 812.4L509.7 813.6L510.1 812.1L510.5 812.6L510.9 811.7L511.2 798.3L511.5 811.2L511.0 810.9L511.5 811.5L512.0 809.9L512.6 810.6L513.2 809.2L513.6 809.7L514.2 808.1L514.6 809.0L515.2 807.3L515.6 807.9L516.2 806.3L516.8 806.4L516.8 806.9L517.2 807.2L517.2 805.7L517.7 805.8L517.7 806.9L518.3 807.2L518.3 806.4L518.8 806.4L518.8 807.2L519.2 807.2L519.2 806.2L519.6 806.4L519.6 807.5L520.1 807.6L520.1 804.9L520.6 803.5L520.6 807.8L521.0 806.9L521.0 803.0L521.5 803.5L521.5 807.0L521.9 807.1L521.9 803.5L522.4 800.5L522.4 801.1L522.9 794.9L523.5 789.4L524.0 782.4L524.4 779.9L524.8 775.8L525.2 774.5L525.6 772.3L526.2 775.6L526.7 777.7L527.1 784.9L527.6 789.3L528.0 796.4L528.6 801.4L529.1 807.6L529.5 808.9L529.9 811.1L530.4 811.3L530.9 813.5L531.3 812.7L531.7 814.0L532.1 813.4L532.5 814.9L533.1 812.2L533.6 812.0L534.2 809.0L534.6 808.6L535.2 807.6L535.8 810.5L536.2 810.2L536.8 812.0L537.3 810.7L537.7 812.1L538.2 810.8L538.7 812.0L539.0 737.0L539.3 811.5L538.8 812.4L539.3 811.2L539.9 812.5L540.3 812.1L540.7 814.2L541.2 813.6L541.7 815.9L542.2 815.9L542.7 817.9L543.2 817.7L543.7 819.7L544.3 818.8L544.8 819.9L545.1 819.7L545.5 809.8L545.8 819.2L545.2 818.9L545.6 819.7L545.9 808.8L546.2 819.2L545.8 820.1L546.3 818.8L546.8 820.0L547.3 818.7L547.9 819.8L548.4 819.2L548.8 820.6L549.4 820.2L549.9 821.6L550.3 820.8L550.8 822.5L551.4 821.9L551.9 823.4L552.4 822.9L553.0 824.7L553.6 823.9L554.0 825.5L554.5 824.1L555.0 825.2L555.5 823.7L555.7 824.6L556.0 689.1L556.3 824.1L555.9 824.8L556.3 823.7L556.9 824.6L557.5 822.3L558.1 822.6L558.5 820.6L559.0 820.6L559.4 818.7L559.9 818.8L560.3 816.7L560.8 817.4L561.2 815.5L561.7 815.7L562.3 813.5L562.9 813.6L563.4 812.8L563.4 804.2L564.0 803.9L564.0 812.6L564.4 813.6L564.4 804.3L564.9 803.2L564.9 813.8L565.3 814.8L565.3 803.3L565.9 803.1L565.9 815.7L566.5 815.5L566.5 802.8L567.0 804.1L567.0 816.5L567.5 816.8L567.5 805.3L568.1 807.6L568.1 817.4L568.6 817.6L568.6 807.9L569.1 808.0L569.1 818.3L569.6 818.6L569.6 809.6L570.0 809.8L570.0 820.0L570.6 820.8L570.6 805.3L571.1 801.6L571.1 821.2L571.5 822.4L571.5 801.5L572.1 801.9L572.1 823.2L572.6 822.4L572.6 805.6L573.0 806.8L573.0 823.1L573.5 823.7L573.5 806.8L574.0 810.6L574.0 824.8L574.4 824.8L574.4 814.5L574.8 820.1L574.8 825.5L575.3 825.0L575.3 822.5L575.8 822.8L575.8 825.8L576.3 825.2L576.3 822.9L576.8 822.2L576.8 825.9L577.2 827.4L577.5 813.6L577.8 826.9L577.3 826.2L577.3 820.6L577.7 817.8L577.7 826.3L578.3 826.7L578.3 816.4L578.7 816.4L578.7 826.3L579.1 826.1L579.1 813.3L579.6 810.7L579.6 826.3L580.0 826.4L580.0 808.4L580.6 808.9L580.6 825.9L581.1 826.1L581.1 808.2L581.5 806.2L581.5 825.6L582.0 826.5L582.0 806.0L582.4 807.7L582.4 827.0L582.7 828.5L583.0 789.6L583.3 828.0L582.9 827.3L582.9 807.5L583.4 808.2L583.4 828.3L583.9 828.4L583.9 809.4L584.3 822.0L584.3 828.8L584.7 828.8L584.7 822.7L585.3 820.5L585.3 826.8L585.8 825.6L585.8 818.3L586.2 813.2L586.2 825.0L586.7 826.0L586.7 802.1L587.3 797.4L587.3 825.5L587.7 825.1L587.7 795.2L588.2 790.0L588.2 824.4L588.6 824.1L588.6 784.2L589.2 784.7L589.2 823.8L589.8 821.4L589.8 786.6L589.9 821.8L590.2 767.7L590.5 821.3L590.2 787.7L590.2 821.7L590.7 821.1L590.7 788.7L591.1 788.5L591.1 822.3L591.5 823.8L591.5 788.5L592.1 788.4L592.1 825.6L592.5 827.4L592.5 788.5L593.0 788.7L593.0 827.1L593.5 826.1L593.5 798.3L594.1 799.9L594.1 824.1L594.6 823.4L594.6 800.5L595.1 802.5L595.1 822.7L595.6 818.6L595.6 802.1L596.1 802.4L596.1 817.5L596.6 817.5L596.6 802.3L597.0 800.2L597.0 817.0L597.4 817.8L597.4 800.4L598.0 799.1L598.0 817.8L598.4 818.2L598.4 794.8L599.0 791.6L599.0 817.7L599.5 816.6L599.5 790.5L600.0 790.4L600.0 816.6L600.5 816.2L600.5 789.4L601.0 787.1L601.0 815.7L601.5 814.5L601.5 785.2L602.0 784.8L602.0 814.6L602.5 813.3L602.5 784.2L603.0 781.1L603.0 813.5L603.6 811.8L603.6 777.9L604.2 763.2L604.2 810.7L604.7 810.9L604.7 759.6L605.3 759.6L605.3 810.8L605.8 817.1L605.8 761.2L606.2 770.3L606.2 817.5L606.7 817.6L606.7 784.7L607.2 786.5L607.2 818.5L607.6 819.8L607.6 787.2L608.1 788.6L608.1 820.6L608.5 821.8L608.5 797.1L609.0 797.3L609.0 822.3L609.5 822.9L609.5 798.8L610.1 801.0L610.1 823.2L610.6 824.2L610.6 804.4L611.0 804.4L611.0 824.9L611.6 825.1L611.6 815.8L612.0 822.5L612.0 825.4L612.5 826.1L612.5 822.9L613.0 823.0L613.0 826.4L613.6 827.2L613.6 824.6L614.0 826.6L614.0 828.3L614.6 828.2L614.6 827.4L615.2 827.8L615.2 828.3L615.8 828.7L616.0 670.6L616.4 828.2L615.6 828.3L615.6 827.8L616.1 828.7L616.5 827.8L617.0 828.8L617.5 827.4L617.9 827.5L617.9 828.0L618.5 827.6L618.5 826.5L619.1 826.4L619.1 827.3L619.6 826.9L619.6 826.2L620.1 825.6L620.1 826.8L620.6 826.2L620.6 824.4L621.1 824.6L621.1 826.4L621.5 826.6L621.5 824.8L621.9 825.4L621.9 827.5L622.4 827.4L622.4 825.4L623.0 825.3L623.0 827.6L623.4 826.7L623.4 825.0L624.0 817.7L624.0 826.0L624.5 826.3L624.5 819.3L625.0 818.9L625.0 826.8L625.6 826.5L625.6 815.7L626.2 813.3L626.2 827.9L626.8 829.0L627.0 691.1L627.4 828.5L626.6 828.5L626.6 814.0L627.1 814.7L627.1 828.2L627.5 826.6L627.5 816.6L627.9 816.1L627.9 826.4L628.5 825.9L628.5 816.2L629.0 814.9L629.0 825.6L629.6 828.7L629.9 807.8L630.2 828.2L629.5 826.3L629.5 815.1L630.1 809.9L630.1 827.0L630.5 828.1L630.5 813.7L631.0 814.2L631.0 828.8L631.4 829.0L631.4 814.4L631.9 812.3L631.9 829.9L632.5 830.0L632.8 805.1L633.1 829.5L632.5 829.7L632.5 811.8L633.0 830.1L633.3 805.1L633.6 829.6L633.0 805.3L633.0 830.0L633.6 830.0L633.6 812.2L634.1 814.8L634.1 829.8L634.6 829.8L634.6 814.9L635.1 816.4L635.1 828.7L635.6 828.1L635.6 818.0L635.8 830.1L636.1 765.7L636.4 829.6L636.0 819.0L636.0 828.6L636.6 829.2L636.6 821.3L637.0 822.6L637.0 829.1L637.4 829.5L637.4 822.6L637.9 821.4L637.9 829.4L638.2 830.0L638.5 817.8L638.8 829.5L638.4 829.1L638.4 819.7L638.8 822.9L638.8 829.5L639.2 828.7L639.2 823.8L639.7 823.8L639.7 828.0L640.2 828.6L640.2 824.2L640.8 822.0L640.8 829.0L641.3 829.0L641.3 820.3L641.8 821.1L641.8 828.6L642.2 828.2L642.2 822.6L642.8 829.2L643.1 697.0L643.4 828.7L642.7 824.6L642.7 828.1L643.2 827.6L643.2 825.6L643.7 829.0L644.0 758.4L644.3 828.5L643.7 826.5L643.7 829.0L644.1 828.5L644.1 827.2L644.6 827.3L644.6 828.8L645.1 828.3L645.1 827.5L645.6 827.5L645.6 828.3L646.2 828.0L646.2 825.7L646.6 828.8L646.9 811.5L647.2 828.3L646.7 812.4L646.7 828.3L647.1 828.7L647.4 811.5L647.7 828.2L647.2 828.5L647.2 812.9L647.7 813.2L647.7 827.9L648.1 828.3L648.1 813.9L648.5 815.8L648.5 828.3L648.8 828.9L649.1 742.4L649.4 828.4L649.1 828.7L649.1 817.5L649.5 820.0L649.5 827.0L650.0 827.6L650.0 821.6L650.6 825.6L650.6 828.5L651.1 829.0L651.1 826.8L651.6 826.9L651.6 829.7L652.0 829.9L652.0 827.7L652.6 828.0L652.6 829.9L653.0 830.0L653.0 828.2L653.5 829.3L653.5 830.2L654.0 830.6L654.0 830.0L654.5 830.1L654.5 830.9L655.0 830.7L655.6 831.9L655.9 832.0L656.2 752.8L656.5 831.5L656.2 831.0L656.6 832.0L657.2 830.2L657.5 730.8L657.8 829.7L657.1 830.1L657.5 831.1L657.9 830.4L658.2 662.4L658.5 829.9L658.0 829.7L658.6 830.7L658.9 -978.0L659.2 830.2L658.5 831.0L658.9 829.5L659.4 830.8L659.9 831.1L659.9 830.0L660.4 830.1L660.4 830.7L660.9 831.4L660.9 830.4L661.5 830.5L661.5 831.8L662.0 831.4L662.0 830.6L662.2 832.7L662.5 739.7L662.8 832.2L662.4 830.6L662.4 831.7L662.9 831.4L662.9 830.5L663.3 830.1L663.3 830.8L663.9 830.4L663.9 828.8L664.3 828.3L664.3 829.0L664.8 827.6L664.8 825.6L665.3 821.2L665.3 826.9L665.7 825.5L665.7 818.7L666.3 818.5L666.3 824.1L666.7 823.4L666.7 817.9L667.2 814.5L667.2 822.6L667.7 822.5L667.7 811.6L668.3 815.6L668.3 823.9L668.8 827.4L668.8 817.4L669.3 827.8L669.3 828.7L669.9 829.0L670.4 830.8L670.8 829.9L671.3 831.6L671.9 830.9L672.4 832.0L672.9 830.5L673.4 831.6L674.0 829.9L674.5 830.7L675.1 829.5L675.1 828.8L675.5 820.8L675.5 825.8L676.1 819.1L676.1 801.9L676.5 813.2L676.8 777.2L677.1 812.7L676.6 800.6L676.6 813.4L677.0 817.6L677.0 789.4L677.6 821.2L677.6 828.4L678.2 828.1L678.2 824.4L678.6 825.5L678.6 827.7L679.1 827.6L679.1 825.8L679.6 825.2L679.6 827.8L680.2 827.7L680.2 825.7L680.6 825.3L680.6 828.0L681.2 830.2L681.2 822.0L681.7 817.4L681.7 831.0L682.2 830.1L682.2 816.7L682.8 830.5L683.0 723.8L683.2 822.0L683.4 807.7L683.4 725.0L683.7 724.1L683.7 780.7L684.0 780.8L684.0 725.0L684.3 -978.0L684.3 780.5L684.6 780.5L684.6 -978.0L684.9 -978.0L684.9 780.4L685.2 780.6L685.2 739.7L685.5 739.3L685.5 780.5L685.8 809.9L685.8 739.0L686.1 739.1L686.1 806.1L686.4 806.2L686.4 739.6L686.7 739.6L686.7 806.1L687.0 806.8L687.0 738.7L687.3 738.6L687.3 789.9L687.6 790.1L687.6 -978.0L687.9 -978.0L687.9 789.8L688.2 790.0L688.2 667.9L688.5 668.0L688.5 789.9L688.8 789.8L688.8 668.4L689.1 668.8L689.1 789.9L689.4 789.3L689.4 707.0L689.5 705.8L689.5 824.6L689.7 816.9L689.7 707.0L690.0 707.0L690.0 817.3L690.3 817.0L690.3 705.8L690.6 706.8L690.6 817.7L690.9 818.1L690.9 706.0L691.2 706.2L691.2 818.1L691.5 817.8L691.5 706.3L691.8 707.0L691.8 817.7L692.1 811.3L692.1 707.1L692.4 707.0L692.4 811.1L692.7 811.0L692.7 707.1L693.0 680.1L693.0 810.2L693.3 810.3L693.3 680.6L693.6 680.5L693.6 810.3L693.9 810.2L693.9 680.6L694.2 -978.0L694.2 811.2L694.5 811.2L694.5 -978.0L694.5 -978.0L694.5 826.6L694.8 823.3L694.8 -978.0L695.1 774.5L695.1 823.5L695.4 823.3L695.4 774.5L695.7 775.1L695.7 823.3L696.0 823.6L696.0 775.1L696.3 774.6L696.3 823.3L696.6 822.6L696.6 774.4L696.9 775.2L696.9 822.9L697.2 816.7L697.2 774.8L697.5 773.8L697.5 816.5L697.8 816.5L697.8 775.2L698.1 775.3L698.1 816.7L698.4 809.4L698.4 774.5L698.7 773.9L698.7 809.2L699.0 809.2L699.0 732.3L699.3 732.3L699.3 809.1L699.6 809.2L699.6 732.6L699.9 732.1L699.9 809.1L700.2 809.7L700.2 -978.0L700.5 -978.0L700.5 809.6L700.8 820.7L700.8 -978.0L701.1 -978.0L701.1 820.9L701.4 820.3L701.4 -978.0L701.7 -978.0L701.7 820.2L702.0 820.3L702.0 -978.0L702.3 -978.0L702.3 820.2L702.6 819.8L702.6 -978.0L702.9 -978.0L702.9 819.8L703.2 820.0L703.2 -978.0L703.5 -978.0L703.5 826.4L703.8 827.3L703.8 -978.0L704.1 -978.0L704.1 827.3L704.4 827.2L704.4 794.9L704.7 796.1L704.7 827.2L705.0 827.3L705.0 795.3L705.3 795.1L705.3 838.1L705.6 837.7L705.6 795.7L705.9 796.0L705.9 837.8L706.2 837.2L706.2 795.7L706.5 -978.0L706.5 837.2L706.8 837.2L706.8 -978.0L707.1 773.8L707.1 837.2L707.4 838.1L707.4 773.5L707.7 773.0L707.7 838.1L707.8 850.8L707.8 772.8L708.0 772.9L708.0 841.6L708.3 841.3L708.3 774.2L708.6 774.0L708.6 841.0L708.9 840.8L708.9 773.6L709.2 773.3L709.2 841.1L709.5 841.0L709.5 773.3L709.8 774.2L709.8 841.2L710.0 841.7L710.0 692.0L710.1 791.7L710.1 841.5L710.4 841.5L710.4 791.0L710.7 791.7L710.7 841.1L711.0 852.6L711.0 790.8L711.3 813.2L711.3 852.6L711.6 852.3L711.6 813.8L711.9 812.9L711.9 838.2L712.2 839.2L712.2 812.6L712.5 812.3L712.5 839.4L712.8 839.5L712.8 813.3L713.2 839.2L713.4 807.0L713.6 -978.0L714.3 724.5L714.7 -978.0" fill="none" stroke="#1f77b4" stroke-width="1.8" stroke-linejoin="round" stroke-linecap="butt"/>
<line x1="449.97" y1="854.89" x2="449.97" y2="864.79" stroke="#000" stroke-width="2.2"/>
<text x="449.97" y="886.19" font-family="'Liberation Serif', serif" font-size="16.2" text-anchor="middle" fill="#000">0</text>
<line x1="516.97" y1="854.89" x2="516.97" y2="864.79" stroke="#000" stroke-width="2.2"/>
<text x="516.67" y="886.19" font-family="'Liberation Serif', serif" font-size="16.2" text-anchor="middle" fill="#000">25</text>
<line x1="582.97" y1="854.89" x2="582.97" y2="864.79" stroke="#000" stroke-width="2.2"/>
<text x="582.97" y="886.19" font-family="'Liberation Serif', serif" font-size="16.2" text-anchor="middle" fill="#000">50</text>
<line x1="648.97" y1="854.89" x2="648.97" y2="864.79" stroke="#000" stroke-width="2.2"/>
<text x="648.97" y="886.19" font-family="'Liberation Serif', serif" font-size="16.2" text-anchor="middle" fill="#000">75</text>
<line x1="715.97" y1="854.89" x2="715.97" y2="864.79" stroke="#000" stroke-width="2.2"/>
<text x="714.67" y="886.19" font-family="'Liberation Serif', serif" font-size="16.2" text-anchor="middle" fill="#000">100</text>
<line x1="427.07" y1="818.90" x2="436.97" y2="818.90" stroke="#000" stroke-width="2.2"/>
<text x="417.17" y="824.80" font-family="'Liberation Serif', serif" font-size="16.2" text-anchor="end" fill="#000">64</text>
<line x1="427.07" y1="774.90" x2="436.97" y2="774.90" stroke="#000" stroke-width="2.2"/>
<text x="417.17" y="780.80" font-family="'Liberation Serif', serif" font-size="16.2" text-anchor="end" fill="#000">66</text>
<line x1="427.07" y1="731.90" x2="436.97" y2="731.90" stroke="#000" stroke-width="2.2"/>
<text x="417.17" y="737.80" font-family="'Liberation Serif', serif" font-size="16.2" text-anchor="end" fill="#000">68</text>
<line x1="427.07" y1="687.90" x2="436.97" y2="687.90" stroke="#000" stroke-width="2.2"/>
<text x="417.17" y="693.80" font-family="'Liberation Serif', serif" font-size="16.2" text-anchor="end" fill="#000">70</text>
<line x1="427.07" y1="644.90" x2="436.97" y2="644.90" stroke="#000" stroke-width="2.2"/>
<text x="417.17" y="650.80" font-family="'Liberation Serif', serif" font-size="16.2" text-anchor="end" fill="#000">72</text>
<rect x="436.97" y="636.87" width="292.03" height="218.02" fill="none" stroke="#000" stroke-width="2.2" stroke-linejoin="miter"/>
<text x="582.80" y="914.7" font-family="'Liberation Serif', serif" font-size="22.0" text-anchor="middle" fill="#000">Frequency (MHz)</text>
<clipPath id="c22"><rect x="786.97" y="636.87" width="292.03" height="218.02"/></clipPath>
<path clip-path="url(#c22)" d="M800.9 684.3L801.0 -978.0L801.9 -978.0L802.1 692.0L802.5 758.0L802.8 820.0L803.1 818.0L803.4 826.5L803.8 821.5L804.3 830.9L804.8 824.5L805.3 828.5L806.0 814.2L806.4 827.5L806.9 822.0L807.3 826.6L807.9 824.2L808.6 823.0L809.0 -978.0L809.2 821.5L809.5 815.2L809.5 806.9L810.0 806.9L810.0 814.5L810.4 812.5L810.4 805.0L810.8 802.4L810.8 809.9L811.3 807.4L811.3 800.3L811.8 796.9L811.8 806.0L812.3 805.6L812.3 795.6L812.8 795.2L812.8 803.6L813.4 801.6L813.4 795.2L813.7 801.6L814.0 -978.0L814.3 801.1L813.9 795.7L813.9 799.8L814.4 798.5L814.4 795.8L814.8 796.1L814.8 797.3L815.3 796.7L815.3 795.9L815.7 797.0L816.0 732.9L816.3 796.5L815.8 795.7L815.8 796.4L816.3 796.7L816.3 795.5L816.7 795.4L816.7 796.3L817.0 796.6L817.3 768.8L817.6 796.1L817.3 796.0L817.3 795.2L817.9 795.0L817.9 795.7L818.4 795.9L818.4 794.9L818.9 794.9L818.9 795.7L819.5 797.6L819.8 783.3L820.1 797.1L819.4 796.5L819.4 795.0L820.0 794.7L820.0 797.1L820.5 797.6L820.5 795.3L820.9 795.1L820.9 797.2L821.3 797.5L821.3 795.8L821.8 795.4L821.8 797.9L822.4 798.4L822.4 796.5L822.9 796.8L822.9 798.7L823.3 799.1L823.3 796.9L823.8 796.3L823.8 800.2L824.3 800.6L824.3 795.6L824.8 795.6L824.8 800.9L825.2 802.0L825.2 795.9L825.8 795.3L825.8 802.6L826.3 803.2L826.3 793.9L826.8 794.0L826.8 803.7L827.2 804.0L827.2 794.8L827.6 794.4L827.6 804.7L828.0 805.0L828.0 795.2L828.6 794.6L828.6 805.8L829.1 805.4L829.1 795.4L829.6 796.6L829.6 805.8L830.2 805.8L830.2 797.6L830.7 800.0L830.7 806.3L831.3 806.3L831.3 801.3L831.7 801.5L831.7 806.5L832.3 805.8L832.3 802.9L832.8 804.0L832.8 806.3L833.4 807.8L833.4 803.9L833.8 805.5L833.8 807.9L834.4 807.5L834.4 806.5L835.0 806.9L835.0 807.9L835.4 806.6L836.0 808.0L836.5 790.4L837.1 773.5L837.6 747.4L837.9 748.2L838.2 746.9L837.5 759.5L838.1 752.9L838.6 766.7L839.1 780.6L839.5 794.5L840.1 811.3L840.6 812.2L840.6 809.5L841.1 810.5L841.1 812.8L841.7 815.0L841.7 812.9L842.3 814.2L842.3 815.9L842.7 816.9L842.7 814.9L843.0 818.7L843.3 803.3L843.6 818.2L843.2 815.8L843.2 817.9L843.8 818.6L843.8 816.7L844.2 817.5L844.2 818.6L844.7 819.2L844.7 818.3L845.2 819.0L845.2 819.9L845.8 820.6L845.8 819.8L846.3 820.2L846.3 821.2L846.7 821.8L846.7 820.4L847.3 821.3L847.3 822.4L847.8 823.0L847.8 822.4L848.2 822.9L848.2 823.5L848.7 824.0L848.7 823.5L849.3 824.9L849.8 824.3L850.3 826.0L850.8 824.4L851.4 825.5L852.1 824.3L852.4 810.6L852.7 823.8L852.0 823.7L852.4 824.5L853.0 822.6L853.4 822.9L853.9 821.4L854.4 821.9L854.9 819.4L855.5 819.2L856.0 816.4L856.5 816.6L857.1 814.2L857.6 814.2L858.1 812.1L858.7 813.3L859.2 812.4L859.7 813.6L860.1 812.1L860.5 812.6L860.9 811.7L861.2 798.3L861.5 811.2L861.0 810.9L861.5 811.5L862.0 809.9L862.6 810.6L863.2 809.2L863.6 809.7L864.2 808.1L864.6 809.0L865.2 807.3L865.6 807.9L866.2 806.3L866.8 806.4L866.8 806.9L867.2 807.2L867.2 805.7L867.7 805.8L867.7 806.9L868.3 807.2L868.3 806.4L868.8 806.4L868.8 807.2L869.2 807.2L869.2 806.2L869.6 806.4L869.6 807.5L870.1 807.6L870.1 804.9L870.6 803.5L870.6 807.8L871.0 806.9L871.0 803.0L871.5 803.5L871.5 807.0L871.9 807.1L871.9 803.5L872.4 800.5L872.4 801.1L872.9 794.9L873.5 789.4L874.0 782.4L874.4 779.9L874.8 775.8L875.2 774.5L875.6 772.3L876.2 775.6L876.7 777.7L877.1 784.9L877.6 789.3L878.0 796.4L878.6 801.4L879.1 807.6L879.5 808.9L879.9 811.1L880.4 811.3L880.9 813.5L881.3 812.7L881.7 814.0L882.1 813.4L882.5 814.9L883.1 812.2L883.6 812.0L884.2 809.0L884.6 808.6L885.2 807.6L885.8 810.5L886.2 810.2L886.8 812.0L887.3 810.7L887.7 812.1L888.2 810.8L888.7 812.0L889.0 737.0L889.3 811.5L888.8 812.4L889.3 811.2L889.9 812.5L890.3 812.1L890.7 814.2L891.2 813.6L891.7 815.9L892.2 815.9L892.7 817.9L893.2 817.7L893.7 819.7L894.3 818.8L894.8 819.9L895.1 819.7L895.5 809.8L895.8 819.2L895.2 818.9L895.6 819.7L895.9 808.8L896.2 819.2L895.8 820.1L896.3 818.8L896.8 820.0L897.3 818.7L897.9 819.8L898.4 819.2L898.8 820.6L899.4 820.2L899.9 821.6L900.3 820.8L900.8 822.5L901.4 821.9L901.9 823.4L902.4 822.9L903.0 824.7L903.6 823.9L904.0 825.5L904.5 824.1L905.0 825.2L905.5 823.7L905.7 824.6L906.0 689.1L906.3 824.1L905.9 824.8L906.3 823.7L906.9 824.6L907.5 822.3L908.1 822.6L908.5 820.6L909.0 820.6L909.4 818.7L909.9 818.8L910.3 816.7L910.8 817.4L911.2 815.5L911.7 815.7L912.3 813.5L912.9 813.6L913.4 812.8L913.4 804.2L914.0 803.9L914.0 812.6L914.4 813.6L914.4 804.3L914.9 803.2L914.9 813.8L915.3 814.8L915.3 803.3L915.9 803.1L915.9 815.7L916.5 815.5L916.5 802.8L917.0 804.1L917.0 816.5L917.5 816.8L917.5 805.3L918.1 807.6L918.1 817.4L918.6 817.6L918.6 807.9L919.1 808.0L919.1 818.3L919.6 818.6L919.6 809.6L920.0 809.8L920.0 820.0L920.6 820.8L920.6 805.3L921.1 801.6L921.1 821.2L921.5 822.4L921.5 801.5L922.1 801.9L922.1 823.2L922.6 822.4L922.6 805.6L923.0 806.8L923.0 823.1L923.5 823.7L923.5 806.8L924.0 810.6L924.0 824.8L924.4 824.8L924.4 814.5L924.8 820.1L924.8 825.5L925.3 825.0L925.3 822.5L925.8 822.8L925.8 825.8L926.3 825.2L926.3 822.9L926.8 822.2L926.8 825.9L927.2 827.4L927.5 813.6L927.8 826.9L927.3 826.2L927.3 820.6L927.7 817.8L927.7 826.3L928.3 826.7L928.3 816.4L928.7 816.4L928.7 826.3L929.1 826.1L929.1 813.3L929.6 810.7L929.6 826.3L930.0 826.4L930.0 808.4L930.6 808.9L930.6 825.9L931.1 826.1L931.1 808.2L931.5 806.2L931.5 825.6L932.0 826.5L932.0 806.0L932.4 807.7L932.4 827.0L932.7 828.5L933.0 789.6L933.3 828.0L932.9 827.3L932.9 807.5L933.4 808.2L933.4 828.3L933.9 828.4L933.9 809.4L934.3 822.0L934.3 828.8L934.7 828.8L934.7 822.7L935.3 820.5L935.3 826.8L935.8 825.6L935.8 818.3L936.2 813.2L936.2 825.0L936.7 826.0L936.7 802.1L937.3 797.4L937.3 825.5L937.7 825.1L937.7 795.2L938.2 790.0L938.2 824.4L938.6 824.1L938.6 784.2L939.2 784.7L939.2 823.8L939.8 821.4L939.8 786.6L939.9 821.8L940.2 767.7L940.5 821.3L940.2 787.7L940.2 821.7L940.7 821.1L940.7 788.7L941.1 788.5L941.1 822.3L941.5 823.8L941.5 788.5L942.1 788.4L942.1 825.6L942.5 827.4L942.5 788.5L943.0 788.7L943.0 827.1L943.5 826.1L943.5 798.3L944.1 799.9L944.1 824.1L944.6 823.4L944.6 800.5L945.1 802.5L945.1 822.7L945.6 818.6L945.6 802.1L946.1 802.4L946.1 817.5L946.6 817.5L946.6 802.3L947.0 800.2L947.0 817.0L947.4 817.8L947.4 800.4L948.0 799.1L948.0 817.8L948.4 818.2L948.4 794.8L949.0 791.6L949.0 817.7L949.5 816.6L949.5 790.5L950.0 790.4L950.0 816.6L950.5 816.2L950.5 789.4L951.0 787.1L951.0 815.7L951.5 814.5L951.5 785.2L952.0 784.8L952.0 814.6L952.5 813.3L952.5 784.2L953.0 781.1L953.0 813.5L953.6 811.8L953.6 777.9L954.2 763.2L954.2 810.7L954.7 810.9L954.7 759.6L955.3 759.6L955.3 810.8L955.8 817.1L955.8 761.2L956.2 770.3L956.2 817.5L956.7 817.6L956.7 784.7L957.2 786.5L957.2 818.5L957.6 819.8L957.6 787.2L958.1 788.6L958.1 820.6L958.5 821.8L958.5 797.1L959.0 797.3L959.0 822.3L959.5 822.9L959.5 798.8L960.1 801.0L960.1 823.2L960.6 824.2L960.6 804.4L961.0 804.4L961.0 824.9L961.6 825.1L961.6 815.8L962.0 822.5L962.0 825.4L962.5 826.1L962.5 822.9L963.0 823.0L963.0 826.4L963.6 827.2L963.6 824.6L964.0 826.6L964.0 828.3L964.6 828.2L964.6 827.4L965.2 827.8L965.2 828.3L965.8 828.7L966.0 670.6L966.4 828.2L965.6 828.3L965.6 827.8L966.1 828.7L966.5 827.8L967.0 828.8L967.5 827.4L967.9 827.5L967.9 828.0L968.5 827.6L968.5 826.5L969.1 826.4L969.1 827.3L969.6 826.9L969.6 826.2L970.1 825.6L970.1 826.8L970.6 826.2L970.6 824.4L971.1 824.6L971.1 826.4L971.5 826.6L971.5 824.8L971.9 825.4L971.9 827.5L972.4 827.4L972.4 825.4L973.0 825.3L973.0 827.6L973.4 826.7L973.4 825.0L974.0 817.7L974.0 826.0L974.5 826.3L974.5 819.3L975.0 818.9L975.0 826.8L975.6 826.5L975.6 815.7L976.2 813.3L976.2 827.9L976.8 829.0L977.0 691.1L977.4 828.5L976.6 828.5L976.6 814.0L977.1 814.7L977.1 828.2L977.5 826.6L977.5 816.6L977.9 816.1L977.9 826.4L978.5 825.9L978.5 816.2L979.0 814.9L979.0 825.6L979.6 828.7L979.9 807.8L980.2 828.2L979.5 826.3L979.5 815.1L980.1 809.9L980.1 827.0L980.5 828.1L980.5 813.7L981.0 814.2L981.0 828.8L981.4 829.0L981.4 814.4L981.9 812.3L981.9 829.9L982.5 830.0L982.8 805.1L983.1 829.5L982.5 829.7L982.5 811.8L983.0 830.1L983.3 805.1L983.6 829.6L983.0 805.3L983.0 830.0L983.6 830.0L983.6 812.2L984.1 814.8L984.1 829.8L984.6 829.8L984.6 814.9L985.1 816.4L985.1 828.7L985.6 828.1L985.6 818.0L985.8 830.1L986.1 765.7L986.4 829.6L986.0 819.0L986.0 828.6L986.6 829.2L986.6 821.3L987.0 822.6L987.0 829.1L987.4 829.5L987.4 822.6L987.9 821.4L987.9 829.4L988.2 830.0L988.5 817.8L988.8 829.5L988.4 829.1L988.4 819.7L988.8 822.9L988.8 829.5L989.2 828.7L989.2 823.8L989.7 823.8L989.7 828.0L990.2 828.6L990.2 824.2L990.8 822.0L990.8 829.0L991.3 829.0L991.3 820.3L991.8 821.1L991.8 828.6L992.2 828.2L992.2 822.6L992.8 829.2L993.1 697.0L993.4 828.7L992.7 824.6L992.7 828.1L993.2 827.6L993.2 825.6L993.7 829.0L994.0 758.4L994.3 828.5L993.7 826.5L993.7 829.0L994.1 828.5L994.1 827.2L994.6 827.3L994.6 828.8L995.1 828.3L995.1 827.5L995.6 827.5L995.6 828.3L996.2 828.0L996.2 825.7L996.6 828.8L996.9 811.5L997.2 828.3L996.7 812.4L996.7 828.3L997.1 828.7L997.4 811.5L997.7 828.2L997.2 828.5L997.2 812.9L997.7 813.2L997.7 827.9L998.1 828.3L998.1 813.9L998.5 815.8L998.5 828.3L998.8 828.9L999.1 742.4L999.4 828.4L999.1 828.7L999.1 817.5L999.5 820.0L999.5 827.0L1000.0 827.6L1000.0 821.6L1000.6 825.6L1000.6 828.5L1001.1 829.0L1001.1 826.8L1001.6 826.9L1001.6 829.7L1002.0 829.9L1002.0 827.7L1002.6 828.0L1002.6 829.9L1003.0 830.0L1003.0 828.2L1003.5 829.3L1003.5 830.2L1004.0 830.6L1004.0 830.0L1004.5 830.1L1004.5 830.9L1005.0 830.7L1005.6 831.9L1005.9 832.0L1006.2 752.8L1006.5 831.5L1006.2 831.0L1006.6 832.0L1007.2 830.2L1007.5 730.8L1007.8 829.7L1007.1 830.1L1007.5 831.1L1007.9 830.4L1008.2 662.4L1008.5 829.9L1008.0 829.7L1008.6 830.7L1008.9 -978.0L1009.2 830.2L1008.5 831.0L1008.9 829.5L1009.4 830.8L1009.9 831.1L1009.9 830.0L1010.4 830.1L1010.4 830.7L1010.9 831.4L1010.9 830.4L1011.5 830.5L1011.5 831.8L1012.0 831.4L1012.0 830.6L1012.2 832.7L1012.5 739.7L1012.8 832.2L1012.4 830.6L1012.4 831.7L1012.9 831.4L1012.9 830.5L1013.3 830.1L1013.3 830.8L1013.9 830.4L1013.9 828.8L1014.3 828.3L1014.3 829.0L1014.8 827.6L1014.8 825.6L1015.3 821.2L1015.3 826.9L1015.7 825.5L1015.7 818.7L1016.3 818.5L1016.3 824.1L1016.7 823.4L1016.7 817.9L1017.2 814.5L1017.2 822.6L1017.7 822.5L1017.7 811.6L1018.3 815.6L1018.3 823.9L1018.8 827.4L1018.8 817.4L1019.3 827.8L1019.3 828.7L1019.9 829.0L1020.4 830.8L1020.8 829.9L1021.3 831.6L1021.9 830.9L1022.4 832.0L1022.9 830.5L1023.4 831.6L1024.0 829.9L1024.5 830.7L1025.1 829.5L1025.1 828.8L1025.5 820.8L1025.5 825.8L1026.1 819.1L1026.1 801.9L1026.5 813.2L1026.8 777.2L1027.1 812.7L1026.6 800.6L1026.6 813.4L1027.0 817.6L1027.0 789.4L1027.6 821.2L1027.6 828.4L1028.2 828.1L1028.2 824.4L1028.6 825.5L1028.6 827.7L1029.1 827.6L1029.1 825.8L1029.6 825.2L1029.6 827.8L1030.2 827.7L1030.2 825.7L1030.6 825.3L1030.6 828.0L1031.2 830.2L1031.2 822.0L1031.7 817.4L1031.7 831.0L1032.2 830.1L1032.2 816.7L1032.8 830.5L1033.0 723.8L1033.2 822.0L1033.4 807.7L1033.4 725.0L1033.7 724.1L1033.7 780.7L1034.0 780.8L1034.0 725.0L1034.3 -978.0L1034.3 780.5L1034.6 780.5L1034.6 -978.0L1034.9 -978.0L1034.9 780.4L1035.2 780.6L1035.2 739.7L1035.5 739.3L1035.5 780.5L1035.8 809.9L1035.8 739.0L1036.1 739.1L1036.1 806.1L1036.4 806.2L1036.4 739.6L1036.7 739.6L1036.7 806.1L1037.0 806.8L1037.0 738.7L1037.3 738.6L1037.3 789.9L1037.6 790.1L1037.6 -978.0L1037.9 -978.0L1037.9 789.8L1038.2 790.0L1038.2 667.9L1038.5 668.0L1038.5 789.9L1038.8 789.8L1038.8 668.4L1039.1 668.8L1039.1 789.9L1039.4 789.3L1039.4 707.0L1039.5 705.8L1039.5 824.6L1039.7 816.9L1039.7 707.0L1040.0 707.0L1040.0 817.3L1040.3 817.0L1040.3 705.8L1040.6 706.8L1040.6 817.7L1040.9 818.1L1040.9 706.0L1041.2 706.2L1041.2 818.1L1041.5 817.8L1041.5 706.3L1041.8 707.0L1041.8 817.7L1042.1 811.3L1042.1 707.1L1042.4 707.0L1042.4 811.1L1042.7 811.0L1042.7 707.1L1043.0 680.1L1043.0 810.2L1043.3 810.3L1043.3 680.6L1043.6 680.5L1043.6 810.3L1043.9 810.2L1043.9 680.6L1044.2 -978.0L1044.2 811.2L1044.5 811.2L1044.5 -978.0L1044.5 -978.0L1044.5 826.6L1044.8 823.3L1044.8 -978.0L1045.1 774.5L1045.1 823.5L1045.4 823.3L1045.4 774.5L1045.7 775.1L1045.7 823.3L1046.0 823.6L1046.0 775.1L1046.3 774.6L1046.3 823.3L1046.6 822.6L1046.6 774.4L1046.9 775.2L1046.9 822.9L1047.2 816.7L1047.2 774.8L1047.5 773.8L1047.5 816.5L1047.8 816.5L1047.8 775.2L1048.1 775.3L1048.1 816.7L1048.4 809.4L1048.4 774.5L1048.7 773.9L1048.7 809.2L1049.0 809.2L1049.0 732.3L1049.3 732.3L1049.3 809.1L1049.6 809.2L1049.6 732.6L1049.9 732.1L1049.9 809.1L1050.2 809.7L1050.2 -978.0L1050.5 -978.0L1050.5 809.6L1050.8 820.7L1050.8 -978.0L1051.1 -978.0L1051.1 820.9L1051.4 820.3L1051.4 -978.0L1051.7 -978.0L1051.7 820.2L1052.0 820.3L1052.0 -978.0L1052.3 -978.0L1052.3 820.2L1052.6 819.8L1052.6 -978.0L1052.9 -978.0L1052.9 819.8L1053.2 820.0L1053.2 -978.0L1053.5 -978.0L1053.5 826.4L1053.8 827.3L1053.8 -978.0L1054.1 -978.0L1054.1 827.3L1054.4 827.2L1054.4 794.9L1054.7 796.1L1054.7 827.2L1055.0 827.3L1055.0 795.3L1055.3 795.1L1055.3 838.1L1055.6 837.7L1055.6 795.7L1055.9 796.0L1055.9 837.8L1056.2 837.2L1056.2 795.7L1056.5 -978.0L1056.5 837.2L1056.8 837.2L1056.8 -978.0L1057.1 773.8L1057.1 837.2L1057.4 838.1L1057.4 773.5L1057.7 773.0L1057.7 838.1L1057.8 850.8L1057.8 772.8L1058.0 772.9L1058.0 841.6L1058.3 841.3L1058.3 774.2L1058.6 774.0L1058.6 841.0L1058.9 840.8L1058.9 773.6L1059.2 773.3L1059.2 841.1L1059.5 841.0L1059.5 773.3L1059.8 774.2L1059.8 841.2L1060.0 841.7L1060.0 692.0L1060.1 791.7L1060.1 841.5L1060.4 841.5L1060.4 791.0L1060.7 791.7L1060.7 841.1L1061.0 852.6L1061.0 790.8L1061.3 813.2L1061.3 852.6L1061.6 852.3L1061.6 813.8L1061.9 812.9L1061.9 838.2L1062.2 839.2L1062.2 812.6L1062.5 812.3L1062.5 839.4L1062.8 839.5L1062.8 813.3L1063.2 839.2L1063.4 807.0L1063.7 -978.0L1064.3 724.5L1064.7 -978.0" fill="none" stroke="#1f77b4" stroke-width="1.8" stroke-linejoin="round" stroke-linecap="butt"/>
<line x1="799.97" y1="854.89" x2="799.97" y2="864.79" stroke="#000" stroke-width="2.2"/>
<text x="799.97" y="886.19" font-family="'Liberation Serif', serif" font-size="16.2" text-anchor="middle" fill="#000">0</text>
<line x1="866.97" y1="854.89" x2="866.97" y2="864.79" stroke="#000" stroke-width="2.2"/>
<text x="866.67" y="886.19" font-family="'Liberation Serif', serif" font-size="16.2" text-anchor="middle" fill="#000">25</text>
<line x1="932.97" y1="854.89" x2="932.97" y2="864.79" stroke="#000" stroke-width="2.2"/>
<text x="932.97" y="886.19" font-family="'Liberation Serif', serif" font-size="16.2" text-anchor="middle" fill="#000">50</text>
<line x1="998.97" y1="854.89" x2="998.97" y2="864.79" stroke="#000" stroke-width="2.2"/>
<text x="998.97" y="886.19" font-family="'Liberation Serif', serif" font-size="16.2" text-anchor="middle" fill="#000">75</text>
<line x1="1065.97" y1="854.89" x2="1065.97" y2="864.79" stroke="#000" stroke-width="2.2"/>
<text x="1064.67" y="886.19" font-family="'Liberation Serif', serif" font-size="16.2" text-anchor="middle" fill="#000">100</text>
<line x1="777.07" y1="818.90" x2="786.97" y2="818.90" stroke="#000" stroke-width="2.2"/>
<text x="767.17" y="824.80" font-family="'Liberation Serif', serif" font-size="16.2" text-anchor="end" fill="#000">64</text>
<line x1="777.07" y1="774.90" x2="786.97" y2="774.90" stroke="#000" stroke-width="2.2"/>
<text x="767.17" y="780.80" font-family="'Liberation Serif', serif" font-size="16.2" text-anchor="end" fill="#000">66</text>
<line x1="777.07" y1="731.90" x2="786.97" y2="731.90" stroke="#000" stroke-width="2.2"/>
<text x="767.17" y="737.80" font-family="'Liberation Serif', serif" font-size="16.2" text-anchor="end" fill="#000">68</text>
<line x1="777.07" y1="687.90" x2="786.97" y2="687.90" stroke="#000" stroke-width="2.2"/>
<text x="767.17" y="693.80" font-family="'Liberation Serif', serif" font-size="16.2" text-anchor="end" fill="#000">70</text>
<line x1="777.07" y1="644.90" x2="786.97" y2="644.90" stroke="#000" stroke-width="2.2"/>
<text x="767.17" y="650.80" font-family="'Liberation Serif', serif" font-size="16.2" text-anchor="end" fill="#000">72</text>
<rect x="786.97" y="636.87" width="292.03" height="218.02" fill="none" stroke="#000" stroke-width="2.2" stroke-linejoin="miter"/>
<text x="932.80" y="914.7" font-family="'Liberation Serif', serif" font-size="22.0" text-anchor="middle" fill="#000">Frequency (MHz)</text>
</svg>
</body>
</html>
